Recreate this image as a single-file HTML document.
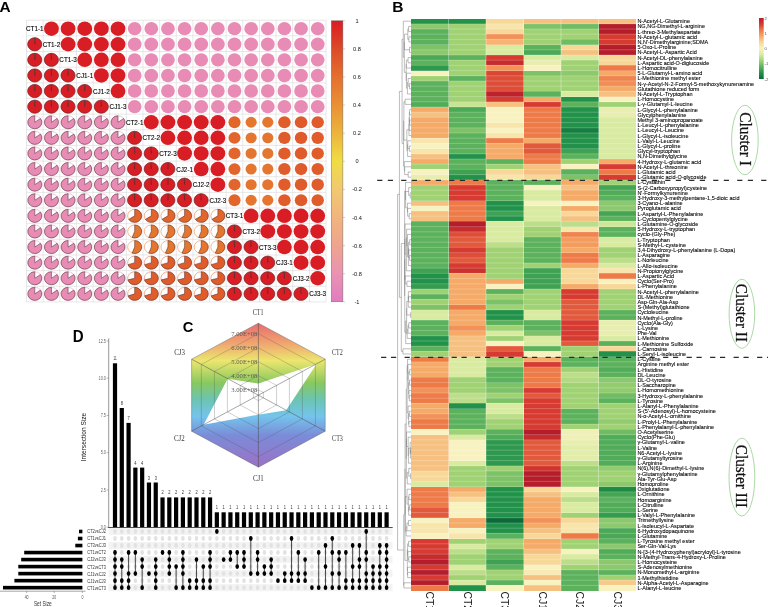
<!DOCTYPE html>
<html><head><meta charset="utf-8"><style>html,body{margin:0;padding:0;background:#fff;width:768px;height:607px;overflow:hidden;position:relative}</style></head>
<body>
<svg width="768" height="607" viewBox="0 0 768 607" style="position:absolute;left:0;top:0;will-change:transform">
<defs>
<linearGradient id="cbA" x1="0" y1="0" x2="0" y2="1"><stop offset="0" stop-color="#d91c24"/><stop offset="0.1" stop-color="#dc4a28"/><stop offset="0.2" stop-color="#e4702e"/><stop offset="0.3" stop-color="#e99034"/><stop offset="0.4" stop-color="#ecb43c"/><stop offset="0.5" stop-color="#efdd44"/><stop offset="0.6" stop-color="#f1c870"/><stop offset="0.7" stop-color="#f1b47e"/><stop offset="0.8" stop-color="#eea48e"/><stop offset="0.9" stop-color="#ea92b2"/><stop offset="1" stop-color="#e07cc0"/></linearGradient>
<linearGradient id="cbB" x1="0" y1="1" x2="0" y2="0"><stop offset="0" stop-color="#0a6a38"/><stop offset="0.1" stop-color="#22924a"/><stop offset="0.2" stop-color="#5cb25c"/><stop offset="0.3" stop-color="#a0d274"/><stop offset="0.4" stop-color="#d8eba0"/><stop offset="0.5" stop-color="#f8f2c0"/><stop offset="0.6" stop-color="#f8d898"/><stop offset="0.7" stop-color="#f5aa68"/><stop offset="0.8" stop-color="#ee7a48"/><stop offset="0.9" stop-color="#d63a30"/><stop offset="1" stop-color="#b51d2b"/></linearGradient>
<linearGradient id="hexg" x1="0" y1="0" x2="0" y2="1"><stop offset="0" stop-color="#e86c6e"/><stop offset="0.13" stop-color="#f0a070"/><stop offset="0.26" stop-color="#ece66e"/><stop offset="0.415" stop-color="#88c860"/><stop offset="0.526" stop-color="#6cc4b0"/><stop offset="0.647" stop-color="#74c4ec"/><stop offset="0.78" stop-color="#7a8cd8"/><stop offset="1" stop-color="#9c70c6"/></linearGradient>
</defs>
<rect x="0" y="0" width="768" height="607" fill="#fff"/>
<g font-family='"Liberation Sans", sans-serif' font-weight="bold" font-size="12" fill="#000">
<text transform="translate(-0.40 11.70) scale(1.100 1)" x="0" y="0" font-size="14.00">A</text>
<text transform="translate(392.30 11.70) scale(1.110 1)" x="0" y="0" font-size="14.00">B</text>
<text transform="translate(182.85 331.80) scale(0.960 1)" x="0" y="0" font-size="15.30">C</text>
<text transform="translate(72.70 341.60) scale(0.955 1)" x="0" y="0" font-size="15.80">D</text>
</g>
<g stroke="#d6d6d6" stroke-width="0.6">
<line x1="26.50" y1="20.20" x2="26.50" y2="301.90"/>
<line x1="26.50" y1="20.20" x2="326.02" y2="20.20"/>
<line x1="43.14" y1="20.20" x2="43.14" y2="301.90"/>
<line x1="26.50" y1="35.85" x2="326.02" y2="35.85"/>
<line x1="59.78" y1="20.20" x2="59.78" y2="301.90"/>
<line x1="26.50" y1="51.50" x2="326.02" y2="51.50"/>
<line x1="76.42" y1="20.20" x2="76.42" y2="301.90"/>
<line x1="26.50" y1="67.15" x2="326.02" y2="67.15"/>
<line x1="93.06" y1="20.20" x2="93.06" y2="301.90"/>
<line x1="26.50" y1="82.80" x2="326.02" y2="82.80"/>
<line x1="109.70" y1="20.20" x2="109.70" y2="301.90"/>
<line x1="26.50" y1="98.45" x2="326.02" y2="98.45"/>
<line x1="126.34" y1="20.20" x2="126.34" y2="301.90"/>
<line x1="26.50" y1="114.10" x2="326.02" y2="114.10"/>
<line x1="142.98" y1="20.20" x2="142.98" y2="301.90"/>
<line x1="26.50" y1="129.75" x2="326.02" y2="129.75"/>
<line x1="159.62" y1="20.20" x2="159.62" y2="301.90"/>
<line x1="26.50" y1="145.40" x2="326.02" y2="145.40"/>
<line x1="176.26" y1="20.20" x2="176.26" y2="301.90"/>
<line x1="26.50" y1="161.05" x2="326.02" y2="161.05"/>
<line x1="192.90" y1="20.20" x2="192.90" y2="301.90"/>
<line x1="26.50" y1="176.70" x2="326.02" y2="176.70"/>
<line x1="209.54" y1="20.20" x2="209.54" y2="301.90"/>
<line x1="26.50" y1="192.35" x2="326.02" y2="192.35"/>
<line x1="226.18" y1="20.20" x2="226.18" y2="301.90"/>
<line x1="26.50" y1="208.00" x2="326.02" y2="208.00"/>
<line x1="242.82" y1="20.20" x2="242.82" y2="301.90"/>
<line x1="26.50" y1="223.65" x2="326.02" y2="223.65"/>
<line x1="259.46" y1="20.20" x2="259.46" y2="301.90"/>
<line x1="26.50" y1="239.30" x2="326.02" y2="239.30"/>
<line x1="276.10" y1="20.20" x2="276.10" y2="301.90"/>
<line x1="26.50" y1="254.95" x2="326.02" y2="254.95"/>
<line x1="292.74" y1="20.20" x2="292.74" y2="301.90"/>
<line x1="26.50" y1="270.60" x2="326.02" y2="270.60"/>
<line x1="309.38" y1="20.20" x2="309.38" y2="301.90"/>
<line x1="26.50" y1="286.25" x2="326.02" y2="286.25"/>
<line x1="326.02" y1="20.20" x2="326.02" y2="301.90"/>
<line x1="26.50" y1="301.90" x2="326.02" y2="301.90"/>
</g>
<ellipse cx="51.46" cy="28.65" rx="7.43" ry="7.23" fill="#d91d24"/>
<ellipse cx="68.10" cy="28.65" rx="7.43" ry="7.23" fill="#d91d24"/>
<ellipse cx="84.74" cy="28.65" rx="7.43" ry="7.23" fill="#d91d24"/>
<ellipse cx="101.38" cy="28.65" rx="7.43" ry="7.23" fill="#d91d24"/>
<ellipse cx="118.02" cy="28.65" rx="7.43" ry="7.23" fill="#d91d24"/>
<ellipse cx="134.66" cy="28.65" rx="6.87" ry="6.68" fill="#e88cb6"/>
<ellipse cx="151.30" cy="28.65" rx="6.87" ry="6.68" fill="#e88cb6"/>
<ellipse cx="167.94" cy="28.65" rx="6.87" ry="6.68" fill="#e88cb6"/>
<ellipse cx="184.58" cy="28.65" rx="6.87" ry="6.68" fill="#e88cb6"/>
<ellipse cx="201.22" cy="28.65" rx="6.87" ry="6.68" fill="#e88cb6"/>
<ellipse cx="217.86" cy="28.65" rx="6.87" ry="6.68" fill="#e88cb6"/>
<ellipse cx="234.50" cy="28.65" rx="6.87" ry="6.68" fill="#e88cb6"/>
<ellipse cx="251.14" cy="28.65" rx="6.87" ry="6.68" fill="#e88cb6"/>
<ellipse cx="267.78" cy="28.65" rx="6.87" ry="6.68" fill="#e88cb6"/>
<ellipse cx="284.42" cy="28.65" rx="6.87" ry="6.68" fill="#e88cb6"/>
<ellipse cx="301.06" cy="28.65" rx="6.87" ry="6.68" fill="#e88cb6"/>
<ellipse cx="317.70" cy="28.65" rx="6.87" ry="6.68" fill="#e88cb6"/>
<ellipse cx="34.82" cy="44.25" rx="7.00" ry="6.50" fill="none" stroke="#d91d24" stroke-width="0.5"/>
<path d="M34.82 44.25 L34.82 37.75 A7.00 6.50 0 1 1 34.60 37.75 Z" fill="#d91d24" stroke="#4a2a2a" stroke-opacity="0.85" stroke-width="0.6"/>
<ellipse cx="68.10" cy="44.25" rx="7.43" ry="7.23" fill="#d91d24"/>
<ellipse cx="84.74" cy="44.25" rx="7.43" ry="7.23" fill="#d91d24"/>
<ellipse cx="101.38" cy="44.25" rx="7.43" ry="7.23" fill="#d91d24"/>
<ellipse cx="118.02" cy="44.25" rx="7.43" ry="7.23" fill="#d91d24"/>
<ellipse cx="134.66" cy="44.25" rx="6.87" ry="6.68" fill="#e88cb6"/>
<ellipse cx="151.30" cy="44.25" rx="6.87" ry="6.68" fill="#e88cb6"/>
<ellipse cx="167.94" cy="44.25" rx="6.87" ry="6.68" fill="#e88cb6"/>
<ellipse cx="184.58" cy="44.25" rx="6.87" ry="6.68" fill="#e88cb6"/>
<ellipse cx="201.22" cy="44.25" rx="6.87" ry="6.68" fill="#e88cb6"/>
<ellipse cx="217.86" cy="44.25" rx="6.87" ry="6.68" fill="#e88cb6"/>
<ellipse cx="234.50" cy="44.25" rx="6.87" ry="6.68" fill="#e88cb6"/>
<ellipse cx="251.14" cy="44.25" rx="6.87" ry="6.68" fill="#e88cb6"/>
<ellipse cx="267.78" cy="44.25" rx="6.87" ry="6.68" fill="#e88cb6"/>
<ellipse cx="284.42" cy="44.25" rx="6.87" ry="6.68" fill="#e88cb6"/>
<ellipse cx="301.06" cy="44.25" rx="6.87" ry="6.68" fill="#e88cb6"/>
<ellipse cx="317.70" cy="44.25" rx="6.87" ry="6.68" fill="#e88cb6"/>
<ellipse cx="34.82" cy="59.85" rx="7.00" ry="6.50" fill="none" stroke="#d91d24" stroke-width="0.5"/>
<path d="M34.82 59.85 L34.82 53.35 A7.00 6.50 0 1 1 34.60 53.35 Z" fill="#d91d24" stroke="#4a2a2a" stroke-opacity="0.85" stroke-width="0.6"/>
<ellipse cx="51.46" cy="59.85" rx="7.00" ry="6.50" fill="none" stroke="#d91d24" stroke-width="0.5"/>
<path d="M51.46 59.85 L51.46 53.35 A7.00 6.50 0 1 1 51.24 53.35 Z" fill="#d91d24" stroke="#4a2a2a" stroke-opacity="0.85" stroke-width="0.6"/>
<ellipse cx="84.74" cy="59.85" rx="7.43" ry="7.23" fill="#d91d24"/>
<ellipse cx="101.38" cy="59.85" rx="7.43" ry="7.23" fill="#d91d24"/>
<ellipse cx="118.02" cy="59.85" rx="7.43" ry="7.23" fill="#d91d24"/>
<ellipse cx="134.66" cy="59.85" rx="6.87" ry="6.68" fill="#e88cb6"/>
<ellipse cx="151.30" cy="59.85" rx="6.87" ry="6.68" fill="#e88cb6"/>
<ellipse cx="167.94" cy="59.85" rx="6.87" ry="6.68" fill="#e88cb6"/>
<ellipse cx="184.58" cy="59.85" rx="6.87" ry="6.68" fill="#e88cb6"/>
<ellipse cx="201.22" cy="59.85" rx="6.87" ry="6.68" fill="#e88cb6"/>
<ellipse cx="217.86" cy="59.85" rx="6.87" ry="6.68" fill="#e88cb6"/>
<ellipse cx="234.50" cy="59.85" rx="6.87" ry="6.68" fill="#e88cb6"/>
<ellipse cx="251.14" cy="59.85" rx="6.87" ry="6.68" fill="#e88cb6"/>
<ellipse cx="267.78" cy="59.85" rx="6.87" ry="6.68" fill="#e88cb6"/>
<ellipse cx="284.42" cy="59.85" rx="6.87" ry="6.68" fill="#e88cb6"/>
<ellipse cx="301.06" cy="59.85" rx="6.87" ry="6.68" fill="#e88cb6"/>
<ellipse cx="317.70" cy="59.85" rx="6.87" ry="6.68" fill="#e88cb6"/>
<ellipse cx="34.82" cy="75.45" rx="7.00" ry="6.50" fill="none" stroke="#d91d24" stroke-width="0.5"/>
<path d="M34.82 75.45 L34.82 68.95 A7.00 6.50 0 1 1 34.60 68.95 Z" fill="#d91d24" stroke="#4a2a2a" stroke-opacity="0.85" stroke-width="0.6"/>
<ellipse cx="51.46" cy="75.45" rx="7.00" ry="6.50" fill="none" stroke="#d91d24" stroke-width="0.5"/>
<path d="M51.46 75.45 L51.46 68.95 A7.00 6.50 0 1 1 51.24 68.95 Z" fill="#d91d24" stroke="#4a2a2a" stroke-opacity="0.85" stroke-width="0.6"/>
<ellipse cx="68.10" cy="75.45" rx="7.00" ry="6.50" fill="none" stroke="#d91d24" stroke-width="0.5"/>
<path d="M68.10 75.45 L68.10 68.95 A7.00 6.50 0 1 1 67.88 68.95 Z" fill="#d91d24" stroke="#4a2a2a" stroke-opacity="0.85" stroke-width="0.6"/>
<ellipse cx="101.38" cy="75.45" rx="7.43" ry="7.23" fill="#d91d24"/>
<ellipse cx="118.02" cy="75.45" rx="7.43" ry="7.23" fill="#d91d24"/>
<ellipse cx="134.66" cy="75.45" rx="6.87" ry="6.68" fill="#e88cb6"/>
<ellipse cx="151.30" cy="75.45" rx="6.87" ry="6.68" fill="#e88cb6"/>
<ellipse cx="167.94" cy="75.45" rx="6.87" ry="6.68" fill="#e88cb6"/>
<ellipse cx="184.58" cy="75.45" rx="6.87" ry="6.68" fill="#e88cb6"/>
<ellipse cx="201.22" cy="75.45" rx="6.87" ry="6.68" fill="#e88cb6"/>
<ellipse cx="217.86" cy="75.45" rx="6.87" ry="6.68" fill="#e88cb6"/>
<ellipse cx="234.50" cy="75.45" rx="6.87" ry="6.68" fill="#e88cb6"/>
<ellipse cx="251.14" cy="75.45" rx="6.87" ry="6.68" fill="#e88cb6"/>
<ellipse cx="267.78" cy="75.45" rx="6.87" ry="6.68" fill="#e88cb6"/>
<ellipse cx="284.42" cy="75.45" rx="6.87" ry="6.68" fill="#e88cb6"/>
<ellipse cx="301.06" cy="75.45" rx="6.87" ry="6.68" fill="#e88cb6"/>
<ellipse cx="317.70" cy="75.45" rx="6.87" ry="6.68" fill="#e88cb6"/>
<ellipse cx="34.82" cy="91.05" rx="7.00" ry="6.50" fill="none" stroke="#d91d24" stroke-width="0.5"/>
<path d="M34.82 91.05 L34.82 84.55 A7.00 6.50 0 1 1 34.60 84.55 Z" fill="#d91d24" stroke="#4a2a2a" stroke-opacity="0.85" stroke-width="0.6"/>
<ellipse cx="51.46" cy="91.05" rx="7.00" ry="6.50" fill="none" stroke="#d91d24" stroke-width="0.5"/>
<path d="M51.46 91.05 L51.46 84.55 A7.00 6.50 0 1 1 51.24 84.55 Z" fill="#d91d24" stroke="#4a2a2a" stroke-opacity="0.85" stroke-width="0.6"/>
<ellipse cx="68.10" cy="91.05" rx="7.00" ry="6.50" fill="none" stroke="#d91d24" stroke-width="0.5"/>
<path d="M68.10 91.05 L68.10 84.55 A7.00 6.50 0 1 1 67.88 84.55 Z" fill="#d91d24" stroke="#4a2a2a" stroke-opacity="0.85" stroke-width="0.6"/>
<ellipse cx="84.74" cy="91.05" rx="7.00" ry="6.50" fill="none" stroke="#d91d24" stroke-width="0.5"/>
<path d="M84.74 91.05 L84.74 84.55 A7.00 6.50 0 1 1 84.52 84.55 Z" fill="#d91d24" stroke="#4a2a2a" stroke-opacity="0.85" stroke-width="0.6"/>
<ellipse cx="118.02" cy="91.05" rx="7.43" ry="7.23" fill="#d91d24"/>
<ellipse cx="134.66" cy="91.05" rx="6.87" ry="6.68" fill="#e88cb6"/>
<ellipse cx="151.30" cy="91.05" rx="6.87" ry="6.68" fill="#e88cb6"/>
<ellipse cx="167.94" cy="91.05" rx="6.87" ry="6.68" fill="#e88cb6"/>
<ellipse cx="184.58" cy="91.05" rx="6.87" ry="6.68" fill="#e88cb6"/>
<ellipse cx="201.22" cy="91.05" rx="6.87" ry="6.68" fill="#e88cb6"/>
<ellipse cx="217.86" cy="91.05" rx="6.87" ry="6.68" fill="#e88cb6"/>
<ellipse cx="234.50" cy="91.05" rx="6.87" ry="6.68" fill="#e88cb6"/>
<ellipse cx="251.14" cy="91.05" rx="6.87" ry="6.68" fill="#e88cb6"/>
<ellipse cx="267.78" cy="91.05" rx="6.87" ry="6.68" fill="#e88cb6"/>
<ellipse cx="284.42" cy="91.05" rx="6.87" ry="6.68" fill="#e88cb6"/>
<ellipse cx="301.06" cy="91.05" rx="6.87" ry="6.68" fill="#e88cb6"/>
<ellipse cx="317.70" cy="91.05" rx="6.87" ry="6.68" fill="#e88cb6"/>
<ellipse cx="34.82" cy="106.65" rx="7.00" ry="6.50" fill="none" stroke="#d91d24" stroke-width="0.5"/>
<path d="M34.82 106.65 L34.82 100.15 A7.00 6.50 0 1 1 34.60 100.15 Z" fill="#d91d24" stroke="#4a2a2a" stroke-opacity="0.85" stroke-width="0.6"/>
<ellipse cx="51.46" cy="106.65" rx="7.00" ry="6.50" fill="none" stroke="#d91d24" stroke-width="0.5"/>
<path d="M51.46 106.65 L51.46 100.15 A7.00 6.50 0 1 1 51.24 100.15 Z" fill="#d91d24" stroke="#4a2a2a" stroke-opacity="0.85" stroke-width="0.6"/>
<ellipse cx="68.10" cy="106.65" rx="7.00" ry="6.50" fill="none" stroke="#d91d24" stroke-width="0.5"/>
<path d="M68.10 106.65 L68.10 100.15 A7.00 6.50 0 1 1 67.88 100.15 Z" fill="#d91d24" stroke="#4a2a2a" stroke-opacity="0.85" stroke-width="0.6"/>
<ellipse cx="84.74" cy="106.65" rx="7.00" ry="6.50" fill="none" stroke="#d91d24" stroke-width="0.5"/>
<path d="M84.74 106.65 L84.74 100.15 A7.00 6.50 0 1 1 84.52 100.15 Z" fill="#d91d24" stroke="#4a2a2a" stroke-opacity="0.85" stroke-width="0.6"/>
<ellipse cx="101.38" cy="106.65" rx="7.00" ry="6.50" fill="none" stroke="#d91d24" stroke-width="0.5"/>
<path d="M101.38 106.65 L101.38 100.15 A7.00 6.50 0 1 1 101.16 100.15 Z" fill="#d91d24" stroke="#4a2a2a" stroke-opacity="0.85" stroke-width="0.6"/>
<ellipse cx="134.66" cy="106.65" rx="6.87" ry="6.68" fill="#e88cb6"/>
<ellipse cx="151.30" cy="106.65" rx="6.87" ry="6.68" fill="#e88cb6"/>
<ellipse cx="167.94" cy="106.65" rx="6.87" ry="6.68" fill="#e88cb6"/>
<ellipse cx="184.58" cy="106.65" rx="6.87" ry="6.68" fill="#e88cb6"/>
<ellipse cx="201.22" cy="106.65" rx="6.87" ry="6.68" fill="#e88cb6"/>
<ellipse cx="217.86" cy="106.65" rx="6.87" ry="6.68" fill="#e88cb6"/>
<ellipse cx="234.50" cy="106.65" rx="6.87" ry="6.68" fill="#e88cb6"/>
<ellipse cx="251.14" cy="106.65" rx="6.87" ry="6.68" fill="#e88cb6"/>
<ellipse cx="267.78" cy="106.65" rx="6.87" ry="6.68" fill="#e88cb6"/>
<ellipse cx="284.42" cy="106.65" rx="6.87" ry="6.68" fill="#e88cb6"/>
<ellipse cx="301.06" cy="106.65" rx="6.87" ry="6.68" fill="#e88cb6"/>
<ellipse cx="317.70" cy="106.65" rx="6.87" ry="6.68" fill="#e88cb6"/>
<ellipse cx="34.82" cy="122.25" rx="7.00" ry="6.50" fill="none" stroke="#e88cb6" stroke-width="0.5"/>
<path d="M34.82 122.25 L34.82 115.75 A7.00 6.50 0 1 0 40.48 118.43 Z" fill="#e88cb6" stroke="#4a2a2a" stroke-opacity="0.85" stroke-width="0.6"/>
<ellipse cx="51.46" cy="122.25" rx="7.00" ry="6.50" fill="none" stroke="#e88cb6" stroke-width="0.5"/>
<path d="M51.46 122.25 L51.46 115.75 A7.00 6.50 0 1 0 57.12 118.43 Z" fill="#e88cb6" stroke="#4a2a2a" stroke-opacity="0.85" stroke-width="0.6"/>
<ellipse cx="68.10" cy="122.25" rx="7.00" ry="6.50" fill="none" stroke="#e88cb6" stroke-width="0.5"/>
<path d="M68.10 122.25 L68.10 115.75 A7.00 6.50 0 1 0 73.76 118.43 Z" fill="#e88cb6" stroke="#4a2a2a" stroke-opacity="0.85" stroke-width="0.6"/>
<ellipse cx="84.74" cy="122.25" rx="7.00" ry="6.50" fill="none" stroke="#e88cb6" stroke-width="0.5"/>
<path d="M84.74 122.25 L84.74 115.75 A7.00 6.50 0 1 0 90.40 118.43 Z" fill="#e88cb6" stroke="#4a2a2a" stroke-opacity="0.85" stroke-width="0.6"/>
<ellipse cx="101.38" cy="122.25" rx="7.00" ry="6.50" fill="none" stroke="#e88cb6" stroke-width="0.5"/>
<path d="M101.38 122.25 L101.38 115.75 A7.00 6.50 0 1 0 107.04 118.43 Z" fill="#e88cb6" stroke="#4a2a2a" stroke-opacity="0.85" stroke-width="0.6"/>
<ellipse cx="118.02" cy="122.25" rx="7.00" ry="6.50" fill="none" stroke="#e88cb6" stroke-width="0.5"/>
<path d="M118.02 122.25 L118.02 115.75 A7.00 6.50 0 1 0 123.68 118.43 Z" fill="#e88cb6" stroke="#4a2a2a" stroke-opacity="0.85" stroke-width="0.6"/>
<ellipse cx="151.30" cy="122.25" rx="7.43" ry="7.23" fill="#d91d24"/>
<ellipse cx="167.94" cy="122.25" rx="7.43" ry="7.23" fill="#d91d24"/>
<ellipse cx="184.58" cy="122.25" rx="7.43" ry="7.23" fill="#d91d24"/>
<ellipse cx="201.22" cy="122.25" rx="7.43" ry="7.23" fill="#d91d24"/>
<ellipse cx="217.86" cy="122.25" rx="7.43" ry="7.23" fill="#d91d24"/>
<ellipse cx="234.50" cy="122.25" rx="6.05" ry="5.89" fill="#e2652c"/>
<ellipse cx="251.14" cy="122.25" rx="5.58" ry="5.43" fill="#e5762f"/>
<ellipse cx="267.78" cy="122.25" rx="5.58" ry="5.43" fill="#e5762f"/>
<ellipse cx="284.42" cy="122.25" rx="6.23" ry="6.07" fill="#e05d2b"/>
<ellipse cx="301.06" cy="122.25" rx="6.28" ry="6.11" fill="#e05b2b"/>
<ellipse cx="317.70" cy="122.25" rx="6.23" ry="6.07" fill="#e05d2b"/>
<ellipse cx="34.82" cy="137.85" rx="7.00" ry="6.50" fill="none" stroke="#e88cb6" stroke-width="0.5"/>
<path d="M34.82 137.85 L34.82 131.35 A7.00 6.50 0 1 0 40.48 134.03 Z" fill="#e88cb6" stroke="#4a2a2a" stroke-opacity="0.85" stroke-width="0.6"/>
<ellipse cx="51.46" cy="137.85" rx="7.00" ry="6.50" fill="none" stroke="#e88cb6" stroke-width="0.5"/>
<path d="M51.46 137.85 L51.46 131.35 A7.00 6.50 0 1 0 57.12 134.03 Z" fill="#e88cb6" stroke="#4a2a2a" stroke-opacity="0.85" stroke-width="0.6"/>
<ellipse cx="68.10" cy="137.85" rx="7.00" ry="6.50" fill="none" stroke="#e88cb6" stroke-width="0.5"/>
<path d="M68.10 137.85 L68.10 131.35 A7.00 6.50 0 1 0 73.76 134.03 Z" fill="#e88cb6" stroke="#4a2a2a" stroke-opacity="0.85" stroke-width="0.6"/>
<ellipse cx="84.74" cy="137.85" rx="7.00" ry="6.50" fill="none" stroke="#e88cb6" stroke-width="0.5"/>
<path d="M84.74 137.85 L84.74 131.35 A7.00 6.50 0 1 0 90.40 134.03 Z" fill="#e88cb6" stroke="#4a2a2a" stroke-opacity="0.85" stroke-width="0.6"/>
<ellipse cx="101.38" cy="137.85" rx="7.00" ry="6.50" fill="none" stroke="#e88cb6" stroke-width="0.5"/>
<path d="M101.38 137.85 L101.38 131.35 A7.00 6.50 0 1 0 107.04 134.03 Z" fill="#e88cb6" stroke="#4a2a2a" stroke-opacity="0.85" stroke-width="0.6"/>
<ellipse cx="118.02" cy="137.85" rx="7.00" ry="6.50" fill="none" stroke="#e88cb6" stroke-width="0.5"/>
<path d="M118.02 137.85 L118.02 131.35 A7.00 6.50 0 1 0 123.68 134.03 Z" fill="#e88cb6" stroke="#4a2a2a" stroke-opacity="0.85" stroke-width="0.6"/>
<ellipse cx="134.66" cy="137.85" rx="7.00" ry="6.50" fill="none" stroke="#d91d24" stroke-width="0.5"/>
<path d="M134.66 137.85 L134.66 131.35 A7.00 6.50 0 1 1 134.44 131.35 Z" fill="#d91d24" stroke="#4a2a2a" stroke-opacity="0.85" stroke-width="0.6"/>
<ellipse cx="167.94" cy="137.85" rx="7.43" ry="7.23" fill="#d91d24"/>
<ellipse cx="184.58" cy="137.85" rx="7.43" ry="7.23" fill="#d91d24"/>
<ellipse cx="201.22" cy="137.85" rx="7.43" ry="7.23" fill="#d91d24"/>
<ellipse cx="217.86" cy="137.85" rx="7.43" ry="7.23" fill="#d91d24"/>
<ellipse cx="234.50" cy="137.85" rx="6.05" ry="5.89" fill="#e2652c"/>
<ellipse cx="251.14" cy="137.85" rx="5.58" ry="5.43" fill="#e5762f"/>
<ellipse cx="267.78" cy="137.85" rx="5.58" ry="5.43" fill="#e5762f"/>
<ellipse cx="284.42" cy="137.85" rx="6.23" ry="6.07" fill="#e05d2b"/>
<ellipse cx="301.06" cy="137.85" rx="6.28" ry="6.11" fill="#e05b2b"/>
<ellipse cx="317.70" cy="137.85" rx="6.23" ry="6.07" fill="#e05d2b"/>
<ellipse cx="34.82" cy="153.45" rx="7.00" ry="6.50" fill="none" stroke="#e88cb6" stroke-width="0.5"/>
<path d="M34.82 153.45 L34.82 146.95 A7.00 6.50 0 1 0 40.48 149.63 Z" fill="#e88cb6" stroke="#4a2a2a" stroke-opacity="0.85" stroke-width="0.6"/>
<ellipse cx="51.46" cy="153.45" rx="7.00" ry="6.50" fill="none" stroke="#e88cb6" stroke-width="0.5"/>
<path d="M51.46 153.45 L51.46 146.95 A7.00 6.50 0 1 0 57.12 149.63 Z" fill="#e88cb6" stroke="#4a2a2a" stroke-opacity="0.85" stroke-width="0.6"/>
<ellipse cx="68.10" cy="153.45" rx="7.00" ry="6.50" fill="none" stroke="#e88cb6" stroke-width="0.5"/>
<path d="M68.10 153.45 L68.10 146.95 A7.00 6.50 0 1 0 73.76 149.63 Z" fill="#e88cb6" stroke="#4a2a2a" stroke-opacity="0.85" stroke-width="0.6"/>
<ellipse cx="84.74" cy="153.45" rx="7.00" ry="6.50" fill="none" stroke="#e88cb6" stroke-width="0.5"/>
<path d="M84.74 153.45 L84.74 146.95 A7.00 6.50 0 1 0 90.40 149.63 Z" fill="#e88cb6" stroke="#4a2a2a" stroke-opacity="0.85" stroke-width="0.6"/>
<ellipse cx="101.38" cy="153.45" rx="7.00" ry="6.50" fill="none" stroke="#e88cb6" stroke-width="0.5"/>
<path d="M101.38 153.45 L101.38 146.95 A7.00 6.50 0 1 0 107.04 149.63 Z" fill="#e88cb6" stroke="#4a2a2a" stroke-opacity="0.85" stroke-width="0.6"/>
<ellipse cx="118.02" cy="153.45" rx="7.00" ry="6.50" fill="none" stroke="#e88cb6" stroke-width="0.5"/>
<path d="M118.02 153.45 L118.02 146.95 A7.00 6.50 0 1 0 123.68 149.63 Z" fill="#e88cb6" stroke="#4a2a2a" stroke-opacity="0.85" stroke-width="0.6"/>
<ellipse cx="134.66" cy="153.45" rx="7.00" ry="6.50" fill="none" stroke="#d91d24" stroke-width="0.5"/>
<path d="M134.66 153.45 L134.66 146.95 A7.00 6.50 0 1 1 134.44 146.95 Z" fill="#d91d24" stroke="#4a2a2a" stroke-opacity="0.85" stroke-width="0.6"/>
<ellipse cx="151.30" cy="153.45" rx="7.00" ry="6.50" fill="none" stroke="#d91d24" stroke-width="0.5"/>
<path d="M151.30 153.45 L151.30 146.95 A7.00 6.50 0 1 1 151.08 146.95 Z" fill="#d91d24" stroke="#4a2a2a" stroke-opacity="0.85" stroke-width="0.6"/>
<ellipse cx="184.58" cy="153.45" rx="7.43" ry="7.23" fill="#d91d24"/>
<ellipse cx="201.22" cy="153.45" rx="7.43" ry="7.23" fill="#d91d24"/>
<ellipse cx="217.86" cy="153.45" rx="7.43" ry="7.23" fill="#d91d24"/>
<ellipse cx="234.50" cy="153.45" rx="6.05" ry="5.89" fill="#e2652c"/>
<ellipse cx="251.14" cy="153.45" rx="5.58" ry="5.43" fill="#e5762f"/>
<ellipse cx="267.78" cy="153.45" rx="5.58" ry="5.43" fill="#e5762f"/>
<ellipse cx="284.42" cy="153.45" rx="6.23" ry="6.07" fill="#e05d2b"/>
<ellipse cx="301.06" cy="153.45" rx="6.28" ry="6.11" fill="#e05b2b"/>
<ellipse cx="317.70" cy="153.45" rx="6.23" ry="6.07" fill="#e05d2b"/>
<ellipse cx="34.82" cy="169.05" rx="7.00" ry="6.50" fill="none" stroke="#e88cb6" stroke-width="0.5"/>
<path d="M34.82 169.05 L34.82 162.55 A7.00 6.50 0 1 0 40.48 165.23 Z" fill="#e88cb6" stroke="#4a2a2a" stroke-opacity="0.85" stroke-width="0.6"/>
<ellipse cx="51.46" cy="169.05" rx="7.00" ry="6.50" fill="none" stroke="#e88cb6" stroke-width="0.5"/>
<path d="M51.46 169.05 L51.46 162.55 A7.00 6.50 0 1 0 57.12 165.23 Z" fill="#e88cb6" stroke="#4a2a2a" stroke-opacity="0.85" stroke-width="0.6"/>
<ellipse cx="68.10" cy="169.05" rx="7.00" ry="6.50" fill="none" stroke="#e88cb6" stroke-width="0.5"/>
<path d="M68.10 169.05 L68.10 162.55 A7.00 6.50 0 1 0 73.76 165.23 Z" fill="#e88cb6" stroke="#4a2a2a" stroke-opacity="0.85" stroke-width="0.6"/>
<ellipse cx="84.74" cy="169.05" rx="7.00" ry="6.50" fill="none" stroke="#e88cb6" stroke-width="0.5"/>
<path d="M84.74 169.05 L84.74 162.55 A7.00 6.50 0 1 0 90.40 165.23 Z" fill="#e88cb6" stroke="#4a2a2a" stroke-opacity="0.85" stroke-width="0.6"/>
<ellipse cx="101.38" cy="169.05" rx="7.00" ry="6.50" fill="none" stroke="#e88cb6" stroke-width="0.5"/>
<path d="M101.38 169.05 L101.38 162.55 A7.00 6.50 0 1 0 107.04 165.23 Z" fill="#e88cb6" stroke="#4a2a2a" stroke-opacity="0.85" stroke-width="0.6"/>
<ellipse cx="118.02" cy="169.05" rx="7.00" ry="6.50" fill="none" stroke="#e88cb6" stroke-width="0.5"/>
<path d="M118.02 169.05 L118.02 162.55 A7.00 6.50 0 1 0 123.68 165.23 Z" fill="#e88cb6" stroke="#4a2a2a" stroke-opacity="0.85" stroke-width="0.6"/>
<ellipse cx="134.66" cy="169.05" rx="7.00" ry="6.50" fill="none" stroke="#d91d24" stroke-width="0.5"/>
<path d="M134.66 169.05 L134.66 162.55 A7.00 6.50 0 1 1 134.44 162.55 Z" fill="#d91d24" stroke="#4a2a2a" stroke-opacity="0.85" stroke-width="0.6"/>
<ellipse cx="151.30" cy="169.05" rx="7.00" ry="6.50" fill="none" stroke="#d91d24" stroke-width="0.5"/>
<path d="M151.30 169.05 L151.30 162.55 A7.00 6.50 0 1 1 151.08 162.55 Z" fill="#d91d24" stroke="#4a2a2a" stroke-opacity="0.85" stroke-width="0.6"/>
<ellipse cx="167.94" cy="169.05" rx="7.00" ry="6.50" fill="none" stroke="#d91d24" stroke-width="0.5"/>
<path d="M167.94 169.05 L167.94 162.55 A7.00 6.50 0 1 1 167.72 162.55 Z" fill="#d91d24" stroke="#4a2a2a" stroke-opacity="0.85" stroke-width="0.6"/>
<ellipse cx="201.22" cy="169.05" rx="7.43" ry="7.23" fill="#d91d24"/>
<ellipse cx="217.86" cy="169.05" rx="7.43" ry="7.23" fill="#d91d24"/>
<ellipse cx="234.50" cy="169.05" rx="6.05" ry="5.89" fill="#e2652c"/>
<ellipse cx="251.14" cy="169.05" rx="5.58" ry="5.43" fill="#e5762f"/>
<ellipse cx="267.78" cy="169.05" rx="5.58" ry="5.43" fill="#e5762f"/>
<ellipse cx="284.42" cy="169.05" rx="6.23" ry="6.07" fill="#e05d2b"/>
<ellipse cx="301.06" cy="169.05" rx="6.28" ry="6.11" fill="#e05b2b"/>
<ellipse cx="317.70" cy="169.05" rx="6.23" ry="6.07" fill="#e05d2b"/>
<ellipse cx="34.82" cy="184.65" rx="7.00" ry="6.50" fill="none" stroke="#e88cb6" stroke-width="0.5"/>
<path d="M34.82 184.65 L34.82 178.15 A7.00 6.50 0 1 0 40.48 180.83 Z" fill="#e88cb6" stroke="#4a2a2a" stroke-opacity="0.85" stroke-width="0.6"/>
<ellipse cx="51.46" cy="184.65" rx="7.00" ry="6.50" fill="none" stroke="#e88cb6" stroke-width="0.5"/>
<path d="M51.46 184.65 L51.46 178.15 A7.00 6.50 0 1 0 57.12 180.83 Z" fill="#e88cb6" stroke="#4a2a2a" stroke-opacity="0.85" stroke-width="0.6"/>
<ellipse cx="68.10" cy="184.65" rx="7.00" ry="6.50" fill="none" stroke="#e88cb6" stroke-width="0.5"/>
<path d="M68.10 184.65 L68.10 178.15 A7.00 6.50 0 1 0 73.76 180.83 Z" fill="#e88cb6" stroke="#4a2a2a" stroke-opacity="0.85" stroke-width="0.6"/>
<ellipse cx="84.74" cy="184.65" rx="7.00" ry="6.50" fill="none" stroke="#e88cb6" stroke-width="0.5"/>
<path d="M84.74 184.65 L84.74 178.15 A7.00 6.50 0 1 0 90.40 180.83 Z" fill="#e88cb6" stroke="#4a2a2a" stroke-opacity="0.85" stroke-width="0.6"/>
<ellipse cx="101.38" cy="184.65" rx="7.00" ry="6.50" fill="none" stroke="#e88cb6" stroke-width="0.5"/>
<path d="M101.38 184.65 L101.38 178.15 A7.00 6.50 0 1 0 107.04 180.83 Z" fill="#e88cb6" stroke="#4a2a2a" stroke-opacity="0.85" stroke-width="0.6"/>
<ellipse cx="118.02" cy="184.65" rx="7.00" ry="6.50" fill="none" stroke="#e88cb6" stroke-width="0.5"/>
<path d="M118.02 184.65 L118.02 178.15 A7.00 6.50 0 1 0 123.68 180.83 Z" fill="#e88cb6" stroke="#4a2a2a" stroke-opacity="0.85" stroke-width="0.6"/>
<ellipse cx="134.66" cy="184.65" rx="7.00" ry="6.50" fill="none" stroke="#d91d24" stroke-width="0.5"/>
<path d="M134.66 184.65 L134.66 178.15 A7.00 6.50 0 1 1 134.44 178.15 Z" fill="#d91d24" stroke="#4a2a2a" stroke-opacity="0.85" stroke-width="0.6"/>
<ellipse cx="151.30" cy="184.65" rx="7.00" ry="6.50" fill="none" stroke="#d91d24" stroke-width="0.5"/>
<path d="M151.30 184.65 L151.30 178.15 A7.00 6.50 0 1 1 151.08 178.15 Z" fill="#d91d24" stroke="#4a2a2a" stroke-opacity="0.85" stroke-width="0.6"/>
<ellipse cx="167.94" cy="184.65" rx="7.00" ry="6.50" fill="none" stroke="#d91d24" stroke-width="0.5"/>
<path d="M167.94 184.65 L167.94 178.15 A7.00 6.50 0 1 1 167.72 178.15 Z" fill="#d91d24" stroke="#4a2a2a" stroke-opacity="0.85" stroke-width="0.6"/>
<ellipse cx="184.58" cy="184.65" rx="7.00" ry="6.50" fill="none" stroke="#d91d24" stroke-width="0.5"/>
<path d="M184.58 184.65 L184.58 178.15 A7.00 6.50 0 1 1 184.36 178.15 Z" fill="#d91d24" stroke="#4a2a2a" stroke-opacity="0.85" stroke-width="0.6"/>
<ellipse cx="217.86" cy="184.65" rx="7.43" ry="7.23" fill="#d91d24"/>
<ellipse cx="234.50" cy="184.65" rx="6.05" ry="5.89" fill="#e2652c"/>
<ellipse cx="251.14" cy="184.65" rx="5.58" ry="5.43" fill="#e5762f"/>
<ellipse cx="267.78" cy="184.65" rx="5.58" ry="5.43" fill="#e5762f"/>
<ellipse cx="284.42" cy="184.65" rx="6.23" ry="6.07" fill="#e05d2b"/>
<ellipse cx="301.06" cy="184.65" rx="6.28" ry="6.11" fill="#e05b2b"/>
<ellipse cx="317.70" cy="184.65" rx="6.23" ry="6.07" fill="#e05d2b"/>
<ellipse cx="34.82" cy="200.25" rx="7.00" ry="6.50" fill="none" stroke="#e88cb6" stroke-width="0.5"/>
<path d="M34.82 200.25 L34.82 193.75 A7.00 6.50 0 1 0 40.48 196.43 Z" fill="#e88cb6" stroke="#4a2a2a" stroke-opacity="0.85" stroke-width="0.6"/>
<ellipse cx="51.46" cy="200.25" rx="7.00" ry="6.50" fill="none" stroke="#e88cb6" stroke-width="0.5"/>
<path d="M51.46 200.25 L51.46 193.75 A7.00 6.50 0 1 0 57.12 196.43 Z" fill="#e88cb6" stroke="#4a2a2a" stroke-opacity="0.85" stroke-width="0.6"/>
<ellipse cx="68.10" cy="200.25" rx="7.00" ry="6.50" fill="none" stroke="#e88cb6" stroke-width="0.5"/>
<path d="M68.10 200.25 L68.10 193.75 A7.00 6.50 0 1 0 73.76 196.43 Z" fill="#e88cb6" stroke="#4a2a2a" stroke-opacity="0.85" stroke-width="0.6"/>
<ellipse cx="84.74" cy="200.25" rx="7.00" ry="6.50" fill="none" stroke="#e88cb6" stroke-width="0.5"/>
<path d="M84.74 200.25 L84.74 193.75 A7.00 6.50 0 1 0 90.40 196.43 Z" fill="#e88cb6" stroke="#4a2a2a" stroke-opacity="0.85" stroke-width="0.6"/>
<ellipse cx="101.38" cy="200.25" rx="7.00" ry="6.50" fill="none" stroke="#e88cb6" stroke-width="0.5"/>
<path d="M101.38 200.25 L101.38 193.75 A7.00 6.50 0 1 0 107.04 196.43 Z" fill="#e88cb6" stroke="#4a2a2a" stroke-opacity="0.85" stroke-width="0.6"/>
<ellipse cx="118.02" cy="200.25" rx="7.00" ry="6.50" fill="none" stroke="#e88cb6" stroke-width="0.5"/>
<path d="M118.02 200.25 L118.02 193.75 A7.00 6.50 0 1 0 123.68 196.43 Z" fill="#e88cb6" stroke="#4a2a2a" stroke-opacity="0.85" stroke-width="0.6"/>
<ellipse cx="134.66" cy="200.25" rx="7.00" ry="6.50" fill="none" stroke="#d91d24" stroke-width="0.5"/>
<path d="M134.66 200.25 L134.66 193.75 A7.00 6.50 0 1 1 134.44 193.75 Z" fill="#d91d24" stroke="#4a2a2a" stroke-opacity="0.85" stroke-width="0.6"/>
<ellipse cx="151.30" cy="200.25" rx="7.00" ry="6.50" fill="none" stroke="#d91d24" stroke-width="0.5"/>
<path d="M151.30 200.25 L151.30 193.75 A7.00 6.50 0 1 1 151.08 193.75 Z" fill="#d91d24" stroke="#4a2a2a" stroke-opacity="0.85" stroke-width="0.6"/>
<ellipse cx="167.94" cy="200.25" rx="7.00" ry="6.50" fill="none" stroke="#d91d24" stroke-width="0.5"/>
<path d="M167.94 200.25 L167.94 193.75 A7.00 6.50 0 1 1 167.72 193.75 Z" fill="#d91d24" stroke="#4a2a2a" stroke-opacity="0.85" stroke-width="0.6"/>
<ellipse cx="184.58" cy="200.25" rx="7.00" ry="6.50" fill="none" stroke="#d91d24" stroke-width="0.5"/>
<path d="M184.58 200.25 L184.58 193.75 A7.00 6.50 0 1 1 184.36 193.75 Z" fill="#d91d24" stroke="#4a2a2a" stroke-opacity="0.85" stroke-width="0.6"/>
<ellipse cx="201.22" cy="200.25" rx="7.00" ry="6.50" fill="none" stroke="#d91d24" stroke-width="0.5"/>
<path d="M201.22 200.25 L201.22 193.75 A7.00 6.50 0 1 1 201.00 193.75 Z" fill="#d91d24" stroke="#4a2a2a" stroke-opacity="0.85" stroke-width="0.6"/>
<ellipse cx="234.50" cy="200.25" rx="6.05" ry="5.89" fill="#e2652c"/>
<ellipse cx="251.14" cy="200.25" rx="5.58" ry="5.43" fill="#e5762f"/>
<ellipse cx="267.78" cy="200.25" rx="5.58" ry="5.43" fill="#e5762f"/>
<ellipse cx="284.42" cy="200.25" rx="6.23" ry="6.07" fill="#e05d2b"/>
<ellipse cx="301.06" cy="200.25" rx="6.28" ry="6.11" fill="#e05b2b"/>
<ellipse cx="317.70" cy="200.25" rx="6.23" ry="6.07" fill="#e05d2b"/>
<ellipse cx="34.82" cy="215.85" rx="7.00" ry="6.50" fill="none" stroke="#e88cb6" stroke-width="0.5"/>
<path d="M34.82 215.85 L34.82 209.35 A7.00 6.50 0 1 0 40.48 212.03 Z" fill="#e88cb6" stroke="#4a2a2a" stroke-opacity="0.85" stroke-width="0.6"/>
<ellipse cx="51.46" cy="215.85" rx="7.00" ry="6.50" fill="none" stroke="#e88cb6" stroke-width="0.5"/>
<path d="M51.46 215.85 L51.46 209.35 A7.00 6.50 0 1 0 57.12 212.03 Z" fill="#e88cb6" stroke="#4a2a2a" stroke-opacity="0.85" stroke-width="0.6"/>
<ellipse cx="68.10" cy="215.85" rx="7.00" ry="6.50" fill="none" stroke="#e88cb6" stroke-width="0.5"/>
<path d="M68.10 215.85 L68.10 209.35 A7.00 6.50 0 1 0 73.76 212.03 Z" fill="#e88cb6" stroke="#4a2a2a" stroke-opacity="0.85" stroke-width="0.6"/>
<ellipse cx="84.74" cy="215.85" rx="7.00" ry="6.50" fill="none" stroke="#e88cb6" stroke-width="0.5"/>
<path d="M84.74 215.85 L84.74 209.35 A7.00 6.50 0 1 0 90.40 212.03 Z" fill="#e88cb6" stroke="#4a2a2a" stroke-opacity="0.85" stroke-width="0.6"/>
<ellipse cx="101.38" cy="215.85" rx="7.00" ry="6.50" fill="none" stroke="#e88cb6" stroke-width="0.5"/>
<path d="M101.38 215.85 L101.38 209.35 A7.00 6.50 0 1 0 107.04 212.03 Z" fill="#e88cb6" stroke="#4a2a2a" stroke-opacity="0.85" stroke-width="0.6"/>
<ellipse cx="118.02" cy="215.85" rx="7.00" ry="6.50" fill="none" stroke="#e88cb6" stroke-width="0.5"/>
<path d="M118.02 215.85 L118.02 209.35 A7.00 6.50 0 1 0 123.68 212.03 Z" fill="#e88cb6" stroke="#4a2a2a" stroke-opacity="0.85" stroke-width="0.6"/>
<ellipse cx="134.66" cy="215.85" rx="7.00" ry="6.50" fill="none" stroke="#e2652c" stroke-width="0.5"/>
<path d="M134.66 215.85 L134.66 209.35 A7.00 6.50 0 1 1 128.75 219.33 Z" fill="#e2652c" stroke="#4a2a2a" stroke-opacity="0.85" stroke-width="0.6"/>
<ellipse cx="151.30" cy="215.85" rx="7.00" ry="6.50" fill="none" stroke="#e2652c" stroke-width="0.5"/>
<path d="M151.30 215.85 L151.30 209.35 A7.00 6.50 0 1 1 145.39 219.33 Z" fill="#e2652c" stroke="#4a2a2a" stroke-opacity="0.85" stroke-width="0.6"/>
<ellipse cx="167.94" cy="215.85" rx="7.00" ry="6.50" fill="none" stroke="#e2652c" stroke-width="0.5"/>
<path d="M167.94 215.85 L167.94 209.35 A7.00 6.50 0 1 1 162.03 219.33 Z" fill="#e2652c" stroke="#4a2a2a" stroke-opacity="0.85" stroke-width="0.6"/>
<ellipse cx="184.58" cy="215.85" rx="7.00" ry="6.50" fill="none" stroke="#e2652c" stroke-width="0.5"/>
<path d="M184.58 215.85 L184.58 209.35 A7.00 6.50 0 1 1 178.67 219.33 Z" fill="#e2652c" stroke="#4a2a2a" stroke-opacity="0.85" stroke-width="0.6"/>
<ellipse cx="201.22" cy="215.85" rx="7.00" ry="6.50" fill="none" stroke="#e2652c" stroke-width="0.5"/>
<path d="M201.22 215.85 L201.22 209.35 A7.00 6.50 0 1 1 195.31 219.33 Z" fill="#e2652c" stroke="#4a2a2a" stroke-opacity="0.85" stroke-width="0.6"/>
<ellipse cx="217.86" cy="215.85" rx="7.00" ry="6.50" fill="none" stroke="#e2652c" stroke-width="0.5"/>
<path d="M217.86 215.85 L217.86 209.35 A7.00 6.50 0 1 1 211.95 219.33 Z" fill="#e2652c" stroke="#4a2a2a" stroke-opacity="0.85" stroke-width="0.6"/>
<ellipse cx="251.14" cy="215.85" rx="7.43" ry="7.23" fill="#d91d24"/>
<ellipse cx="267.78" cy="215.85" rx="7.43" ry="7.23" fill="#d91d24"/>
<ellipse cx="284.42" cy="215.85" rx="7.43" ry="7.23" fill="#d91d24"/>
<ellipse cx="301.06" cy="215.85" rx="7.43" ry="7.23" fill="#d91d24"/>
<ellipse cx="317.70" cy="215.85" rx="7.43" ry="7.23" fill="#d91d24"/>
<ellipse cx="34.82" cy="231.45" rx="7.00" ry="6.50" fill="none" stroke="#e88cb6" stroke-width="0.5"/>
<path d="M34.82 231.45 L34.82 224.95 A7.00 6.50 0 1 0 40.48 227.63 Z" fill="#e88cb6" stroke="#4a2a2a" stroke-opacity="0.85" stroke-width="0.6"/>
<ellipse cx="51.46" cy="231.45" rx="7.00" ry="6.50" fill="none" stroke="#e88cb6" stroke-width="0.5"/>
<path d="M51.46 231.45 L51.46 224.95 A7.00 6.50 0 1 0 57.12 227.63 Z" fill="#e88cb6" stroke="#4a2a2a" stroke-opacity="0.85" stroke-width="0.6"/>
<ellipse cx="68.10" cy="231.45" rx="7.00" ry="6.50" fill="none" stroke="#e88cb6" stroke-width="0.5"/>
<path d="M68.10 231.45 L68.10 224.95 A7.00 6.50 0 1 0 73.76 227.63 Z" fill="#e88cb6" stroke="#4a2a2a" stroke-opacity="0.85" stroke-width="0.6"/>
<ellipse cx="84.74" cy="231.45" rx="7.00" ry="6.50" fill="none" stroke="#e88cb6" stroke-width="0.5"/>
<path d="M84.74 231.45 L84.74 224.95 A7.00 6.50 0 1 0 90.40 227.63 Z" fill="#e88cb6" stroke="#4a2a2a" stroke-opacity="0.85" stroke-width="0.6"/>
<ellipse cx="101.38" cy="231.45" rx="7.00" ry="6.50" fill="none" stroke="#e88cb6" stroke-width="0.5"/>
<path d="M101.38 231.45 L101.38 224.95 A7.00 6.50 0 1 0 107.04 227.63 Z" fill="#e88cb6" stroke="#4a2a2a" stroke-opacity="0.85" stroke-width="0.6"/>
<ellipse cx="118.02" cy="231.45" rx="7.00" ry="6.50" fill="none" stroke="#e88cb6" stroke-width="0.5"/>
<path d="M118.02 231.45 L118.02 224.95 A7.00 6.50 0 1 0 123.68 227.63 Z" fill="#e88cb6" stroke="#4a2a2a" stroke-opacity="0.85" stroke-width="0.6"/>
<ellipse cx="134.66" cy="231.45" rx="7.00" ry="6.50" fill="none" stroke="#e5762f" stroke-width="0.5"/>
<path d="M134.66 231.45 L134.66 224.95 A7.00 6.50 0 1 1 132.08 237.49 Z" fill="#e5762f" stroke="#4a2a2a" stroke-opacity="0.85" stroke-width="0.6"/>
<ellipse cx="151.30" cy="231.45" rx="7.00" ry="6.50" fill="none" stroke="#e5762f" stroke-width="0.5"/>
<path d="M151.30 231.45 L151.30 224.95 A7.00 6.50 0 1 1 148.72 237.49 Z" fill="#e5762f" stroke="#4a2a2a" stroke-opacity="0.85" stroke-width="0.6"/>
<ellipse cx="167.94" cy="231.45" rx="7.00" ry="6.50" fill="none" stroke="#e5762f" stroke-width="0.5"/>
<path d="M167.94 231.45 L167.94 224.95 A7.00 6.50 0 1 1 165.36 237.49 Z" fill="#e5762f" stroke="#4a2a2a" stroke-opacity="0.85" stroke-width="0.6"/>
<ellipse cx="184.58" cy="231.45" rx="7.00" ry="6.50" fill="none" stroke="#e5762f" stroke-width="0.5"/>
<path d="M184.58 231.45 L184.58 224.95 A7.00 6.50 0 1 1 182.00 237.49 Z" fill="#e5762f" stroke="#4a2a2a" stroke-opacity="0.85" stroke-width="0.6"/>
<ellipse cx="201.22" cy="231.45" rx="7.00" ry="6.50" fill="none" stroke="#e5762f" stroke-width="0.5"/>
<path d="M201.22 231.45 L201.22 224.95 A7.00 6.50 0 1 1 198.64 237.49 Z" fill="#e5762f" stroke="#4a2a2a" stroke-opacity="0.85" stroke-width="0.6"/>
<ellipse cx="217.86" cy="231.45" rx="7.00" ry="6.50" fill="none" stroke="#e5762f" stroke-width="0.5"/>
<path d="M217.86 231.45 L217.86 224.95 A7.00 6.50 0 1 1 215.28 237.49 Z" fill="#e5762f" stroke="#4a2a2a" stroke-opacity="0.85" stroke-width="0.6"/>
<ellipse cx="234.50" cy="231.45" rx="7.00" ry="6.50" fill="none" stroke="#d91d24" stroke-width="0.5"/>
<path d="M234.50 231.45 L234.50 224.95 A7.00 6.50 0 1 1 234.28 224.95 Z" fill="#d91d24" stroke="#4a2a2a" stroke-opacity="0.85" stroke-width="0.6"/>
<ellipse cx="267.78" cy="231.45" rx="7.43" ry="7.23" fill="#d91d24"/>
<ellipse cx="284.42" cy="231.45" rx="7.43" ry="7.23" fill="#d91d24"/>
<ellipse cx="301.06" cy="231.45" rx="7.43" ry="7.23" fill="#d91d24"/>
<ellipse cx="317.70" cy="231.45" rx="7.43" ry="7.23" fill="#d91d24"/>
<ellipse cx="34.82" cy="247.05" rx="7.00" ry="6.50" fill="none" stroke="#e88cb6" stroke-width="0.5"/>
<path d="M34.82 247.05 L34.82 240.55 A7.00 6.50 0 1 0 40.48 243.23 Z" fill="#e88cb6" stroke="#4a2a2a" stroke-opacity="0.85" stroke-width="0.6"/>
<ellipse cx="51.46" cy="247.05" rx="7.00" ry="6.50" fill="none" stroke="#e88cb6" stroke-width="0.5"/>
<path d="M51.46 247.05 L51.46 240.55 A7.00 6.50 0 1 0 57.12 243.23 Z" fill="#e88cb6" stroke="#4a2a2a" stroke-opacity="0.85" stroke-width="0.6"/>
<ellipse cx="68.10" cy="247.05" rx="7.00" ry="6.50" fill="none" stroke="#e88cb6" stroke-width="0.5"/>
<path d="M68.10 247.05 L68.10 240.55 A7.00 6.50 0 1 0 73.76 243.23 Z" fill="#e88cb6" stroke="#4a2a2a" stroke-opacity="0.85" stroke-width="0.6"/>
<ellipse cx="84.74" cy="247.05" rx="7.00" ry="6.50" fill="none" stroke="#e88cb6" stroke-width="0.5"/>
<path d="M84.74 247.05 L84.74 240.55 A7.00 6.50 0 1 0 90.40 243.23 Z" fill="#e88cb6" stroke="#4a2a2a" stroke-opacity="0.85" stroke-width="0.6"/>
<ellipse cx="101.38" cy="247.05" rx="7.00" ry="6.50" fill="none" stroke="#e88cb6" stroke-width="0.5"/>
<path d="M101.38 247.05 L101.38 240.55 A7.00 6.50 0 1 0 107.04 243.23 Z" fill="#e88cb6" stroke="#4a2a2a" stroke-opacity="0.85" stroke-width="0.6"/>
<ellipse cx="118.02" cy="247.05" rx="7.00" ry="6.50" fill="none" stroke="#e88cb6" stroke-width="0.5"/>
<path d="M118.02 247.05 L118.02 240.55 A7.00 6.50 0 1 0 123.68 243.23 Z" fill="#e88cb6" stroke="#4a2a2a" stroke-opacity="0.85" stroke-width="0.6"/>
<ellipse cx="134.66" cy="247.05" rx="7.00" ry="6.50" fill="none" stroke="#e5762f" stroke-width="0.5"/>
<path d="M134.66 247.05 L134.66 240.55 A7.00 6.50 0 1 1 132.08 253.09 Z" fill="#e5762f" stroke="#4a2a2a" stroke-opacity="0.85" stroke-width="0.6"/>
<ellipse cx="151.30" cy="247.05" rx="7.00" ry="6.50" fill="none" stroke="#e5762f" stroke-width="0.5"/>
<path d="M151.30 247.05 L151.30 240.55 A7.00 6.50 0 1 1 148.72 253.09 Z" fill="#e5762f" stroke="#4a2a2a" stroke-opacity="0.85" stroke-width="0.6"/>
<ellipse cx="167.94" cy="247.05" rx="7.00" ry="6.50" fill="none" stroke="#e5762f" stroke-width="0.5"/>
<path d="M167.94 247.05 L167.94 240.55 A7.00 6.50 0 1 1 165.36 253.09 Z" fill="#e5762f" stroke="#4a2a2a" stroke-opacity="0.85" stroke-width="0.6"/>
<ellipse cx="184.58" cy="247.05" rx="7.00" ry="6.50" fill="none" stroke="#e5762f" stroke-width="0.5"/>
<path d="M184.58 247.05 L184.58 240.55 A7.00 6.50 0 1 1 182.00 253.09 Z" fill="#e5762f" stroke="#4a2a2a" stroke-opacity="0.85" stroke-width="0.6"/>
<ellipse cx="201.22" cy="247.05" rx="7.00" ry="6.50" fill="none" stroke="#e5762f" stroke-width="0.5"/>
<path d="M201.22 247.05 L201.22 240.55 A7.00 6.50 0 1 1 198.64 253.09 Z" fill="#e5762f" stroke="#4a2a2a" stroke-opacity="0.85" stroke-width="0.6"/>
<ellipse cx="217.86" cy="247.05" rx="7.00" ry="6.50" fill="none" stroke="#e5762f" stroke-width="0.5"/>
<path d="M217.86 247.05 L217.86 240.55 A7.00 6.50 0 1 1 215.28 253.09 Z" fill="#e5762f" stroke="#4a2a2a" stroke-opacity="0.85" stroke-width="0.6"/>
<ellipse cx="234.50" cy="247.05" rx="7.00" ry="6.50" fill="none" stroke="#d91d24" stroke-width="0.5"/>
<path d="M234.50 247.05 L234.50 240.55 A7.00 6.50 0 1 1 234.28 240.55 Z" fill="#d91d24" stroke="#4a2a2a" stroke-opacity="0.85" stroke-width="0.6"/>
<ellipse cx="251.14" cy="247.05" rx="7.00" ry="6.50" fill="none" stroke="#d91d24" stroke-width="0.5"/>
<path d="M251.14 247.05 L251.14 240.55 A7.00 6.50 0 1 1 250.92 240.55 Z" fill="#d91d24" stroke="#4a2a2a" stroke-opacity="0.85" stroke-width="0.6"/>
<ellipse cx="284.42" cy="247.05" rx="7.43" ry="7.23" fill="#d91d24"/>
<ellipse cx="301.06" cy="247.05" rx="7.43" ry="7.23" fill="#d91d24"/>
<ellipse cx="317.70" cy="247.05" rx="7.43" ry="7.23" fill="#d91d24"/>
<ellipse cx="34.82" cy="262.65" rx="7.00" ry="6.50" fill="none" stroke="#e88cb6" stroke-width="0.5"/>
<path d="M34.82 262.65 L34.82 256.15 A7.00 6.50 0 1 0 40.48 258.83 Z" fill="#e88cb6" stroke="#4a2a2a" stroke-opacity="0.85" stroke-width="0.6"/>
<ellipse cx="51.46" cy="262.65" rx="7.00" ry="6.50" fill="none" stroke="#e88cb6" stroke-width="0.5"/>
<path d="M51.46 262.65 L51.46 256.15 A7.00 6.50 0 1 0 57.12 258.83 Z" fill="#e88cb6" stroke="#4a2a2a" stroke-opacity="0.85" stroke-width="0.6"/>
<ellipse cx="68.10" cy="262.65" rx="7.00" ry="6.50" fill="none" stroke="#e88cb6" stroke-width="0.5"/>
<path d="M68.10 262.65 L68.10 256.15 A7.00 6.50 0 1 0 73.76 258.83 Z" fill="#e88cb6" stroke="#4a2a2a" stroke-opacity="0.85" stroke-width="0.6"/>
<ellipse cx="84.74" cy="262.65" rx="7.00" ry="6.50" fill="none" stroke="#e88cb6" stroke-width="0.5"/>
<path d="M84.74 262.65 L84.74 256.15 A7.00 6.50 0 1 0 90.40 258.83 Z" fill="#e88cb6" stroke="#4a2a2a" stroke-opacity="0.85" stroke-width="0.6"/>
<ellipse cx="101.38" cy="262.65" rx="7.00" ry="6.50" fill="none" stroke="#e88cb6" stroke-width="0.5"/>
<path d="M101.38 262.65 L101.38 256.15 A7.00 6.50 0 1 0 107.04 258.83 Z" fill="#e88cb6" stroke="#4a2a2a" stroke-opacity="0.85" stroke-width="0.6"/>
<ellipse cx="118.02" cy="262.65" rx="7.00" ry="6.50" fill="none" stroke="#e88cb6" stroke-width="0.5"/>
<path d="M118.02 262.65 L118.02 256.15 A7.00 6.50 0 1 0 123.68 258.83 Z" fill="#e88cb6" stroke="#4a2a2a" stroke-opacity="0.85" stroke-width="0.6"/>
<ellipse cx="134.66" cy="262.65" rx="7.00" ry="6.50" fill="none" stroke="#e05d2b" stroke-width="0.5"/>
<path d="M134.66 262.65 L134.66 256.15 A7.00 6.50 0 1 1 128.00 264.66 Z" fill="#e05d2b" stroke="#4a2a2a" stroke-opacity="0.85" stroke-width="0.6"/>
<ellipse cx="151.30" cy="262.65" rx="7.00" ry="6.50" fill="none" stroke="#e05d2b" stroke-width="0.5"/>
<path d="M151.30 262.65 L151.30 256.15 A7.00 6.50 0 1 1 144.64 264.66 Z" fill="#e05d2b" stroke="#4a2a2a" stroke-opacity="0.85" stroke-width="0.6"/>
<ellipse cx="167.94" cy="262.65" rx="7.00" ry="6.50" fill="none" stroke="#e05d2b" stroke-width="0.5"/>
<path d="M167.94 262.65 L167.94 256.15 A7.00 6.50 0 1 1 161.28 264.66 Z" fill="#e05d2b" stroke="#4a2a2a" stroke-opacity="0.85" stroke-width="0.6"/>
<ellipse cx="184.58" cy="262.65" rx="7.00" ry="6.50" fill="none" stroke="#e05d2b" stroke-width="0.5"/>
<path d="M184.58 262.65 L184.58 256.15 A7.00 6.50 0 1 1 177.92 264.66 Z" fill="#e05d2b" stroke="#4a2a2a" stroke-opacity="0.85" stroke-width="0.6"/>
<ellipse cx="201.22" cy="262.65" rx="7.00" ry="6.50" fill="none" stroke="#e05d2b" stroke-width="0.5"/>
<path d="M201.22 262.65 L201.22 256.15 A7.00 6.50 0 1 1 194.56 264.66 Z" fill="#e05d2b" stroke="#4a2a2a" stroke-opacity="0.85" stroke-width="0.6"/>
<ellipse cx="217.86" cy="262.65" rx="7.00" ry="6.50" fill="none" stroke="#e05d2b" stroke-width="0.5"/>
<path d="M217.86 262.65 L217.86 256.15 A7.00 6.50 0 1 1 211.20 264.66 Z" fill="#e05d2b" stroke="#4a2a2a" stroke-opacity="0.85" stroke-width="0.6"/>
<ellipse cx="234.50" cy="262.65" rx="7.00" ry="6.50" fill="none" stroke="#d91d24" stroke-width="0.5"/>
<path d="M234.50 262.65 L234.50 256.15 A7.00 6.50 0 1 1 234.28 256.15 Z" fill="#d91d24" stroke="#4a2a2a" stroke-opacity="0.85" stroke-width="0.6"/>
<ellipse cx="251.14" cy="262.65" rx="7.00" ry="6.50" fill="none" stroke="#d91d24" stroke-width="0.5"/>
<path d="M251.14 262.65 L251.14 256.15 A7.00 6.50 0 1 1 250.92 256.15 Z" fill="#d91d24" stroke="#4a2a2a" stroke-opacity="0.85" stroke-width="0.6"/>
<ellipse cx="267.78" cy="262.65" rx="7.00" ry="6.50" fill="none" stroke="#d91d24" stroke-width="0.5"/>
<path d="M267.78 262.65 L267.78 256.15 A7.00 6.50 0 1 1 267.56 256.15 Z" fill="#d91d24" stroke="#4a2a2a" stroke-opacity="0.85" stroke-width="0.6"/>
<ellipse cx="301.06" cy="262.65" rx="7.43" ry="7.23" fill="#d91d24"/>
<ellipse cx="317.70" cy="262.65" rx="7.43" ry="7.23" fill="#d91d24"/>
<ellipse cx="34.82" cy="278.25" rx="7.00" ry="6.50" fill="none" stroke="#e88cb6" stroke-width="0.5"/>
<path d="M34.82 278.25 L34.82 271.75 A7.00 6.50 0 1 0 40.48 274.43 Z" fill="#e88cb6" stroke="#4a2a2a" stroke-opacity="0.85" stroke-width="0.6"/>
<ellipse cx="51.46" cy="278.25" rx="7.00" ry="6.50" fill="none" stroke="#e88cb6" stroke-width="0.5"/>
<path d="M51.46 278.25 L51.46 271.75 A7.00 6.50 0 1 0 57.12 274.43 Z" fill="#e88cb6" stroke="#4a2a2a" stroke-opacity="0.85" stroke-width="0.6"/>
<ellipse cx="68.10" cy="278.25" rx="7.00" ry="6.50" fill="none" stroke="#e88cb6" stroke-width="0.5"/>
<path d="M68.10 278.25 L68.10 271.75 A7.00 6.50 0 1 0 73.76 274.43 Z" fill="#e88cb6" stroke="#4a2a2a" stroke-opacity="0.85" stroke-width="0.6"/>
<ellipse cx="84.74" cy="278.25" rx="7.00" ry="6.50" fill="none" stroke="#e88cb6" stroke-width="0.5"/>
<path d="M84.74 278.25 L84.74 271.75 A7.00 6.50 0 1 0 90.40 274.43 Z" fill="#e88cb6" stroke="#4a2a2a" stroke-opacity="0.85" stroke-width="0.6"/>
<ellipse cx="101.38" cy="278.25" rx="7.00" ry="6.50" fill="none" stroke="#e88cb6" stroke-width="0.5"/>
<path d="M101.38 278.25 L101.38 271.75 A7.00 6.50 0 1 0 107.04 274.43 Z" fill="#e88cb6" stroke="#4a2a2a" stroke-opacity="0.85" stroke-width="0.6"/>
<ellipse cx="118.02" cy="278.25" rx="7.00" ry="6.50" fill="none" stroke="#e88cb6" stroke-width="0.5"/>
<path d="M118.02 278.25 L118.02 271.75 A7.00 6.50 0 1 0 123.68 274.43 Z" fill="#e88cb6" stroke="#4a2a2a" stroke-opacity="0.85" stroke-width="0.6"/>
<ellipse cx="134.66" cy="278.25" rx="7.00" ry="6.50" fill="none" stroke="#e05b2b" stroke-width="0.5"/>
<path d="M134.66 278.25 L134.66 271.75 A7.00 6.50 0 1 1 127.88 279.87 Z" fill="#e05b2b" stroke="#4a2a2a" stroke-opacity="0.85" stroke-width="0.6"/>
<ellipse cx="151.30" cy="278.25" rx="7.00" ry="6.50" fill="none" stroke="#e05b2b" stroke-width="0.5"/>
<path d="M151.30 278.25 L151.30 271.75 A7.00 6.50 0 1 1 144.52 279.87 Z" fill="#e05b2b" stroke="#4a2a2a" stroke-opacity="0.85" stroke-width="0.6"/>
<ellipse cx="167.94" cy="278.25" rx="7.00" ry="6.50" fill="none" stroke="#e05b2b" stroke-width="0.5"/>
<path d="M167.94 278.25 L167.94 271.75 A7.00 6.50 0 1 1 161.16 279.87 Z" fill="#e05b2b" stroke="#4a2a2a" stroke-opacity="0.85" stroke-width="0.6"/>
<ellipse cx="184.58" cy="278.25" rx="7.00" ry="6.50" fill="none" stroke="#e05b2b" stroke-width="0.5"/>
<path d="M184.58 278.25 L184.58 271.75 A7.00 6.50 0 1 1 177.80 279.87 Z" fill="#e05b2b" stroke="#4a2a2a" stroke-opacity="0.85" stroke-width="0.6"/>
<ellipse cx="201.22" cy="278.25" rx="7.00" ry="6.50" fill="none" stroke="#e05b2b" stroke-width="0.5"/>
<path d="M201.22 278.25 L201.22 271.75 A7.00 6.50 0 1 1 194.44 279.87 Z" fill="#e05b2b" stroke="#4a2a2a" stroke-opacity="0.85" stroke-width="0.6"/>
<ellipse cx="217.86" cy="278.25" rx="7.00" ry="6.50" fill="none" stroke="#e05b2b" stroke-width="0.5"/>
<path d="M217.86 278.25 L217.86 271.75 A7.00 6.50 0 1 1 211.08 279.87 Z" fill="#e05b2b" stroke="#4a2a2a" stroke-opacity="0.85" stroke-width="0.6"/>
<ellipse cx="234.50" cy="278.25" rx="7.00" ry="6.50" fill="none" stroke="#d91d24" stroke-width="0.5"/>
<path d="M234.50 278.25 L234.50 271.75 A7.00 6.50 0 1 1 234.28 271.75 Z" fill="#d91d24" stroke="#4a2a2a" stroke-opacity="0.85" stroke-width="0.6"/>
<ellipse cx="251.14" cy="278.25" rx="7.00" ry="6.50" fill="none" stroke="#d91d24" stroke-width="0.5"/>
<path d="M251.14 278.25 L251.14 271.75 A7.00 6.50 0 1 1 250.92 271.75 Z" fill="#d91d24" stroke="#4a2a2a" stroke-opacity="0.85" stroke-width="0.6"/>
<ellipse cx="267.78" cy="278.25" rx="7.00" ry="6.50" fill="none" stroke="#d91d24" stroke-width="0.5"/>
<path d="M267.78 278.25 L267.78 271.75 A7.00 6.50 0 1 1 267.56 271.75 Z" fill="#d91d24" stroke="#4a2a2a" stroke-opacity="0.85" stroke-width="0.6"/>
<ellipse cx="284.42" cy="278.25" rx="7.00" ry="6.50" fill="none" stroke="#d91d24" stroke-width="0.5"/>
<path d="M284.42 278.25 L284.42 271.75 A7.00 6.50 0 1 1 284.20 271.75 Z" fill="#d91d24" stroke="#4a2a2a" stroke-opacity="0.85" stroke-width="0.6"/>
<ellipse cx="317.70" cy="278.25" rx="7.43" ry="7.23" fill="#d91d24"/>
<ellipse cx="34.82" cy="293.85" rx="7.00" ry="6.50" fill="none" stroke="#e88cb6" stroke-width="0.5"/>
<path d="M34.82 293.85 L34.82 287.35 A7.00 6.50 0 1 0 40.48 290.03 Z" fill="#e88cb6" stroke="#4a2a2a" stroke-opacity="0.85" stroke-width="0.6"/>
<ellipse cx="51.46" cy="293.85" rx="7.00" ry="6.50" fill="none" stroke="#e88cb6" stroke-width="0.5"/>
<path d="M51.46 293.85 L51.46 287.35 A7.00 6.50 0 1 0 57.12 290.03 Z" fill="#e88cb6" stroke="#4a2a2a" stroke-opacity="0.85" stroke-width="0.6"/>
<ellipse cx="68.10" cy="293.85" rx="7.00" ry="6.50" fill="none" stroke="#e88cb6" stroke-width="0.5"/>
<path d="M68.10 293.85 L68.10 287.35 A7.00 6.50 0 1 0 73.76 290.03 Z" fill="#e88cb6" stroke="#4a2a2a" stroke-opacity="0.85" stroke-width="0.6"/>
<ellipse cx="84.74" cy="293.85" rx="7.00" ry="6.50" fill="none" stroke="#e88cb6" stroke-width="0.5"/>
<path d="M84.74 293.85 L84.74 287.35 A7.00 6.50 0 1 0 90.40 290.03 Z" fill="#e88cb6" stroke="#4a2a2a" stroke-opacity="0.85" stroke-width="0.6"/>
<ellipse cx="101.38" cy="293.85" rx="7.00" ry="6.50" fill="none" stroke="#e88cb6" stroke-width="0.5"/>
<path d="M101.38 293.85 L101.38 287.35 A7.00 6.50 0 1 0 107.04 290.03 Z" fill="#e88cb6" stroke="#4a2a2a" stroke-opacity="0.85" stroke-width="0.6"/>
<ellipse cx="118.02" cy="293.85" rx="7.00" ry="6.50" fill="none" stroke="#e88cb6" stroke-width="0.5"/>
<path d="M118.02 293.85 L118.02 287.35 A7.00 6.50 0 1 0 123.68 290.03 Z" fill="#e88cb6" stroke="#4a2a2a" stroke-opacity="0.85" stroke-width="0.6"/>
<ellipse cx="134.66" cy="293.85" rx="7.00" ry="6.50" fill="none" stroke="#e05d2b" stroke-width="0.5"/>
<path d="M134.66 293.85 L134.66 287.35 A7.00 6.50 0 1 1 128.00 295.86 Z" fill="#e05d2b" stroke="#4a2a2a" stroke-opacity="0.85" stroke-width="0.6"/>
<ellipse cx="151.30" cy="293.85" rx="7.00" ry="6.50" fill="none" stroke="#e05d2b" stroke-width="0.5"/>
<path d="M151.30 293.85 L151.30 287.35 A7.00 6.50 0 1 1 144.64 295.86 Z" fill="#e05d2b" stroke="#4a2a2a" stroke-opacity="0.85" stroke-width="0.6"/>
<ellipse cx="167.94" cy="293.85" rx="7.00" ry="6.50" fill="none" stroke="#e05d2b" stroke-width="0.5"/>
<path d="M167.94 293.85 L167.94 287.35 A7.00 6.50 0 1 1 161.28 295.86 Z" fill="#e05d2b" stroke="#4a2a2a" stroke-opacity="0.85" stroke-width="0.6"/>
<ellipse cx="184.58" cy="293.85" rx="7.00" ry="6.50" fill="none" stroke="#e05d2b" stroke-width="0.5"/>
<path d="M184.58 293.85 L184.58 287.35 A7.00 6.50 0 1 1 177.92 295.86 Z" fill="#e05d2b" stroke="#4a2a2a" stroke-opacity="0.85" stroke-width="0.6"/>
<ellipse cx="201.22" cy="293.85" rx="7.00" ry="6.50" fill="none" stroke="#e05d2b" stroke-width="0.5"/>
<path d="M201.22 293.85 L201.22 287.35 A7.00 6.50 0 1 1 194.56 295.86 Z" fill="#e05d2b" stroke="#4a2a2a" stroke-opacity="0.85" stroke-width="0.6"/>
<ellipse cx="217.86" cy="293.85" rx="7.00" ry="6.50" fill="none" stroke="#e05d2b" stroke-width="0.5"/>
<path d="M217.86 293.85 L217.86 287.35 A7.00 6.50 0 1 1 211.20 295.86 Z" fill="#e05d2b" stroke="#4a2a2a" stroke-opacity="0.85" stroke-width="0.6"/>
<ellipse cx="234.50" cy="293.85" rx="7.00" ry="6.50" fill="none" stroke="#d91d24" stroke-width="0.5"/>
<path d="M234.50 293.85 L234.50 287.35 A7.00 6.50 0 1 1 234.28 287.35 Z" fill="#d91d24" stroke="#4a2a2a" stroke-opacity="0.85" stroke-width="0.6"/>
<ellipse cx="251.14" cy="293.85" rx="7.00" ry="6.50" fill="none" stroke="#d91d24" stroke-width="0.5"/>
<path d="M251.14 293.85 L251.14 287.35 A7.00 6.50 0 1 1 250.92 287.35 Z" fill="#d91d24" stroke="#4a2a2a" stroke-opacity="0.85" stroke-width="0.6"/>
<ellipse cx="267.78" cy="293.85" rx="7.00" ry="6.50" fill="none" stroke="#d91d24" stroke-width="0.5"/>
<path d="M267.78 293.85 L267.78 287.35 A7.00 6.50 0 1 1 267.56 287.35 Z" fill="#d91d24" stroke="#4a2a2a" stroke-opacity="0.85" stroke-width="0.6"/>
<ellipse cx="284.42" cy="293.85" rx="7.00" ry="6.50" fill="none" stroke="#d91d24" stroke-width="0.5"/>
<path d="M284.42 293.85 L284.42 287.35 A7.00 6.50 0 1 1 284.20 287.35 Z" fill="#d91d24" stroke="#4a2a2a" stroke-opacity="0.85" stroke-width="0.6"/>
<ellipse cx="301.06" cy="293.85" rx="7.00" ry="6.50" fill="none" stroke="#d91d24" stroke-width="0.5"/>
<path d="M301.06 293.85 L301.06 287.35 A7.00 6.50 0 1 1 300.84 287.35 Z" fill="#d91d24" stroke="#4a2a2a" stroke-opacity="0.85" stroke-width="0.6"/>
<g font-family='"Liberation Sans", sans-serif' font-size="6.8" fill="#000" stroke="#000" stroke-width="0.12" text-anchor="middle">
<text x="0" y="31.25" transform="translate(34.82 0) scale(0.93 1)">CT1-1</text>
<text x="0" y="46.85" transform="translate(51.46 0) scale(0.93 1)">CT1-2</text>
<text x="0" y="62.45" transform="translate(68.10 0) scale(0.93 1)">CT1-3</text>
<text x="0" y="78.05" transform="translate(84.74 0) scale(0.93 1)">CJ1-1</text>
<text x="0" y="93.65" transform="translate(101.38 0) scale(0.93 1)">CJ1-2</text>
<text x="0" y="109.25" transform="translate(118.02 0) scale(0.93 1)">CJ1-3</text>
<text x="0" y="124.85" transform="translate(134.66 0) scale(0.93 1)">CT2-1</text>
<text x="0" y="140.45" transform="translate(151.30 0) scale(0.93 1)">CT2-2</text>
<text x="0" y="156.05" transform="translate(167.94 0) scale(0.93 1)">CT2-3</text>
<text x="0" y="171.65" transform="translate(184.58 0) scale(0.93 1)">CJ2-1</text>
<text x="0" y="187.25" transform="translate(201.22 0) scale(0.93 1)">CJ2-2</text>
<text x="0" y="202.85" transform="translate(217.86 0) scale(0.93 1)">CJ2-3</text>
<text x="0" y="218.45" transform="translate(234.50 0) scale(0.93 1)">CT3-1</text>
<text x="0" y="234.05" transform="translate(251.14 0) scale(0.93 1)">CT3-2</text>
<text x="0" y="249.65" transform="translate(267.78 0) scale(0.93 1)">CT3-3</text>
<text x="0" y="265.25" transform="translate(284.42 0) scale(0.93 1)">CJ3-1</text>
<text x="0" y="280.85" transform="translate(301.06 0) scale(0.93 1)">CJ3-2</text>
<text x="0" y="296.45" transform="translate(317.70 0) scale(0.93 1)">CJ3-3</text>
</g>
<rect x="331.3" y="20.8" width="11.6" height="281" fill="url(#cbA)" stroke="#666" stroke-width="0.45"/>
<g font-family='"Liberation Sans", sans-serif' font-size="5.6" fill="#111" text-anchor="middle">
<line x1="343" y1="20.80" x2="345" y2="20.80" stroke="#888" stroke-width="0.4"/>
<text x="357" y="22.80">1</text>
<line x1="343" y1="48.90" x2="345" y2="48.90" stroke="#888" stroke-width="0.4"/>
<text x="357" y="50.90">0.8</text>
<line x1="343" y1="77.00" x2="345" y2="77.00" stroke="#888" stroke-width="0.4"/>
<text x="357" y="79.00">0.6</text>
<line x1="343" y1="105.10" x2="345" y2="105.10" stroke="#888" stroke-width="0.4"/>
<text x="357" y="107.10">0.4</text>
<line x1="343" y1="133.20" x2="345" y2="133.20" stroke="#888" stroke-width="0.4"/>
<text x="357" y="135.20">0.2</text>
<line x1="343" y1="161.30" x2="345" y2="161.30" stroke="#888" stroke-width="0.4"/>
<text x="357" y="163.30">0</text>
<line x1="343" y1="189.40" x2="345" y2="189.40" stroke="#888" stroke-width="0.4"/>
<text x="357" y="191.40">-0.2</text>
<line x1="343" y1="217.50" x2="345" y2="217.50" stroke="#888" stroke-width="0.4"/>
<text x="357" y="219.50">-0.4</text>
<line x1="343" y1="245.60" x2="345" y2="245.60" stroke="#888" stroke-width="0.4"/>
<text x="357" y="247.60">-0.6</text>
<line x1="343" y1="273.70" x2="345" y2="273.70" stroke="#888" stroke-width="0.4"/>
<text x="357" y="275.70">-0.8</text>
<line x1="343" y1="301.80" x2="345" y2="301.80" stroke="#888" stroke-width="0.4"/>
<text x="357" y="303.80">-1</text>
</g>
<g shape-rendering="crispEdges">
<rect x="411.00" y="18.60" width="37.55" height="5.25" fill="#22924a"/>
<rect x="448.50" y="18.60" width="37.55" height="5.25" fill="#22924a"/>
<rect x="486.00" y="18.60" width="37.55" height="5.25" fill="#f8d898"/>
<rect x="523.50" y="18.60" width="37.55" height="5.25" fill="#f6c180"/>
<rect x="561.00" y="18.60" width="37.55" height="5.25" fill="#f6c180"/>
<rect x="598.50" y="18.60" width="37.55" height="5.25" fill="#f6c180"/>
<rect x="411.00" y="23.80" width="37.55" height="5.25" fill="#8cc86d"/>
<rect x="448.50" y="23.80" width="37.55" height="5.25" fill="#a0d274"/>
<rect x="486.00" y="23.80" width="37.55" height="5.25" fill="#f8e5ac"/>
<rect x="523.50" y="23.80" width="37.55" height="5.25" fill="#7ec268"/>
<rect x="561.00" y="23.80" width="37.55" height="5.25" fill="#70bc63"/>
<rect x="598.50" y="23.80" width="37.55" height="5.25" fill="#b51d2b"/>
<rect x="411.00" y="29.00" width="37.55" height="5.25" fill="#5cb25c"/>
<rect x="448.50" y="29.00" width="37.55" height="5.25" fill="#a0d274"/>
<rect x="486.00" y="29.00" width="37.55" height="5.25" fill="#f8d898"/>
<rect x="523.50" y="29.00" width="37.55" height="5.25" fill="#a0d274"/>
<rect x="561.00" y="29.00" width="37.55" height="5.25" fill="#a0d274"/>
<rect x="598.50" y="29.00" width="37.55" height="5.25" fill="#b51d2b"/>
<rect x="411.00" y="34.20" width="37.55" height="5.25" fill="#5cb25c"/>
<rect x="448.50" y="34.20" width="37.55" height="5.25" fill="#a0d274"/>
<rect x="486.00" y="34.20" width="37.55" height="5.25" fill="#f29258"/>
<rect x="523.50" y="34.20" width="37.55" height="5.25" fill="#a0d274"/>
<rect x="561.00" y="34.20" width="37.55" height="5.25" fill="#a0d274"/>
<rect x="598.50" y="34.20" width="37.55" height="5.25" fill="#d63a30"/>
<rect x="411.00" y="39.40" width="37.55" height="5.25" fill="#5cb25c"/>
<rect x="448.50" y="39.40" width="37.55" height="5.25" fill="#a0d274"/>
<rect x="486.00" y="39.40" width="37.55" height="5.25" fill="#f6b372"/>
<rect x="523.50" y="39.40" width="37.55" height="5.25" fill="#a0d274"/>
<rect x="561.00" y="39.40" width="37.55" height="5.25" fill="#70bc63"/>
<rect x="598.50" y="39.40" width="37.55" height="5.25" fill="#d63a30"/>
<rect x="411.00" y="44.60" width="37.55" height="5.25" fill="#7ec268"/>
<rect x="448.50" y="44.60" width="37.55" height="5.25" fill="#a0d274"/>
<rect x="486.00" y="44.60" width="37.55" height="5.25" fill="#d8eba0"/>
<rect x="523.50" y="44.60" width="37.55" height="5.25" fill="#5cb25c"/>
<rect x="561.00" y="44.60" width="37.55" height="5.25" fill="#f8d898"/>
<rect x="598.50" y="44.60" width="37.55" height="5.25" fill="#b51d2b"/>
<rect x="411.00" y="49.80" width="37.55" height="5.25" fill="#8cc86d"/>
<rect x="448.50" y="49.80" width="37.55" height="5.25" fill="#a0d274"/>
<rect x="486.00" y="49.80" width="37.55" height="5.25" fill="#d8eba0"/>
<rect x="523.50" y="49.80" width="37.55" height="5.25" fill="#4ba857"/>
<rect x="561.00" y="49.80" width="37.55" height="5.25" fill="#f6c180"/>
<rect x="598.50" y="49.80" width="37.55" height="5.25" fill="#b51d2b"/>
<rect x="411.00" y="55.00" width="37.55" height="5.25" fill="#4ba857"/>
<rect x="448.50" y="55.00" width="37.55" height="5.25" fill="#5cb25c"/>
<rect x="486.00" y="55.00" width="37.55" height="5.25" fill="#d63a30"/>
<rect x="523.50" y="55.00" width="37.55" height="5.25" fill="#d8eba0"/>
<rect x="561.00" y="55.00" width="37.55" height="5.25" fill="#d8eba0"/>
<rect x="598.50" y="55.00" width="37.55" height="5.25" fill="#f8d898"/>
<rect x="411.00" y="60.20" width="37.55" height="5.25" fill="#5cb25c"/>
<rect x="448.50" y="60.20" width="37.55" height="5.25" fill="#a0d274"/>
<rect x="486.00" y="60.20" width="37.55" height="5.25" fill="#c62c2e"/>
<rect x="523.50" y="60.20" width="37.55" height="5.25" fill="#e8eeb0"/>
<rect x="561.00" y="60.20" width="37.55" height="5.25" fill="#a0d274"/>
<rect x="598.50" y="60.20" width="37.55" height="5.25" fill="#f8d898"/>
<rect x="411.00" y="65.40" width="37.55" height="5.25" fill="#2e984e"/>
<rect x="448.50" y="65.40" width="37.55" height="5.25" fill="#a0d274"/>
<rect x="486.00" y="65.40" width="37.55" height="5.25" fill="#f29258"/>
<rect x="523.50" y="65.40" width="37.55" height="5.25" fill="#f8f2c0"/>
<rect x="561.00" y="65.40" width="37.55" height="5.25" fill="#a0d274"/>
<rect x="598.50" y="65.40" width="37.55" height="5.25" fill="#ee7a48"/>
<rect x="411.00" y="70.60" width="37.55" height="5.25" fill="#f8f2c0"/>
<rect x="448.50" y="70.60" width="37.55" height="5.25" fill="#a0d274"/>
<rect x="486.00" y="70.60" width="37.55" height="5.25" fill="#db4735"/>
<rect x="523.50" y="70.60" width="37.55" height="5.25" fill="#7ec268"/>
<rect x="561.00" y="70.60" width="37.55" height="5.25" fill="#8cc86d"/>
<rect x="598.50" y="70.60" width="37.55" height="5.25" fill="#f5aa68"/>
<rect x="411.00" y="75.80" width="37.55" height="5.25" fill="#a0d274"/>
<rect x="448.50" y="75.80" width="37.55" height="5.25" fill="#5cb25c"/>
<rect x="486.00" y="75.80" width="37.55" height="5.25" fill="#dd4d37"/>
<rect x="523.50" y="75.80" width="37.55" height="5.25" fill="#a0d274"/>
<rect x="561.00" y="75.80" width="37.55" height="5.25" fill="#a0d274"/>
<rect x="598.50" y="75.80" width="37.55" height="5.25" fill="#ef844e"/>
<rect x="411.00" y="81.00" width="37.55" height="5.25" fill="#5cb25c"/>
<rect x="448.50" y="81.00" width="37.55" height="5.25" fill="#a0d274"/>
<rect x="486.00" y="81.00" width="37.55" height="5.25" fill="#dd4d37"/>
<rect x="523.50" y="81.00" width="37.55" height="5.25" fill="#a0d274"/>
<rect x="561.00" y="81.00" width="37.55" height="5.25" fill="#a0d274"/>
<rect x="598.50" y="81.00" width="37.55" height="5.25" fill="#f18d55"/>
<rect x="411.00" y="86.20" width="37.55" height="5.25" fill="#5cb25c"/>
<rect x="448.50" y="86.20" width="37.55" height="5.25" fill="#a0d274"/>
<rect x="486.00" y="86.20" width="37.55" height="5.25" fill="#dd4d37"/>
<rect x="523.50" y="86.20" width="37.55" height="5.25" fill="#a0d274"/>
<rect x="561.00" y="86.20" width="37.55" height="5.25" fill="#a0d274"/>
<rect x="598.50" y="86.20" width="37.55" height="5.25" fill="#f5aa68"/>
<rect x="411.00" y="91.40" width="37.55" height="5.25" fill="#5cb25c"/>
<rect x="448.50" y="91.40" width="37.55" height="5.25" fill="#a0d274"/>
<rect x="486.00" y="91.40" width="37.55" height="5.25" fill="#bc232c"/>
<rect x="523.50" y="91.40" width="37.55" height="5.25" fill="#5cb25c"/>
<rect x="561.00" y="91.40" width="37.55" height="5.25" fill="#d8eba0"/>
<rect x="598.50" y="91.40" width="37.55" height="5.25" fill="#f6c180"/>
<rect x="411.00" y="96.60" width="37.55" height="5.25" fill="#5cb25c"/>
<rect x="448.50" y="96.60" width="37.55" height="5.25" fill="#a0d274"/>
<rect x="486.00" y="96.60" width="37.55" height="5.25" fill="#d63a30"/>
<rect x="523.50" y="96.60" width="37.55" height="5.25" fill="#f5aa68"/>
<rect x="561.00" y="96.60" width="37.55" height="5.25" fill="#22924a"/>
<rect x="598.50" y="96.60" width="37.55" height="5.25" fill="#f8f2c0"/>
<rect x="411.00" y="101.80" width="37.55" height="5.25" fill="#50ac58"/>
<rect x="448.50" y="101.80" width="37.55" height="5.25" fill="#c7e493"/>
<rect x="486.00" y="101.80" width="37.55" height="5.25" fill="#f6c180"/>
<rect x="523.50" y="101.80" width="37.55" height="5.25" fill="#d63a30"/>
<rect x="561.00" y="101.80" width="37.55" height="5.25" fill="#5cb25c"/>
<rect x="598.50" y="101.80" width="37.55" height="5.25" fill="#a0d274"/>
<rect x="411.00" y="107.00" width="37.55" height="5.25" fill="#f5aa68"/>
<rect x="448.50" y="107.00" width="37.55" height="5.25" fill="#4ba857"/>
<rect x="486.00" y="107.00" width="37.55" height="5.25" fill="#f8f2c0"/>
<rect x="523.50" y="107.00" width="37.55" height="5.25" fill="#ee7a48"/>
<rect x="561.00" y="107.00" width="37.55" height="5.25" fill="#22924a"/>
<rect x="598.50" y="107.00" width="37.55" height="5.25" fill="#e8eeb0"/>
<rect x="411.00" y="112.20" width="37.55" height="5.25" fill="#f6c180"/>
<rect x="448.50" y="112.20" width="37.55" height="5.25" fill="#5cb25c"/>
<rect x="486.00" y="112.20" width="37.55" height="5.25" fill="#f8f2c0"/>
<rect x="523.50" y="112.20" width="37.55" height="5.25" fill="#ee7a48"/>
<rect x="561.00" y="112.20" width="37.55" height="5.25" fill="#22924a"/>
<rect x="598.50" y="112.20" width="37.55" height="5.25" fill="#e8eeb0"/>
<rect x="411.00" y="117.40" width="37.55" height="5.25" fill="#f5aa68"/>
<rect x="448.50" y="117.40" width="37.55" height="5.25" fill="#5cb25c"/>
<rect x="486.00" y="117.40" width="37.55" height="5.25" fill="#f8f2c0"/>
<rect x="523.50" y="117.40" width="37.55" height="5.25" fill="#ee7a48"/>
<rect x="561.00" y="117.40" width="37.55" height="5.25" fill="#22924a"/>
<rect x="598.50" y="117.40" width="37.55" height="5.25" fill="#d8eba0"/>
<rect x="411.00" y="122.60" width="37.55" height="5.25" fill="#f5aa68"/>
<rect x="448.50" y="122.60" width="37.55" height="5.25" fill="#5cb25c"/>
<rect x="486.00" y="122.60" width="37.55" height="5.25" fill="#f8e5ac"/>
<rect x="523.50" y="122.60" width="37.55" height="5.25" fill="#ee7a48"/>
<rect x="561.00" y="122.60" width="37.55" height="5.25" fill="#22924a"/>
<rect x="598.50" y="122.60" width="37.55" height="5.25" fill="#d8eba0"/>
<rect x="411.00" y="127.80" width="37.55" height="5.25" fill="#f5aa68"/>
<rect x="448.50" y="127.80" width="37.55" height="5.25" fill="#7ec268"/>
<rect x="486.00" y="127.80" width="37.55" height="5.25" fill="#f8f2c0"/>
<rect x="523.50" y="127.80" width="37.55" height="5.25" fill="#ee7a48"/>
<rect x="561.00" y="127.80" width="37.55" height="5.25" fill="#167e41"/>
<rect x="598.50" y="127.80" width="37.55" height="5.25" fill="#d8eba0"/>
<rect x="411.00" y="133.00" width="37.55" height="5.25" fill="#f5aa68"/>
<rect x="448.50" y="133.00" width="37.55" height="5.25" fill="#5cb25c"/>
<rect x="486.00" y="133.00" width="37.55" height="5.25" fill="#f8e5ac"/>
<rect x="523.50" y="133.00" width="37.55" height="5.25" fill="#ee7a48"/>
<rect x="561.00" y="133.00" width="37.55" height="5.25" fill="#22924a"/>
<rect x="598.50" y="133.00" width="37.55" height="5.25" fill="#d8eba0"/>
<rect x="411.00" y="138.20" width="37.55" height="5.25" fill="#f8e5ac"/>
<rect x="448.50" y="138.20" width="37.55" height="5.25" fill="#5cb25c"/>
<rect x="486.00" y="138.20" width="37.55" height="5.25" fill="#ee7a48"/>
<rect x="523.50" y="138.20" width="37.55" height="5.25" fill="#f5aa68"/>
<rect x="561.00" y="138.20" width="37.55" height="5.25" fill="#22924a"/>
<rect x="598.50" y="138.20" width="37.55" height="5.25" fill="#d8eba0"/>
<rect x="411.00" y="143.40" width="37.55" height="5.25" fill="#f8f2c0"/>
<rect x="448.50" y="143.40" width="37.55" height="5.25" fill="#5cb25c"/>
<rect x="486.00" y="143.40" width="37.55" height="5.25" fill="#f5aa68"/>
<rect x="523.50" y="143.40" width="37.55" height="5.25" fill="#e25a3c"/>
<rect x="561.00" y="143.40" width="37.55" height="5.25" fill="#22924a"/>
<rect x="598.50" y="143.40" width="37.55" height="5.25" fill="#d8eba0"/>
<rect x="411.00" y="148.60" width="37.55" height="5.25" fill="#f8e5ac"/>
<rect x="448.50" y="148.60" width="37.55" height="5.25" fill="#5cb25c"/>
<rect x="486.00" y="148.60" width="37.55" height="5.25" fill="#f5aa68"/>
<rect x="523.50" y="148.60" width="37.55" height="5.25" fill="#e25a3c"/>
<rect x="561.00" y="148.60" width="37.55" height="5.25" fill="#3fa253"/>
<rect x="598.50" y="148.60" width="37.55" height="5.25" fill="#d8eba0"/>
<rect x="411.00" y="153.80" width="37.55" height="5.25" fill="#f6c180"/>
<rect x="448.50" y="153.80" width="37.55" height="5.25" fill="#22924a"/>
<rect x="486.00" y="153.80" width="37.55" height="5.25" fill="#f5aa68"/>
<rect x="523.50" y="153.80" width="37.55" height="5.25" fill="#ee7a48"/>
<rect x="561.00" y="153.80" width="37.55" height="5.25" fill="#5cb25c"/>
<rect x="598.50" y="153.80" width="37.55" height="5.25" fill="#d8eba0"/>
<rect x="411.00" y="159.00" width="37.55" height="5.25" fill="#f5aa68"/>
<rect x="448.50" y="159.00" width="37.55" height="5.25" fill="#5cb25c"/>
<rect x="486.00" y="159.00" width="37.55" height="5.25" fill="#5cb25c"/>
<rect x="523.50" y="159.00" width="37.55" height="5.25" fill="#ee7a48"/>
<rect x="561.00" y="159.00" width="37.55" height="5.25" fill="#a0d274"/>
<rect x="598.50" y="159.00" width="37.55" height="5.25" fill="#f5aa68"/>
<rect x="411.00" y="164.20" width="37.55" height="5.25" fill="#a0d274"/>
<rect x="448.50" y="164.20" width="37.55" height="5.25" fill="#5cb25c"/>
<rect x="486.00" y="164.20" width="37.55" height="5.25" fill="#a0d274"/>
<rect x="523.50" y="164.20" width="37.55" height="5.25" fill="#f6c180"/>
<rect x="561.00" y="164.20" width="37.55" height="5.25" fill="#f8f2c0"/>
<rect x="598.50" y="164.20" width="37.55" height="5.25" fill="#d63a30"/>
<rect x="411.00" y="169.40" width="37.55" height="5.25" fill="#f8f2c0"/>
<rect x="448.50" y="169.40" width="37.55" height="5.25" fill="#3fa253"/>
<rect x="486.00" y="169.40" width="37.55" height="5.25" fill="#f8d898"/>
<rect x="523.50" y="169.40" width="37.55" height="5.25" fill="#f6c180"/>
<rect x="561.00" y="169.40" width="37.55" height="5.25" fill="#5cb25c"/>
<rect x="598.50" y="169.40" width="37.55" height="5.25" fill="#ee7a48"/>
<rect x="411.00" y="174.60" width="37.55" height="5.25" fill="#e8eeb0"/>
<rect x="448.50" y="174.60" width="37.55" height="5.25" fill="#22924a"/>
<rect x="486.00" y="174.60" width="37.55" height="5.25" fill="#f8e5ac"/>
<rect x="523.50" y="174.60" width="37.55" height="5.25" fill="#f8d898"/>
<rect x="561.00" y="174.60" width="37.55" height="5.25" fill="#7ec268"/>
<rect x="598.50" y="174.60" width="37.55" height="5.25" fill="#d63a30"/>
<rect x="411.00" y="179.80" width="37.55" height="5.25" fill="#f5aa68"/>
<rect x="448.50" y="179.80" width="37.55" height="5.25" fill="#ee7a48"/>
<rect x="486.00" y="179.80" width="37.55" height="5.25" fill="#5cb25c"/>
<rect x="523.50" y="179.80" width="37.55" height="5.25" fill="#5cb25c"/>
<rect x="561.00" y="179.80" width="37.55" height="5.25" fill="#f5aa68"/>
<rect x="598.50" y="179.80" width="37.55" height="5.25" fill="#a0d274"/>
<rect x="411.00" y="185.00" width="37.55" height="5.25" fill="#a0d274"/>
<rect x="448.50" y="185.00" width="37.55" height="5.25" fill="#d63a30"/>
<rect x="486.00" y="185.00" width="37.55" height="5.25" fill="#5cb25c"/>
<rect x="523.50" y="185.00" width="37.55" height="5.25" fill="#f8f2c0"/>
<rect x="561.00" y="185.00" width="37.55" height="5.25" fill="#f6c180"/>
<rect x="598.50" y="185.00" width="37.55" height="5.25" fill="#45a555"/>
<rect x="411.00" y="190.20" width="37.55" height="5.25" fill="#a0d274"/>
<rect x="448.50" y="190.20" width="37.55" height="5.25" fill="#d63a30"/>
<rect x="486.00" y="190.20" width="37.55" height="5.25" fill="#5cb25c"/>
<rect x="523.50" y="190.20" width="37.55" height="5.25" fill="#d8eba0"/>
<rect x="561.00" y="190.20" width="37.55" height="5.25" fill="#f5aa68"/>
<rect x="598.50" y="190.20" width="37.55" height="5.25" fill="#50ac58"/>
<rect x="411.00" y="195.40" width="37.55" height="5.25" fill="#a0d274"/>
<rect x="448.50" y="195.40" width="37.55" height="5.25" fill="#d63a30"/>
<rect x="486.00" y="195.40" width="37.55" height="5.25" fill="#5cb25c"/>
<rect x="523.50" y="195.40" width="37.55" height="5.25" fill="#d8eba0"/>
<rect x="561.00" y="195.40" width="37.55" height="5.25" fill="#f5aa68"/>
<rect x="598.50" y="195.40" width="37.55" height="5.25" fill="#5cb25c"/>
<rect x="411.00" y="200.60" width="37.55" height="5.25" fill="#f6c180"/>
<rect x="448.50" y="200.60" width="37.55" height="5.25" fill="#ee7a48"/>
<rect x="486.00" y="200.60" width="37.55" height="5.25" fill="#22924a"/>
<rect x="523.50" y="200.60" width="37.55" height="5.25" fill="#f8f2c0"/>
<rect x="561.00" y="200.60" width="37.55" height="5.25" fill="#f8f2c0"/>
<rect x="598.50" y="200.60" width="37.55" height="5.25" fill="#8cc86d"/>
<rect x="411.00" y="205.80" width="37.55" height="5.25" fill="#f8f2c0"/>
<rect x="448.50" y="205.80" width="37.55" height="5.25" fill="#ee7a48"/>
<rect x="486.00" y="205.80" width="37.55" height="5.25" fill="#22924a"/>
<rect x="523.50" y="205.80" width="37.55" height="5.25" fill="#d8eba0"/>
<rect x="561.00" y="205.80" width="37.55" height="5.25" fill="#f5aa68"/>
<rect x="598.50" y="205.80" width="37.55" height="5.25" fill="#8cc86d"/>
<rect x="411.00" y="211.00" width="37.55" height="5.25" fill="#f6c180"/>
<rect x="448.50" y="211.00" width="37.55" height="5.25" fill="#ee7a48"/>
<rect x="486.00" y="211.00" width="37.55" height="5.25" fill="#3fa253"/>
<rect x="523.50" y="211.00" width="37.55" height="5.25" fill="#d8eba0"/>
<rect x="561.00" y="211.00" width="37.55" height="5.25" fill="#f8d898"/>
<rect x="598.50" y="211.00" width="37.55" height="5.25" fill="#45a555"/>
<rect x="411.00" y="216.20" width="37.55" height="5.25" fill="#f6c180"/>
<rect x="448.50" y="216.20" width="37.55" height="5.25" fill="#ee7a48"/>
<rect x="486.00" y="216.20" width="37.55" height="5.25" fill="#22924a"/>
<rect x="523.50" y="216.20" width="37.55" height="5.25" fill="#d8eba0"/>
<rect x="561.00" y="216.20" width="37.55" height="5.25" fill="#f6c180"/>
<rect x="598.50" y="216.20" width="37.55" height="5.25" fill="#5cb25c"/>
<rect x="411.00" y="221.40" width="37.55" height="5.25" fill="#5cb25c"/>
<rect x="448.50" y="221.40" width="37.55" height="5.25" fill="#b51d2b"/>
<rect x="486.00" y="221.40" width="37.55" height="5.25" fill="#d8eba0"/>
<rect x="523.50" y="221.40" width="37.55" height="5.25" fill="#bcde8a"/>
<rect x="561.00" y="221.40" width="37.55" height="5.25" fill="#bcde8a"/>
<rect x="598.50" y="221.40" width="37.55" height="5.25" fill="#cde697"/>
<rect x="411.00" y="226.60" width="37.55" height="5.25" fill="#5cb25c"/>
<rect x="448.50" y="226.60" width="37.55" height="5.25" fill="#c62c2e"/>
<rect x="486.00" y="226.60" width="37.55" height="5.25" fill="#d8eba0"/>
<rect x="523.50" y="226.60" width="37.55" height="5.25" fill="#a0d274"/>
<rect x="561.00" y="226.60" width="37.55" height="5.25" fill="#f8e5ac"/>
<rect x="598.50" y="226.60" width="37.55" height="5.25" fill="#5cb25c"/>
<rect x="411.00" y="231.80" width="37.55" height="5.25" fill="#5cb25c"/>
<rect x="448.50" y="231.80" width="37.55" height="5.25" fill="#dd4d37"/>
<rect x="486.00" y="231.80" width="37.55" height="5.25" fill="#d8eba0"/>
<rect x="523.50" y="231.80" width="37.55" height="5.25" fill="#a0d274"/>
<rect x="561.00" y="231.80" width="37.55" height="5.25" fill="#ef844e"/>
<rect x="598.50" y="231.80" width="37.55" height="5.25" fill="#5cb25c"/>
<rect x="411.00" y="237.00" width="37.55" height="5.25" fill="#5cb25c"/>
<rect x="448.50" y="237.00" width="37.55" height="5.25" fill="#e25a3c"/>
<rect x="486.00" y="237.00" width="37.55" height="5.25" fill="#d8eba0"/>
<rect x="523.50" y="237.00" width="37.55" height="5.25" fill="#5cb25c"/>
<rect x="561.00" y="237.00" width="37.55" height="5.25" fill="#f39c5e"/>
<rect x="598.50" y="237.00" width="37.55" height="5.25" fill="#d8eba0"/>
<rect x="411.00" y="242.20" width="37.55" height="5.25" fill="#5cb25c"/>
<rect x="448.50" y="242.20" width="37.55" height="5.25" fill="#e25a3c"/>
<rect x="486.00" y="242.20" width="37.55" height="5.25" fill="#bcde8a"/>
<rect x="523.50" y="242.20" width="37.55" height="5.25" fill="#5cb25c"/>
<rect x="561.00" y="242.20" width="37.55" height="5.25" fill="#f39c5e"/>
<rect x="598.50" y="242.20" width="37.55" height="5.25" fill="#d8eba0"/>
<rect x="411.00" y="247.40" width="37.55" height="5.25" fill="#5cb25c"/>
<rect x="448.50" y="247.40" width="37.55" height="5.25" fill="#d63a30"/>
<rect x="486.00" y="247.40" width="37.55" height="5.25" fill="#a0d274"/>
<rect x="523.50" y="247.40" width="37.55" height="5.25" fill="#5cb25c"/>
<rect x="561.00" y="247.40" width="37.55" height="5.25" fill="#f5aa68"/>
<rect x="598.50" y="247.40" width="37.55" height="5.25" fill="#a0d274"/>
<rect x="411.00" y="252.60" width="37.55" height="5.25" fill="#5cb25c"/>
<rect x="448.50" y="252.60" width="37.55" height="5.25" fill="#dd4d37"/>
<rect x="486.00" y="252.60" width="37.55" height="5.25" fill="#a0d274"/>
<rect x="523.50" y="252.60" width="37.55" height="5.25" fill="#5cb25c"/>
<rect x="561.00" y="252.60" width="37.55" height="5.25" fill="#ee7a48"/>
<rect x="598.50" y="252.60" width="37.55" height="5.25" fill="#a0d274"/>
<rect x="411.00" y="257.80" width="37.55" height="5.25" fill="#5cb25c"/>
<rect x="448.50" y="257.80" width="37.55" height="5.25" fill="#e25a3c"/>
<rect x="486.00" y="257.80" width="37.55" height="5.25" fill="#a0d274"/>
<rect x="523.50" y="257.80" width="37.55" height="5.25" fill="#5cb25c"/>
<rect x="561.00" y="257.80" width="37.55" height="5.25" fill="#ee7a48"/>
<rect x="598.50" y="257.80" width="37.55" height="5.25" fill="#bcde8a"/>
<rect x="411.00" y="263.00" width="37.55" height="5.25" fill="#5cb25c"/>
<rect x="448.50" y="263.00" width="37.55" height="5.25" fill="#d63a30"/>
<rect x="486.00" y="263.00" width="37.55" height="5.25" fill="#a0d274"/>
<rect x="523.50" y="263.00" width="37.55" height="5.25" fill="#a0d274"/>
<rect x="561.00" y="263.00" width="37.55" height="5.25" fill="#f5aa68"/>
<rect x="598.50" y="263.00" width="37.55" height="5.25" fill="#d8eba0"/>
<rect x="411.00" y="268.20" width="37.55" height="5.25" fill="#3fa253"/>
<rect x="448.50" y="268.20" width="37.55" height="5.25" fill="#cc312e"/>
<rect x="486.00" y="268.20" width="37.55" height="5.25" fill="#a0d274"/>
<rect x="523.50" y="268.20" width="37.55" height="5.25" fill="#3fa253"/>
<rect x="561.00" y="268.20" width="37.55" height="5.25" fill="#f8d898"/>
<rect x="598.50" y="268.20" width="37.55" height="5.25" fill="#f8e5ac"/>
<rect x="411.00" y="273.40" width="37.55" height="5.25" fill="#22924a"/>
<rect x="448.50" y="273.40" width="37.55" height="5.25" fill="#f5aa68"/>
<rect x="486.00" y="273.40" width="37.55" height="5.25" fill="#a0d274"/>
<rect x="523.50" y="273.40" width="37.55" height="5.25" fill="#3fa253"/>
<rect x="561.00" y="273.40" width="37.55" height="5.25" fill="#f8d898"/>
<rect x="598.50" y="273.40" width="37.55" height="5.25" fill="#ee7a48"/>
<rect x="411.00" y="278.60" width="37.55" height="5.25" fill="#22924a"/>
<rect x="448.50" y="278.60" width="37.55" height="5.25" fill="#f5aa68"/>
<rect x="486.00" y="278.60" width="37.55" height="5.25" fill="#f5aa68"/>
<rect x="523.50" y="278.60" width="37.55" height="5.25" fill="#3fa253"/>
<rect x="561.00" y="278.60" width="37.55" height="5.25" fill="#f8d898"/>
<rect x="598.50" y="278.60" width="37.55" height="5.25" fill="#f8f2c0"/>
<rect x="411.00" y="283.80" width="37.55" height="5.25" fill="#339c4f"/>
<rect x="448.50" y="283.80" width="37.55" height="5.25" fill="#f5aa68"/>
<rect x="486.00" y="283.80" width="37.55" height="5.25" fill="#f8f2c0"/>
<rect x="523.50" y="283.80" width="37.55" height="5.25" fill="#3fa253"/>
<rect x="561.00" y="283.80" width="37.55" height="5.25" fill="#f5aa68"/>
<rect x="598.50" y="283.80" width="37.55" height="5.25" fill="#f8d898"/>
<rect x="411.00" y="289.00" width="37.55" height="5.25" fill="#a0d274"/>
<rect x="448.50" y="289.00" width="37.55" height="5.25" fill="#f5aa68"/>
<rect x="486.00" y="289.00" width="37.55" height="5.25" fill="#5cb25c"/>
<rect x="523.50" y="289.00" width="37.55" height="5.25" fill="#a0d274"/>
<rect x="561.00" y="289.00" width="37.55" height="5.25" fill="#d63a30"/>
<rect x="598.50" y="289.00" width="37.55" height="5.25" fill="#a0d274"/>
<rect x="411.00" y="294.20" width="37.55" height="5.25" fill="#5cb25c"/>
<rect x="448.50" y="294.20" width="37.55" height="5.25" fill="#f5aa68"/>
<rect x="486.00" y="294.20" width="37.55" height="5.25" fill="#a0d274"/>
<rect x="523.50" y="294.20" width="37.55" height="5.25" fill="#a0d274"/>
<rect x="561.00" y="294.20" width="37.55" height="5.25" fill="#d63a30"/>
<rect x="598.50" y="294.20" width="37.55" height="5.25" fill="#a0d274"/>
<rect x="411.00" y="299.40" width="37.55" height="5.25" fill="#a0d274"/>
<rect x="448.50" y="299.40" width="37.55" height="5.25" fill="#f5aa68"/>
<rect x="486.00" y="299.40" width="37.55" height="5.25" fill="#7ec268"/>
<rect x="523.50" y="299.40" width="37.55" height="5.25" fill="#a0d274"/>
<rect x="561.00" y="299.40" width="37.55" height="5.25" fill="#e25a3c"/>
<rect x="598.50" y="299.40" width="37.55" height="5.25" fill="#a0d274"/>
<rect x="411.00" y="304.60" width="37.55" height="5.25" fill="#7ec268"/>
<rect x="448.50" y="304.60" width="37.55" height="5.25" fill="#ee7a48"/>
<rect x="486.00" y="304.60" width="37.55" height="5.25" fill="#a0d274"/>
<rect x="523.50" y="304.60" width="37.55" height="5.25" fill="#a0d274"/>
<rect x="561.00" y="304.60" width="37.55" height="5.25" fill="#e25a3c"/>
<rect x="598.50" y="304.60" width="37.55" height="5.25" fill="#a0d274"/>
<rect x="411.00" y="309.80" width="37.55" height="5.25" fill="#d8eba0"/>
<rect x="448.50" y="309.80" width="37.55" height="5.25" fill="#f5aa68"/>
<rect x="486.00" y="309.80" width="37.55" height="5.25" fill="#22924a"/>
<rect x="523.50" y="309.80" width="37.55" height="5.25" fill="#d8eba0"/>
<rect x="561.00" y="309.80" width="37.55" height="5.25" fill="#e25a3c"/>
<rect x="598.50" y="309.80" width="37.55" height="5.25" fill="#5cb25c"/>
<rect x="411.00" y="315.00" width="37.55" height="5.25" fill="#d8eba0"/>
<rect x="448.50" y="315.00" width="37.55" height="5.25" fill="#f5aa68"/>
<rect x="486.00" y="315.00" width="37.55" height="5.25" fill="#22924a"/>
<rect x="523.50" y="315.00" width="37.55" height="5.25" fill="#d8eba0"/>
<rect x="561.00" y="315.00" width="37.55" height="5.25" fill="#e25a3c"/>
<rect x="598.50" y="315.00" width="37.55" height="5.25" fill="#5cb25c"/>
<rect x="411.00" y="320.20" width="37.55" height="5.25" fill="#5cb25c"/>
<rect x="448.50" y="320.20" width="37.55" height="5.25" fill="#f5aa68"/>
<rect x="486.00" y="320.20" width="37.55" height="5.25" fill="#5cb25c"/>
<rect x="523.50" y="320.20" width="37.55" height="5.25" fill="#5cb25c"/>
<rect x="561.00" y="320.20" width="37.55" height="5.25" fill="#d63a30"/>
<rect x="598.50" y="320.20" width="37.55" height="5.25" fill="#e8eeb0"/>
<rect x="411.00" y="325.40" width="37.55" height="5.25" fill="#5cb25c"/>
<rect x="448.50" y="325.40" width="37.55" height="5.25" fill="#f29258"/>
<rect x="486.00" y="325.40" width="37.55" height="5.25" fill="#a0d274"/>
<rect x="523.50" y="325.40" width="37.55" height="5.25" fill="#5cb25c"/>
<rect x="561.00" y="325.40" width="37.55" height="5.25" fill="#d63a30"/>
<rect x="598.50" y="325.40" width="37.55" height="5.25" fill="#e8eeb0"/>
<rect x="411.00" y="330.60" width="37.55" height="5.25" fill="#5cb25c"/>
<rect x="448.50" y="330.60" width="37.55" height="5.25" fill="#f5aa68"/>
<rect x="486.00" y="330.60" width="37.55" height="5.25" fill="#d8eba0"/>
<rect x="523.50" y="330.60" width="37.55" height="5.25" fill="#7ec268"/>
<rect x="561.00" y="330.60" width="37.55" height="5.25" fill="#d63a30"/>
<rect x="598.50" y="330.60" width="37.55" height="5.25" fill="#e8eeb0"/>
<rect x="411.00" y="335.80" width="37.55" height="5.25" fill="#22924a"/>
<rect x="448.50" y="335.80" width="37.55" height="5.25" fill="#f6c180"/>
<rect x="486.00" y="335.80" width="37.55" height="5.25" fill="#a0d274"/>
<rect x="523.50" y="335.80" width="37.55" height="5.25" fill="#d8eba0"/>
<rect x="561.00" y="335.80" width="37.55" height="5.25" fill="#d63a30"/>
<rect x="598.50" y="335.80" width="37.55" height="5.25" fill="#d8eba0"/>
<rect x="411.00" y="341.00" width="37.55" height="5.25" fill="#22924a"/>
<rect x="448.50" y="341.00" width="37.55" height="5.25" fill="#f6c180"/>
<rect x="486.00" y="341.00" width="37.55" height="5.25" fill="#f8f2c0"/>
<rect x="523.50" y="341.00" width="37.55" height="5.25" fill="#d8eba0"/>
<rect x="561.00" y="341.00" width="37.55" height="5.25" fill="#e25a3c"/>
<rect x="598.50" y="341.00" width="37.55" height="5.25" fill="#5cb25c"/>
<rect x="411.00" y="346.20" width="37.55" height="5.25" fill="#5cb25c"/>
<rect x="448.50" y="346.20" width="37.55" height="5.25" fill="#f6c180"/>
<rect x="486.00" y="346.20" width="37.55" height="5.25" fill="#e25a3c"/>
<rect x="523.50" y="346.20" width="37.55" height="5.25" fill="#5cb25c"/>
<rect x="561.00" y="346.20" width="37.55" height="5.25" fill="#a0d274"/>
<rect x="598.50" y="346.20" width="37.55" height="5.25" fill="#f8d898"/>
<rect x="411.00" y="351.40" width="37.55" height="5.25" fill="#a0d274"/>
<rect x="448.50" y="351.40" width="37.55" height="5.25" fill="#f6c180"/>
<rect x="486.00" y="351.40" width="37.55" height="5.25" fill="#d63a30"/>
<rect x="523.50" y="351.40" width="37.55" height="5.25" fill="#f8f2c0"/>
<rect x="561.00" y="351.40" width="37.55" height="5.25" fill="#a0d274"/>
<rect x="598.50" y="351.40" width="37.55" height="5.25" fill="#22924a"/>
<rect x="411.00" y="356.60" width="37.55" height="5.25" fill="#ee7a48"/>
<rect x="448.50" y="356.60" width="37.55" height="5.25" fill="#d8eba0"/>
<rect x="486.00" y="356.60" width="37.55" height="5.25" fill="#a0d274"/>
<rect x="523.50" y="356.60" width="37.55" height="5.25" fill="#f5aa68"/>
<rect x="561.00" y="356.60" width="37.55" height="5.25" fill="#5cb25c"/>
<rect x="598.50" y="356.60" width="37.55" height="5.25" fill="#5cb25c"/>
<rect x="411.00" y="361.80" width="37.55" height="5.25" fill="#f5aa68"/>
<rect x="448.50" y="361.80" width="37.55" height="5.25" fill="#d8eba0"/>
<rect x="486.00" y="361.80" width="37.55" height="5.25" fill="#a0d274"/>
<rect x="523.50" y="361.80" width="37.55" height="5.25" fill="#d63a30"/>
<rect x="561.00" y="361.80" width="37.55" height="5.25" fill="#5cb25c"/>
<rect x="598.50" y="361.80" width="37.55" height="5.25" fill="#5cb25c"/>
<rect x="411.00" y="367.00" width="37.55" height="5.25" fill="#f5aa68"/>
<rect x="448.50" y="367.00" width="37.55" height="5.25" fill="#d8eba0"/>
<rect x="486.00" y="367.00" width="37.55" height="5.25" fill="#5cb25c"/>
<rect x="523.50" y="367.00" width="37.55" height="5.25" fill="#ee7a48"/>
<rect x="561.00" y="367.00" width="37.55" height="5.25" fill="#a0d274"/>
<rect x="598.50" y="367.00" width="37.55" height="5.25" fill="#50ac58"/>
<rect x="411.00" y="372.20" width="37.55" height="5.25" fill="#f5aa68"/>
<rect x="448.50" y="372.20" width="37.55" height="5.25" fill="#d8eba0"/>
<rect x="486.00" y="372.20" width="37.55" height="5.25" fill="#5cb25c"/>
<rect x="523.50" y="372.20" width="37.55" height="5.25" fill="#ee7a48"/>
<rect x="561.00" y="372.20" width="37.55" height="5.25" fill="#bcde8a"/>
<rect x="598.50" y="372.20" width="37.55" height="5.25" fill="#5cb25c"/>
<rect x="411.00" y="377.40" width="37.55" height="5.25" fill="#ee7a48"/>
<rect x="448.50" y="377.40" width="37.55" height="5.25" fill="#a0d274"/>
<rect x="486.00" y="377.40" width="37.55" height="5.25" fill="#5cb25c"/>
<rect x="523.50" y="377.40" width="37.55" height="5.25" fill="#ee7a48"/>
<rect x="561.00" y="377.40" width="37.55" height="5.25" fill="#b1da81"/>
<rect x="598.50" y="377.40" width="37.55" height="5.25" fill="#8cc86d"/>
<rect x="411.00" y="382.60" width="37.55" height="5.25" fill="#ee7a48"/>
<rect x="448.50" y="382.60" width="37.55" height="5.25" fill="#a0d274"/>
<rect x="486.00" y="382.60" width="37.55" height="5.25" fill="#7ec268"/>
<rect x="523.50" y="382.60" width="37.55" height="5.25" fill="#ee7a48"/>
<rect x="561.00" y="382.60" width="37.55" height="5.25" fill="#a0d274"/>
<rect x="598.50" y="382.60" width="37.55" height="5.25" fill="#92cc6f"/>
<rect x="411.00" y="387.80" width="37.55" height="5.25" fill="#f29258"/>
<rect x="448.50" y="387.80" width="37.55" height="5.25" fill="#a0d274"/>
<rect x="486.00" y="387.80" width="37.55" height="5.25" fill="#7ec268"/>
<rect x="523.50" y="387.80" width="37.55" height="5.25" fill="#d63a30"/>
<rect x="561.00" y="387.80" width="37.55" height="5.25" fill="#a0d274"/>
<rect x="598.50" y="387.80" width="37.55" height="5.25" fill="#92cc6f"/>
<rect x="411.00" y="393.00" width="37.55" height="5.25" fill="#ee7a48"/>
<rect x="448.50" y="393.00" width="37.55" height="5.25" fill="#bcde8a"/>
<rect x="486.00" y="393.00" width="37.55" height="5.25" fill="#a0d274"/>
<rect x="523.50" y="393.00" width="37.55" height="5.25" fill="#e25a3c"/>
<rect x="561.00" y="393.00" width="37.55" height="5.25" fill="#a0d274"/>
<rect x="598.50" y="393.00" width="37.55" height="5.25" fill="#70bc63"/>
<rect x="411.00" y="398.20" width="37.55" height="5.25" fill="#ee7a48"/>
<rect x="448.50" y="398.20" width="37.55" height="5.25" fill="#bcde8a"/>
<rect x="486.00" y="398.20" width="37.55" height="5.25" fill="#7ec268"/>
<rect x="523.50" y="398.20" width="37.55" height="5.25" fill="#d63a30"/>
<rect x="561.00" y="398.20" width="37.55" height="5.25" fill="#a0d274"/>
<rect x="598.50" y="398.20" width="37.55" height="5.25" fill="#5cb25c"/>
<rect x="411.00" y="403.40" width="37.55" height="5.25" fill="#f5aa68"/>
<rect x="448.50" y="403.40" width="37.55" height="5.25" fill="#22924a"/>
<rect x="486.00" y="403.40" width="37.55" height="5.25" fill="#d8eba0"/>
<rect x="523.50" y="403.40" width="37.55" height="5.25" fill="#d63a30"/>
<rect x="561.00" y="403.40" width="37.55" height="5.25" fill="#a0d274"/>
<rect x="598.50" y="403.40" width="37.55" height="5.25" fill="#a0d274"/>
<rect x="411.00" y="408.60" width="37.55" height="5.25" fill="#f5aa68"/>
<rect x="448.50" y="408.60" width="37.55" height="5.25" fill="#5cb25c"/>
<rect x="486.00" y="408.60" width="37.55" height="5.25" fill="#d8eba0"/>
<rect x="523.50" y="408.60" width="37.55" height="5.25" fill="#d63a30"/>
<rect x="561.00" y="408.60" width="37.55" height="5.25" fill="#5cb25c"/>
<rect x="598.50" y="408.60" width="37.55" height="5.25" fill="#a0d274"/>
<rect x="411.00" y="413.80" width="37.55" height="5.25" fill="#f29258"/>
<rect x="448.50" y="413.80" width="37.55" height="5.25" fill="#5cb25c"/>
<rect x="486.00" y="413.80" width="37.55" height="5.25" fill="#bcde8a"/>
<rect x="523.50" y="413.80" width="37.55" height="5.25" fill="#d63a30"/>
<rect x="561.00" y="413.80" width="37.55" height="5.25" fill="#5cb25c"/>
<rect x="598.50" y="413.80" width="37.55" height="5.25" fill="#a0d274"/>
<rect x="411.00" y="419.00" width="37.55" height="5.25" fill="#ee7a48"/>
<rect x="448.50" y="419.00" width="37.55" height="5.25" fill="#5cb25c"/>
<rect x="486.00" y="419.00" width="37.55" height="5.25" fill="#a0d274"/>
<rect x="523.50" y="419.00" width="37.55" height="5.25" fill="#d63a30"/>
<rect x="561.00" y="419.00" width="37.55" height="5.25" fill="#5cb25c"/>
<rect x="598.50" y="419.00" width="37.55" height="5.25" fill="#92cc6f"/>
<rect x="411.00" y="424.20" width="37.55" height="5.25" fill="#ee7a48"/>
<rect x="448.50" y="424.20" width="37.55" height="5.25" fill="#5cb25c"/>
<rect x="486.00" y="424.20" width="37.55" height="5.25" fill="#a0d274"/>
<rect x="523.50" y="424.20" width="37.55" height="5.25" fill="#d63a30"/>
<rect x="561.00" y="424.20" width="37.55" height="5.25" fill="#a0d274"/>
<rect x="598.50" y="424.20" width="37.55" height="5.25" fill="#a0d274"/>
<rect x="411.00" y="429.40" width="37.55" height="5.25" fill="#f8f2c0"/>
<rect x="448.50" y="429.40" width="37.55" height="5.25" fill="#a0d274"/>
<rect x="486.00" y="429.40" width="37.55" height="5.25" fill="#5cb25c"/>
<rect x="523.50" y="429.40" width="37.55" height="5.25" fill="#b51d2b"/>
<rect x="561.00" y="429.40" width="37.55" height="5.25" fill="#eef0b6"/>
<rect x="598.50" y="429.40" width="37.55" height="5.25" fill="#70bc63"/>
<rect x="411.00" y="434.60" width="37.55" height="5.25" fill="#f6c180"/>
<rect x="448.50" y="434.60" width="37.55" height="5.25" fill="#d8eba0"/>
<rect x="486.00" y="434.60" width="37.55" height="5.25" fill="#50ac58"/>
<rect x="523.50" y="434.60" width="37.55" height="5.25" fill="#c62c2e"/>
<rect x="561.00" y="434.60" width="37.55" height="5.25" fill="#eef0b6"/>
<rect x="598.50" y="434.60" width="37.55" height="5.25" fill="#50ac58"/>
<rect x="411.00" y="439.80" width="37.55" height="5.25" fill="#f6c180"/>
<rect x="448.50" y="439.80" width="37.55" height="5.25" fill="#f8f2c0"/>
<rect x="486.00" y="439.80" width="37.55" height="5.25" fill="#2e984e"/>
<rect x="523.50" y="439.80" width="37.55" height="5.25" fill="#e25a3c"/>
<rect x="561.00" y="439.80" width="37.55" height="5.25" fill="#e8eeb0"/>
<rect x="598.50" y="439.80" width="37.55" height="5.25" fill="#50ac58"/>
<rect x="411.00" y="445.00" width="37.55" height="5.25" fill="#f6c180"/>
<rect x="448.50" y="445.00" width="37.55" height="5.25" fill="#f8f2c0"/>
<rect x="486.00" y="445.00" width="37.55" height="5.25" fill="#2e984e"/>
<rect x="523.50" y="445.00" width="37.55" height="5.25" fill="#e25a3c"/>
<rect x="561.00" y="445.00" width="37.55" height="5.25" fill="#e2edaa"/>
<rect x="598.50" y="445.00" width="37.55" height="5.25" fill="#50ac58"/>
<rect x="411.00" y="450.20" width="37.55" height="5.25" fill="#f6c180"/>
<rect x="448.50" y="450.20" width="37.55" height="5.25" fill="#f8f2c0"/>
<rect x="486.00" y="450.20" width="37.55" height="5.25" fill="#2e984e"/>
<rect x="523.50" y="450.20" width="37.55" height="5.25" fill="#e25a3c"/>
<rect x="561.00" y="450.20" width="37.55" height="5.25" fill="#e2edaa"/>
<rect x="598.50" y="450.20" width="37.55" height="5.25" fill="#50ac58"/>
<rect x="411.00" y="455.40" width="37.55" height="5.25" fill="#f6c180"/>
<rect x="448.50" y="455.40" width="37.55" height="5.25" fill="#f8f2c0"/>
<rect x="486.00" y="455.40" width="37.55" height="5.25" fill="#2e984e"/>
<rect x="523.50" y="455.40" width="37.55" height="5.25" fill="#e25a3c"/>
<rect x="561.00" y="455.40" width="37.55" height="5.25" fill="#e2edaa"/>
<rect x="598.50" y="455.40" width="37.55" height="5.25" fill="#50ac58"/>
<rect x="411.00" y="460.60" width="37.55" height="5.25" fill="#f6c180"/>
<rect x="448.50" y="460.60" width="37.55" height="5.25" fill="#d8eba0"/>
<rect x="486.00" y="460.60" width="37.55" height="5.25" fill="#2e984e"/>
<rect x="523.50" y="460.60" width="37.55" height="5.25" fill="#e25a3c"/>
<rect x="561.00" y="460.60" width="37.55" height="5.25" fill="#bcde8a"/>
<rect x="598.50" y="460.60" width="37.55" height="5.25" fill="#50ac58"/>
<rect x="411.00" y="465.80" width="37.55" height="5.25" fill="#f6c180"/>
<rect x="448.50" y="465.80" width="37.55" height="5.25" fill="#a0d274"/>
<rect x="486.00" y="465.80" width="37.55" height="5.25" fill="#a0d274"/>
<rect x="523.50" y="465.80" width="37.55" height="5.25" fill="#cf342f"/>
<rect x="561.00" y="465.80" width="37.55" height="5.25" fill="#a0d274"/>
<rect x="598.50" y="465.80" width="37.55" height="5.25" fill="#92cc6f"/>
<rect x="411.00" y="471.00" width="37.55" height="5.25" fill="#f8d898"/>
<rect x="448.50" y="471.00" width="37.55" height="5.25" fill="#a0d274"/>
<rect x="486.00" y="471.00" width="37.55" height="5.25" fill="#7ec268"/>
<rect x="523.50" y="471.00" width="37.55" height="5.25" fill="#b51d2b"/>
<rect x="561.00" y="471.00" width="37.55" height="5.25" fill="#a0d274"/>
<rect x="598.50" y="471.00" width="37.55" height="5.25" fill="#a0d274"/>
<rect x="411.00" y="476.20" width="37.55" height="5.25" fill="#f8d898"/>
<rect x="448.50" y="476.20" width="37.55" height="5.25" fill="#a0d274"/>
<rect x="486.00" y="476.20" width="37.55" height="5.25" fill="#7ec268"/>
<rect x="523.50" y="476.20" width="37.55" height="5.25" fill="#b51d2b"/>
<rect x="561.00" y="476.20" width="37.55" height="5.25" fill="#a0d274"/>
<rect x="598.50" y="476.20" width="37.55" height="5.25" fill="#a0d274"/>
<rect x="411.00" y="481.40" width="37.55" height="5.25" fill="#d8eba0"/>
<rect x="448.50" y="481.40" width="37.55" height="5.25" fill="#a0d274"/>
<rect x="486.00" y="481.40" width="37.55" height="5.25" fill="#7ec268"/>
<rect x="523.50" y="481.40" width="37.55" height="5.25" fill="#b51d2b"/>
<rect x="561.00" y="481.40" width="37.55" height="5.25" fill="#a0d274"/>
<rect x="598.50" y="481.40" width="37.55" height="5.25" fill="#8cc86d"/>
<rect x="411.00" y="486.60" width="37.55" height="5.25" fill="#ee7a48"/>
<rect x="448.50" y="486.60" width="37.55" height="5.25" fill="#f5aa68"/>
<rect x="486.00" y="486.60" width="37.55" height="5.25" fill="#22924a"/>
<rect x="523.50" y="486.60" width="37.55" height="5.25" fill="#f8d898"/>
<rect x="561.00" y="486.60" width="37.55" height="5.25" fill="#f8f2c0"/>
<rect x="598.50" y="486.60" width="37.55" height="5.25" fill="#1d8a46"/>
<rect x="411.00" y="491.80" width="37.55" height="5.25" fill="#ee7a48"/>
<rect x="448.50" y="491.80" width="37.55" height="5.25" fill="#f6c180"/>
<rect x="486.00" y="491.80" width="37.55" height="5.25" fill="#22924a"/>
<rect x="523.50" y="491.80" width="37.55" height="5.25" fill="#f6c180"/>
<rect x="561.00" y="491.80" width="37.55" height="5.25" fill="#d8eba0"/>
<rect x="598.50" y="491.80" width="37.55" height="5.25" fill="#45a555"/>
<rect x="411.00" y="497.00" width="37.55" height="5.25" fill="#ee7a48"/>
<rect x="448.50" y="497.00" width="37.55" height="5.25" fill="#f8d898"/>
<rect x="486.00" y="497.00" width="37.55" height="5.25" fill="#22924a"/>
<rect x="523.50" y="497.00" width="37.55" height="5.25" fill="#f5aa68"/>
<rect x="561.00" y="497.00" width="37.55" height="5.25" fill="#bcde8a"/>
<rect x="598.50" y="497.00" width="37.55" height="5.25" fill="#5cb25c"/>
<rect x="411.00" y="502.20" width="37.55" height="5.25" fill="#ee7a48"/>
<rect x="448.50" y="502.20" width="37.55" height="5.25" fill="#f8f2c0"/>
<rect x="486.00" y="502.20" width="37.55" height="5.25" fill="#22924a"/>
<rect x="523.50" y="502.20" width="37.55" height="5.25" fill="#f5aa68"/>
<rect x="561.00" y="502.20" width="37.55" height="5.25" fill="#d8eba0"/>
<rect x="598.50" y="502.20" width="37.55" height="5.25" fill="#50ac58"/>
<rect x="411.00" y="507.40" width="37.55" height="5.25" fill="#e25a3c"/>
<rect x="448.50" y="507.40" width="37.55" height="5.25" fill="#f8f2c0"/>
<rect x="486.00" y="507.40" width="37.55" height="5.25" fill="#22924a"/>
<rect x="523.50" y="507.40" width="37.55" height="5.25" fill="#f5aa68"/>
<rect x="561.00" y="507.40" width="37.55" height="5.25" fill="#d8eba0"/>
<rect x="598.50" y="507.40" width="37.55" height="5.25" fill="#50ac58"/>
<rect x="411.00" y="512.60" width="37.55" height="5.25" fill="#e25a3c"/>
<rect x="448.50" y="512.60" width="37.55" height="5.25" fill="#f8f2c0"/>
<rect x="486.00" y="512.60" width="37.55" height="5.25" fill="#22924a"/>
<rect x="523.50" y="512.60" width="37.55" height="5.25" fill="#f5aa68"/>
<rect x="561.00" y="512.60" width="37.55" height="5.25" fill="#a0d274"/>
<rect x="598.50" y="512.60" width="37.55" height="5.25" fill="#339c4f"/>
<rect x="411.00" y="517.80" width="37.55" height="5.25" fill="#f8f2c0"/>
<rect x="448.50" y="517.80" width="37.55" height="5.25" fill="#f5aa68"/>
<rect x="486.00" y="517.80" width="37.55" height="5.25" fill="#0a6a38"/>
<rect x="523.50" y="517.80" width="37.55" height="5.25" fill="#f29258"/>
<rect x="561.00" y="517.80" width="37.55" height="5.25" fill="#f8d898"/>
<rect x="598.50" y="517.80" width="37.55" height="5.25" fill="#8cc86d"/>
<rect x="411.00" y="523.00" width="37.55" height="5.25" fill="#f8e5ac"/>
<rect x="448.50" y="523.00" width="37.55" height="5.25" fill="#f5aa68"/>
<rect x="486.00" y="523.00" width="37.55" height="5.25" fill="#22924a"/>
<rect x="523.50" y="523.00" width="37.55" height="5.25" fill="#f5aa68"/>
<rect x="561.00" y="523.00" width="37.55" height="5.25" fill="#f8e5ac"/>
<rect x="598.50" y="523.00" width="37.55" height="5.25" fill="#8cc86d"/>
<rect x="411.00" y="528.20" width="37.55" height="5.25" fill="#f8e5ac"/>
<rect x="448.50" y="528.20" width="37.55" height="5.25" fill="#f8f2c0"/>
<rect x="486.00" y="528.20" width="37.55" height="5.25" fill="#22924a"/>
<rect x="523.50" y="528.20" width="37.55" height="5.25" fill="#f6c180"/>
<rect x="561.00" y="528.20" width="37.55" height="5.25" fill="#f8e5ac"/>
<rect x="598.50" y="528.20" width="37.55" height="5.25" fill="#4ba857"/>
<rect x="411.00" y="533.40" width="37.55" height="5.25" fill="#f8f2c0"/>
<rect x="448.50" y="533.40" width="37.55" height="5.25" fill="#f8e5ac"/>
<rect x="486.00" y="533.40" width="37.55" height="5.25" fill="#5cb25c"/>
<rect x="523.50" y="533.40" width="37.55" height="5.25" fill="#f8d898"/>
<rect x="561.00" y="533.40" width="37.55" height="5.25" fill="#ee7a48"/>
<rect x="598.50" y="533.40" width="37.55" height="5.25" fill="#4ba857"/>
<rect x="411.00" y="538.60" width="37.55" height="5.25" fill="#d63a30"/>
<rect x="448.50" y="538.60" width="37.55" height="5.25" fill="#a0d274"/>
<rect x="486.00" y="538.60" width="37.55" height="5.25" fill="#a0d274"/>
<rect x="523.50" y="538.60" width="37.55" height="5.25" fill="#f5aa68"/>
<rect x="561.00" y="538.60" width="37.55" height="5.25" fill="#a0d274"/>
<rect x="598.50" y="538.60" width="37.55" height="5.25" fill="#5cb25c"/>
<rect x="411.00" y="543.80" width="37.55" height="5.25" fill="#d63a30"/>
<rect x="448.50" y="543.80" width="37.55" height="5.25" fill="#d8eba0"/>
<rect x="486.00" y="543.80" width="37.55" height="5.25" fill="#a0d274"/>
<rect x="523.50" y="543.80" width="37.55" height="5.25" fill="#f5aa68"/>
<rect x="561.00" y="543.80" width="37.55" height="5.25" fill="#a0d274"/>
<rect x="598.50" y="543.80" width="37.55" height="5.25" fill="#8cc86d"/>
<rect x="411.00" y="549.00" width="37.55" height="5.25" fill="#d63a30"/>
<rect x="448.50" y="549.00" width="37.55" height="5.25" fill="#bcde8a"/>
<rect x="486.00" y="549.00" width="37.55" height="5.25" fill="#5cb25c"/>
<rect x="523.50" y="549.00" width="37.55" height="5.25" fill="#f6c180"/>
<rect x="561.00" y="549.00" width="37.55" height="5.25" fill="#f8f2c0"/>
<rect x="598.50" y="549.00" width="37.55" height="5.25" fill="#50ac58"/>
<rect x="411.00" y="554.20" width="37.55" height="5.25" fill="#c62c2e"/>
<rect x="448.50" y="554.20" width="37.55" height="5.25" fill="#a0d274"/>
<rect x="486.00" y="554.20" width="37.55" height="5.25" fill="#5cb25c"/>
<rect x="523.50" y="554.20" width="37.55" height="5.25" fill="#f8d898"/>
<rect x="561.00" y="554.20" width="37.55" height="5.25" fill="#d8eba0"/>
<rect x="598.50" y="554.20" width="37.55" height="5.25" fill="#5cb25c"/>
<rect x="411.00" y="559.40" width="37.55" height="5.25" fill="#b51d2b"/>
<rect x="448.50" y="559.40" width="37.55" height="5.25" fill="#a0d274"/>
<rect x="486.00" y="559.40" width="37.55" height="5.25" fill="#3fa253"/>
<rect x="523.50" y="559.40" width="37.55" height="5.25" fill="#f8d898"/>
<rect x="561.00" y="559.40" width="37.55" height="5.25" fill="#bcde8a"/>
<rect x="598.50" y="559.40" width="37.55" height="5.25" fill="#8cc86d"/>
<rect x="411.00" y="564.60" width="37.55" height="5.25" fill="#d63a30"/>
<rect x="448.50" y="564.60" width="37.55" height="5.25" fill="#d8eba0"/>
<rect x="486.00" y="564.60" width="37.55" height="5.25" fill="#5cb25c"/>
<rect x="523.50" y="564.60" width="37.55" height="5.25" fill="#f8f2c0"/>
<rect x="561.00" y="564.60" width="37.55" height="5.25" fill="#a0d274"/>
<rect x="598.50" y="564.60" width="37.55" height="5.25" fill="#8cc86d"/>
<rect x="411.00" y="569.80" width="37.55" height="5.25" fill="#b51d2b"/>
<rect x="448.50" y="569.80" width="37.55" height="5.25" fill="#bcde8a"/>
<rect x="486.00" y="569.80" width="37.55" height="5.25" fill="#a0d274"/>
<rect x="523.50" y="569.80" width="37.55" height="5.25" fill="#f8eab4"/>
<rect x="561.00" y="569.80" width="37.55" height="5.25" fill="#5cb25c"/>
<rect x="598.50" y="569.80" width="37.55" height="5.25" fill="#5cb25c"/>
<rect x="411.00" y="575.00" width="37.55" height="5.25" fill="#d63a30"/>
<rect x="448.50" y="575.00" width="37.55" height="5.25" fill="#a0d274"/>
<rect x="486.00" y="575.00" width="37.55" height="5.25" fill="#a0d274"/>
<rect x="523.50" y="575.00" width="37.55" height="5.25" fill="#f6c180"/>
<rect x="561.00" y="575.00" width="37.55" height="5.25" fill="#5cb25c"/>
<rect x="598.50" y="575.00" width="37.55" height="5.25" fill="#a0d274"/>
<rect x="411.00" y="580.20" width="37.55" height="5.25" fill="#b51d2b"/>
<rect x="448.50" y="580.20" width="37.55" height="5.25" fill="#d8eba0"/>
<rect x="486.00" y="580.20" width="37.55" height="5.25" fill="#5cb25c"/>
<rect x="523.50" y="580.20" width="37.55" height="5.25" fill="#f8f2c0"/>
<rect x="561.00" y="580.20" width="37.55" height="5.25" fill="#5cb25c"/>
<rect x="598.50" y="580.20" width="37.55" height="5.25" fill="#f7ca8a"/>
<rect x="411.00" y="585.40" width="37.55" height="5.25" fill="#ee7a48"/>
<rect x="448.50" y="585.40" width="37.55" height="5.25" fill="#22924a"/>
<rect x="486.00" y="585.40" width="37.55" height="5.25" fill="#f8f2c0"/>
<rect x="523.50" y="585.40" width="37.55" height="5.25" fill="#f6c180"/>
<rect x="561.00" y="585.40" width="37.55" height="5.25" fill="#5cb25c"/>
<rect x="598.50" y="585.40" width="37.55" height="5.25" fill="#f8f2c0"/>
</g>
<g stroke="#ffffff" stroke-opacity="0.45" stroke-width="0.5">
<line x1="411.00" y1="23.80" x2="636.00" y2="23.80"/>
<line x1="411.00" y1="29.00" x2="636.00" y2="29.00"/>
<line x1="411.00" y1="34.20" x2="636.00" y2="34.20"/>
<line x1="411.00" y1="39.40" x2="636.00" y2="39.40"/>
<line x1="411.00" y1="44.60" x2="636.00" y2="44.60"/>
<line x1="411.00" y1="49.80" x2="636.00" y2="49.80"/>
<line x1="411.00" y1="55.00" x2="636.00" y2="55.00"/>
<line x1="411.00" y1="60.20" x2="636.00" y2="60.20"/>
<line x1="411.00" y1="65.40" x2="636.00" y2="65.40"/>
<line x1="411.00" y1="70.60" x2="636.00" y2="70.60"/>
<line x1="411.00" y1="75.80" x2="636.00" y2="75.80"/>
<line x1="411.00" y1="81.00" x2="636.00" y2="81.00"/>
<line x1="411.00" y1="86.20" x2="636.00" y2="86.20"/>
<line x1="411.00" y1="91.40" x2="636.00" y2="91.40"/>
<line x1="411.00" y1="96.60" x2="636.00" y2="96.60"/>
<line x1="411.00" y1="101.80" x2="636.00" y2="101.80"/>
<line x1="411.00" y1="107.00" x2="636.00" y2="107.00"/>
<line x1="411.00" y1="112.20" x2="636.00" y2="112.20"/>
<line x1="411.00" y1="117.40" x2="636.00" y2="117.40"/>
<line x1="411.00" y1="122.60" x2="636.00" y2="122.60"/>
<line x1="411.00" y1="127.80" x2="636.00" y2="127.80"/>
<line x1="411.00" y1="133.00" x2="636.00" y2="133.00"/>
<line x1="411.00" y1="138.20" x2="636.00" y2="138.20"/>
<line x1="411.00" y1="143.40" x2="636.00" y2="143.40"/>
<line x1="411.00" y1="148.60" x2="636.00" y2="148.60"/>
<line x1="411.00" y1="153.80" x2="636.00" y2="153.80"/>
<line x1="411.00" y1="159.00" x2="636.00" y2="159.00"/>
<line x1="411.00" y1="164.20" x2="636.00" y2="164.20"/>
<line x1="411.00" y1="169.40" x2="636.00" y2="169.40"/>
<line x1="411.00" y1="174.60" x2="636.00" y2="174.60"/>
<line x1="411.00" y1="179.80" x2="636.00" y2="179.80"/>
<line x1="411.00" y1="185.00" x2="636.00" y2="185.00"/>
<line x1="411.00" y1="190.20" x2="636.00" y2="190.20"/>
<line x1="411.00" y1="195.40" x2="636.00" y2="195.40"/>
<line x1="411.00" y1="200.60" x2="636.00" y2="200.60"/>
<line x1="411.00" y1="205.80" x2="636.00" y2="205.80"/>
<line x1="411.00" y1="211.00" x2="636.00" y2="211.00"/>
<line x1="411.00" y1="216.20" x2="636.00" y2="216.20"/>
<line x1="411.00" y1="221.40" x2="636.00" y2="221.40"/>
<line x1="411.00" y1="226.60" x2="636.00" y2="226.60"/>
<line x1="411.00" y1="231.80" x2="636.00" y2="231.80"/>
<line x1="411.00" y1="237.00" x2="636.00" y2="237.00"/>
<line x1="411.00" y1="242.20" x2="636.00" y2="242.20"/>
<line x1="411.00" y1="247.40" x2="636.00" y2="247.40"/>
<line x1="411.00" y1="252.60" x2="636.00" y2="252.60"/>
<line x1="411.00" y1="257.80" x2="636.00" y2="257.80"/>
<line x1="411.00" y1="263.00" x2="636.00" y2="263.00"/>
<line x1="411.00" y1="268.20" x2="636.00" y2="268.20"/>
<line x1="411.00" y1="273.40" x2="636.00" y2="273.40"/>
<line x1="411.00" y1="278.60" x2="636.00" y2="278.60"/>
<line x1="411.00" y1="283.80" x2="636.00" y2="283.80"/>
<line x1="411.00" y1="289.00" x2="636.00" y2="289.00"/>
<line x1="411.00" y1="294.20" x2="636.00" y2="294.20"/>
<line x1="411.00" y1="299.40" x2="636.00" y2="299.40"/>
<line x1="411.00" y1="304.60" x2="636.00" y2="304.60"/>
<line x1="411.00" y1="309.80" x2="636.00" y2="309.80"/>
<line x1="411.00" y1="315.00" x2="636.00" y2="315.00"/>
<line x1="411.00" y1="320.20" x2="636.00" y2="320.20"/>
<line x1="411.00" y1="325.40" x2="636.00" y2="325.40"/>
<line x1="411.00" y1="330.60" x2="636.00" y2="330.60"/>
<line x1="411.00" y1="335.80" x2="636.00" y2="335.80"/>
<line x1="411.00" y1="341.00" x2="636.00" y2="341.00"/>
<line x1="411.00" y1="346.20" x2="636.00" y2="346.20"/>
<line x1="411.00" y1="351.40" x2="636.00" y2="351.40"/>
<line x1="411.00" y1="356.60" x2="636.00" y2="356.60"/>
<line x1="411.00" y1="361.80" x2="636.00" y2="361.80"/>
<line x1="411.00" y1="367.00" x2="636.00" y2="367.00"/>
<line x1="411.00" y1="372.20" x2="636.00" y2="372.20"/>
<line x1="411.00" y1="377.40" x2="636.00" y2="377.40"/>
<line x1="411.00" y1="382.60" x2="636.00" y2="382.60"/>
<line x1="411.00" y1="387.80" x2="636.00" y2="387.80"/>
<line x1="411.00" y1="393.00" x2="636.00" y2="393.00"/>
<line x1="411.00" y1="398.20" x2="636.00" y2="398.20"/>
<line x1="411.00" y1="403.40" x2="636.00" y2="403.40"/>
<line x1="411.00" y1="408.60" x2="636.00" y2="408.60"/>
<line x1="411.00" y1="413.80" x2="636.00" y2="413.80"/>
<line x1="411.00" y1="419.00" x2="636.00" y2="419.00"/>
<line x1="411.00" y1="424.20" x2="636.00" y2="424.20"/>
<line x1="411.00" y1="429.40" x2="636.00" y2="429.40"/>
<line x1="411.00" y1="434.60" x2="636.00" y2="434.60"/>
<line x1="411.00" y1="439.80" x2="636.00" y2="439.80"/>
<line x1="411.00" y1="445.00" x2="636.00" y2="445.00"/>
<line x1="411.00" y1="450.20" x2="636.00" y2="450.20"/>
<line x1="411.00" y1="455.40" x2="636.00" y2="455.40"/>
<line x1="411.00" y1="460.60" x2="636.00" y2="460.60"/>
<line x1="411.00" y1="465.80" x2="636.00" y2="465.80"/>
<line x1="411.00" y1="471.00" x2="636.00" y2="471.00"/>
<line x1="411.00" y1="476.20" x2="636.00" y2="476.20"/>
<line x1="411.00" y1="481.40" x2="636.00" y2="481.40"/>
<line x1="411.00" y1="486.60" x2="636.00" y2="486.60"/>
<line x1="411.00" y1="491.80" x2="636.00" y2="491.80"/>
<line x1="411.00" y1="497.00" x2="636.00" y2="497.00"/>
<line x1="411.00" y1="502.20" x2="636.00" y2="502.20"/>
<line x1="411.00" y1="507.40" x2="636.00" y2="507.40"/>
<line x1="411.00" y1="512.60" x2="636.00" y2="512.60"/>
<line x1="411.00" y1="517.80" x2="636.00" y2="517.80"/>
<line x1="411.00" y1="523.00" x2="636.00" y2="523.00"/>
<line x1="411.00" y1="528.20" x2="636.00" y2="528.20"/>
<line x1="411.00" y1="533.40" x2="636.00" y2="533.40"/>
<line x1="411.00" y1="538.60" x2="636.00" y2="538.60"/>
<line x1="411.00" y1="543.80" x2="636.00" y2="543.80"/>
<line x1="411.00" y1="549.00" x2="636.00" y2="549.00"/>
<line x1="411.00" y1="554.20" x2="636.00" y2="554.20"/>
<line x1="411.00" y1="559.40" x2="636.00" y2="559.40"/>
<line x1="411.00" y1="564.60" x2="636.00" y2="564.60"/>
<line x1="411.00" y1="569.80" x2="636.00" y2="569.80"/>
<line x1="411.00" y1="575.00" x2="636.00" y2="575.00"/>
<line x1="411.00" y1="580.20" x2="636.00" y2="580.20"/>
<line x1="411.00" y1="585.40" x2="636.00" y2="585.40"/>
<line x1="448.50" y1="18.60" x2="448.50" y2="590.60" stroke-opacity="0.7"/>
<line x1="486.00" y1="18.60" x2="486.00" y2="590.60" stroke-opacity="0.7"/>
<line x1="523.50" y1="18.60" x2="523.50" y2="590.60" stroke-opacity="0.7"/>
<line x1="561.00" y1="18.60" x2="561.00" y2="590.60" stroke-opacity="0.7"/>
<line x1="598.50" y1="18.60" x2="598.50" y2="590.60" stroke-opacity="0.7"/>
</g>
<g font-family='"Liberation Sans", sans-serif' font-size="5.5" fill="#000" stroke="#000" stroke-width="0.08">
<text x="637.4" y="23.15">N-Acetyl-L-Glutamine</text>
<text x="637.4" y="28.35">NG,NG-Dimethyl-L-arginine</text>
<text x="637.4" y="33.55">L-threo-3-Methylaspartate</text>
<text x="637.4" y="38.75">N-Acetyl-L-glutamic acid</text>
<text x="637.4" y="43.95">N,N'-Dimethylarginine;SDMA</text>
<text x="637.4" y="49.15">5-Oxo-L-Proline</text>
<text x="637.4" y="54.35">N-Acetyl-L-Aspartic Acid</text>
<text x="637.4" y="59.55">N-Acetyl-DL-phenylalanine</text>
<text x="637.4" y="64.75">L-Aspartic acid-O-diglucoside</text>
<text x="637.4" y="69.95">L-Homocitrulline</text>
<text x="637.4" y="75.15">5-L-Glutamyl-L-amino acid</text>
<text x="637.4" y="80.35">L-Methionine methyl ester</text>
<text x="637.4" y="85.55">N-γ-Acetyl-N-2-Formyl-5-methoxykynurenamine</text>
<text x="637.4" y="90.75">Glutathione reduced form</text>
<text x="637.4" y="95.95">N-Acetyl-L-Tryptophan</text>
<text x="637.4" y="101.15">L-Homocystine</text>
<text x="637.4" y="106.35">L-γ-Glutamyl-L-leucine</text>
<text x="637.4" y="111.55">L-Glycyl-L-phenylalanine</text>
<text x="637.4" y="116.75">Glycylphenylalanine</text>
<text x="637.4" y="121.95">Methyl 3-aminopropanoate</text>
<text x="637.4" y="127.15">L-Leucyl-L-phenylalanine</text>
<text x="637.4" y="132.35">L-Leucyl-L-Leucine</text>
<text x="637.4" y="137.55">L-Glycyl-L-isoleucine</text>
<text x="637.4" y="142.75">L-Valyl-L-Leucine</text>
<text x="637.4" y="147.95">L-Glycyl-L-proline</text>
<text x="637.4" y="153.15">Glycyl-tryptophan</text>
<text x="637.4" y="158.35">N,N-Dimethylglycine</text>
<text x="637.4" y="163.55">4-Hydroxy-L-glutamic acid</text>
<text x="637.4" y="168.75">N-Acetyl-L-threonine</text>
<text x="637.4" y="173.95">L-Glutamic acid</text>
<text x="637.4" y="179.15">L-Glutamic acid-O-glycoside</text>
<text x="637.4" y="184.35">L-Cystathin</text>
<text x="637.4" y="189.55">S-(2-Carboxypropyl)cysteine</text>
<text x="637.4" y="194.75">N'-Formylkynurenine</text>
<text x="637.4" y="199.95">3-Hydroxy-3-methylpentane-1,5-dioic acid</text>
<text x="637.4" y="205.15">3-Cyano-L-alanine</text>
<text x="637.4" y="210.35">Pyroglutamic acid</text>
<text x="637.4" y="215.55">L-Aspartyl-L-Phenylalanine</text>
<text x="637.4" y="220.75">L-Cyclopentylglycine</text>
<text x="637.4" y="225.95">L-Glutamine-O-glycoside</text>
<text x="637.4" y="231.15">5-Hydroxy-L-tryptophan</text>
<text x="637.4" y="236.35">cyclo-(Gly-Phe)</text>
<text x="637.4" y="241.55">L-Tryptophan</text>
<text x="637.4" y="246.75">S-Methyl-L-cysteine</text>
<text x="637.4" y="251.95">3,4-Dihydroxy-L-phenylalanine (L-Dopa)</text>
<text x="637.4" y="257.15">L-Asparagine</text>
<text x="637.4" y="262.35">L-Norleucine</text>
<text x="637.4" y="267.55">L-Allo-isoleucine</text>
<text x="637.4" y="272.75">N-Propionylglycine</text>
<text x="637.4" y="277.95">L-Aspartic Acid</text>
<text x="637.4" y="283.15">Cyclo(Ser-Pro)</text>
<text x="637.4" y="288.35">L-Phenylalanine</text>
<text x="637.4" y="293.55">N-Acetyl-L-phenylalanine</text>
<text x="637.4" y="298.75">DL-Methionine</text>
<text x="637.4" y="303.95">Asp-Gln-Ala-Asp</text>
<text x="637.4" y="309.15">S-(Methyl)glutathione</text>
<text x="637.4" y="314.35">Cycloleucine</text>
<text x="637.4" y="319.55">N-Methyl-L-proline</text>
<text x="637.4" y="324.75">Cyclo(Ala-Gly)</text>
<text x="637.4" y="329.95">L-Lysine</text>
<text x="637.4" y="335.15">Phe-Val</text>
<text x="637.4" y="340.35">L-Methionine</text>
<text x="637.4" y="345.55">L-Methionine Sulfoxide</text>
<text x="637.4" y="350.75">L-Carnosine</text>
<text x="637.4" y="355.95">L-Seryl-L-isoleucine</text>
<text x="637.4" y="361.15">L-Cystine</text>
<text x="637.4" y="366.35">Arginine methyl ester</text>
<text x="637.4" y="371.55">L-Histidine</text>
<text x="637.4" y="376.75">DL-Leucine</text>
<text x="637.4" y="381.95">DL-O-tyrosine</text>
<text x="637.4" y="387.15">L-Saccharopine</text>
<text x="637.4" y="392.35">L-Homomethionine</text>
<text x="637.4" y="397.55">3-Hydroxy-L-phenylalanine</text>
<text x="637.4" y="402.75">L-Tyrosine</text>
<text x="637.4" y="407.95">L-Alanyl-L-Phenylalanine</text>
<text x="637.4" y="413.15">S-(5'-Adenosyl)-L-homocysteine</text>
<text x="637.4" y="418.35">N-α-Acetyl-L-ornithine</text>
<text x="637.4" y="423.55">L-Prolyl-L-Phenylalanine</text>
<text x="637.4" y="428.75">L-Phenylalanyl-L-phenylalanine</text>
<text x="637.4" y="433.95">O-Acetylserine</text>
<text x="637.4" y="439.15">Cyclo(Phe-Glu)</text>
<text x="637.4" y="444.35">γ-Glutamyl-L-valine</text>
<text x="637.4" y="449.55">L-Valine</text>
<text x="637.4" y="454.75">N6-Acetyl-L-lysine</text>
<text x="637.4" y="459.95">γ-Glutamyltyrosine</text>
<text x="637.4" y="465.15">L-Arginine</text>
<text x="637.4" y="470.35">N(6),N(6)-Dimethyl-L-lysine</text>
<text x="637.4" y="475.55">γ-Glutamylphenylalanine</text>
<text x="637.4" y="480.75">Ala-Tyr-Glu-Asp</text>
<text x="637.4" y="485.95">Homoproline</text>
<text x="637.4" y="491.15">Oxiglutatione</text>
<text x="637.4" y="496.35">L-Ornithine</text>
<text x="637.4" y="501.55">Homoarginine</text>
<text x="637.4" y="506.75">L-Citrulline</text>
<text x="637.4" y="511.95">L-Serine</text>
<text x="637.4" y="517.15">L-Valyl-L-Phenylalanine</text>
<text x="637.4" y="522.35">Trimethyllysine</text>
<text x="637.4" y="527.55">L-Isoleucyl-L-Aspartate</text>
<text x="637.4" y="532.75">6-Hydroxydopaquinone</text>
<text x="637.4" y="537.95">L-Glutamine</text>
<text x="637.4" y="543.15">L-Tyrosine methyl ester</text>
<text x="637.4" y="548.35">Ser-Gln-Val-Lys</text>
<text x="637.4" y="553.55">N-[3-(4-Hydroxyphenyl)acryloyl]-L-tyrosine</text>
<text x="637.4" y="558.75">N-Methyl-Trans-4-Hydroxy-L-Proline</text>
<text x="637.4" y="563.95">L-Homocysteine</text>
<text x="637.4" y="569.15">S-Adenosylmethionine</text>
<text x="637.4" y="574.35">N-Monomethyl-L-arginine</text>
<text x="637.4" y="579.55">1-Methylhistidine</text>
<text x="637.4" y="584.75">N-Alpha-Acetyl-L-Asparagine</text>
<text x="637.4" y="589.95">L-Alanyl-L-leucine</text>
</g>
<g font-family='"Liberation Sans", sans-serif' font-size="10.4" fill="#1a1a1a">
<text transform="translate(429.75 591.5) rotate(90)" x="0" y="3.7">CT1</text>
<text transform="translate(467.25 591.5) rotate(90)" x="0" y="3.7">CT2</text>
<text transform="translate(504.75 591.5) rotate(90)" x="0" y="3.7">CT3</text>
<text transform="translate(542.25 591.5) rotate(90)" x="0" y="3.7">CJ1</text>
<text transform="translate(579.75 591.5) rotate(90)" x="0" y="3.7">CJ2</text>
<text transform="translate(617.25 591.5) rotate(90)" x="0" y="3.7">CJ3</text>
</g>
<g stroke="#7a7a7a" stroke-width="0.5" fill="none">
<path d="M411.00 120.00 H409.69 V125.20 H411.00"/>
<path d="M411.00 109.60 H409.56 V114.80 H411.00"/>
<path d="M411.00 83.60 H409.53 V88.80 H411.00"/>
<path d="M411.00 47.20 H409.50 V52.40 H411.00"/>
<path d="M409.56 112.20 H409.36 V122.60 H409.69"/>
<path d="M411.00 146.00 H409.36 V151.20 H411.00"/>
<path d="M409.36 117.40 H409.17 V130.40 H411.00"/>
<path d="M409.17 123.90 H408.98 V135.60 H411.00"/>
<path d="M411.00 36.80 H408.92 V42.00 H411.00"/>
<path d="M411.00 26.40 H408.59 V31.60 H411.00"/>
<path d="M411.00 78.40 H408.19 V86.20 H409.53"/>
<path d="M411.00 172.00 H408.19 V177.20 H411.00"/>
<path d="M411.00 57.60 H408.04 V62.80 H411.00"/>
<path d="M408.59 29.00 H407.81 V39.40 H408.92"/>
<path d="M411.00 140.80 H407.73 V148.60 H409.36"/>
<path d="M407.73 144.70 H407.57 V156.40 H411.00"/>
<path d="M408.19 82.30 H407.40 V94.00 H411.00"/>
<path d="M408.98 129.75 H406.85 V150.55 H407.57"/>
<path d="M411.00 73.20 H406.45 V88.15 H407.40"/>
<path d="M408.04 60.20 H406.34 V68.00 H411.00"/>
<path d="M406.34 64.10 H406.20 V80.68 H406.45"/>
<path d="M411.00 99.20 H405.10 V104.40 H411.00"/>
<path d="M411.00 166.80 H404.65 V174.60 H408.19"/>
<path d="M407.81 34.20 H404.48 V49.80 H409.50"/>
<path d="M404.48 42.00 H404.34 V72.39 H406.20"/>
<path d="M411.00 161.60 H404.30 V170.70 H404.65"/>
<path d="M405.10 101.80 H403.89 V140.15 H406.85"/>
<path d="M403.89 120.98 H403.59 V166.15 H404.30"/>
<path d="M411.00 21.20 H403.30 V57.19 H404.34"/>
<path d="M403.30 39.20 H402.07 V143.56 H403.59"/>
<path d="M411.00 312.40 H410.64 V317.60 H411.00"/>
<path d="M411.00 192.80 H410.23 V198.00 H411.00"/>
<path d="M411.00 239.60 H409.69 V244.80 H411.00"/>
<path d="M411.00 255.20 H409.63 V260.40 H411.00"/>
<path d="M411.00 213.60 H409.19 V218.80 H411.00"/>
<path d="M411.00 250.00 H408.75 V257.80 H409.63"/>
<path d="M411.00 322.80 H408.73 V328.00 H411.00"/>
<path d="M411.00 187.60 H408.67 V195.40 H410.23"/>
<path d="M411.00 296.80 H408.58 V302.00 H411.00"/>
<path d="M409.69 242.20 H408.57 V253.90 H408.75"/>
<path d="M411.00 291.60 H408.40 V299.40 H408.58"/>
<path d="M408.57 248.05 H408.40 V265.60 H411.00"/>
<path d="M408.40 295.50 H408.23 V307.20 H411.00"/>
<path d="M408.73 325.40 H408.05 V333.20 H411.00"/>
<path d="M411.00 208.40 H407.62 V216.20 H409.19"/>
<path d="M411.00 234.40 H407.55 V256.83 H408.40"/>
<path d="M411.00 203.20 H407.46 V212.30 H407.62"/>
<path d="M408.05 329.30 H407.19 V338.40 H411.00"/>
<path d="M411.00 281.20 H406.91 V286.40 H411.00"/>
<path d="M408.23 301.35 H406.77 V315.00 H410.64"/>
<path d="M406.77 308.18 H406.62 V333.85 H407.19"/>
<path d="M411.00 229.20 H406.61 V245.61 H407.55"/>
<path d="M406.61 237.41 H406.39 V270.80 H411.00"/>
<path d="M406.62 321.01 H405.68 V343.60 H411.00"/>
<path d="M408.67 191.50 H405.65 V207.75 H407.46"/>
<path d="M411.00 182.40 H405.51 V199.62 H405.65"/>
<path d="M411.00 276.00 H405.14 V283.80 H406.91"/>
<path d="M411.00 224.00 H405.03 V254.10 H406.39"/>
<path d="M405.03 239.05 H404.89 V279.90 H405.14"/>
<path d="M404.89 259.48 H404.75 V332.31 H405.68"/>
<path d="M405.51 191.01 H404.61 V295.89 H404.75"/>
<path d="M411.00 348.80 H402.93 V354.00 H411.00"/>
<path d="M404.61 243.45 H401.31 V351.40 H402.93"/>
<path d="M411.00 447.60 H410.64 V452.80 H411.00"/>
<path d="M411.00 473.60 H410.64 V478.80 H411.00"/>
<path d="M410.64 450.20 H410.38 V458.00 H411.00"/>
<path d="M411.00 442.40 H410.14 V454.10 H410.38"/>
<path d="M411.00 504.80 H409.69 V510.00 H411.00"/>
<path d="M411.00 369.60 H409.63 V374.80 H411.00"/>
<path d="M411.00 380.00 H409.54 V385.20 H411.00"/>
<path d="M411.00 411.20 H409.36 V416.40 H411.00"/>
<path d="M411.00 395.60 H409.26 V400.80 H411.00"/>
<path d="M411.00 494.40 H408.97 V499.60 H411.00"/>
<path d="M411.00 421.60 H408.88 V426.80 H411.00"/>
<path d="M411.00 390.40 H408.87 V398.20 H409.26"/>
<path d="M411.00 468.40 H408.78 V476.20 H410.64"/>
<path d="M411.00 556.80 H408.74 V562.00 H411.00"/>
<path d="M409.69 507.40 H408.69 V515.20 H411.00"/>
<path d="M409.54 382.60 H408.69 V394.30 H408.87"/>
<path d="M409.36 413.80 H408.65 V424.20 H408.88"/>
<path d="M411.00 541.20 H408.58 V546.40 H411.00"/>
<path d="M410.14 448.25 H408.45 V463.20 H411.00"/>
<path d="M411.00 520.40 H408.44 V525.60 H411.00"/>
<path d="M408.97 497.00 H408.42 V511.30 H408.69"/>
<path d="M411.00 437.20 H408.18 V455.73 H408.45"/>
<path d="M411.00 406.00 H408.14 V419.00 H408.65"/>
<path d="M409.63 372.20 H408.13 V388.45 H408.69"/>
<path d="M411.00 364.40 H407.90 V380.33 H408.13"/>
<path d="M411.00 551.60 H407.87 V559.40 H408.74"/>
<path d="M411.00 572.40 H407.62 V577.60 H411.00"/>
<path d="M408.58 543.80 H407.58 V555.50 H407.87"/>
<path d="M411.00 359.20 H407.56 V372.36 H407.90"/>
<path d="M411.00 567.20 H407.46 V575.00 H407.62"/>
<path d="M407.58 549.65 H407.30 V571.10 H407.46"/>
<path d="M408.78 472.30 H407.25 V484.00 H411.00"/>
<path d="M407.56 365.78 H407.12 V412.50 H408.14"/>
<path d="M411.00 489.20 H407.04 V504.15 H408.42"/>
<path d="M408.44 523.00 H406.95 V530.80 H411.00"/>
<path d="M411.00 432.00 H406.52 V446.46 H408.18"/>
<path d="M406.52 439.23 H406.37 V478.15 H407.25"/>
<path d="M407.12 389.14 H406.22 V458.69 H406.37"/>
<path d="M406.95 526.90 H406.16 V536.00 H411.00"/>
<path d="M407.04 496.68 H405.29 V531.45 H406.16"/>
<path d="M406.22 423.92 H405.10 V514.06 H405.29"/>
<path d="M405.10 468.99 H404.95 V560.38 H407.30"/>
<path d="M411.00 582.80 H403.84 V588.00 H411.00"/>
<path d="M404.95 514.68 H403.71 V585.40 H403.84"/>
<path d="M402.07 91.38 H399.42 V297.43 H401.31"/>
<path d="M399.42 194.40 H397.60 V550.04 H403.71"/>
</g>
<line x1="377.20" y1="180.40" x2="768" y2="180.40" stroke="#2a2a2a" stroke-width="1.2" stroke-dasharray="5.2 5.4 5.2 8.2"/>
<line x1="381.10" y1="357.30" x2="768" y2="357.30" stroke="#2a2a2a" stroke-width="1.2" stroke-dasharray="5.2 4.7 5.2 8.4"/>
<ellipse cx="744.90" cy="140.00" rx="13.30" ry="34.70" fill="none" stroke="#86c97e" stroke-width="0.7"/>
<text transform="translate(745.50 139.00) rotate(90)" x="0" y="0" font-family='"Liberation Serif", serif' font-size="16.4" fill="#111" stroke="#111" stroke-width="0.25" text-anchor="middle" textLength="53.60" lengthAdjust="spacingAndGlyphs" dy="5.6">Cluster I</text>
<ellipse cx="741.90" cy="313.80" rx="12.80" ry="34.50" fill="none" stroke="#86c97e" stroke-width="0.7"/>
<text transform="translate(741.60 312.90) rotate(90)" x="0" y="0" font-family='"Liberation Serif", serif' font-size="16.4" fill="#111" stroke="#111" stroke-width="0.25" text-anchor="middle" textLength="58.20" lengthAdjust="spacingAndGlyphs" dy="5.6">Cluster II</text>
<ellipse cx="741.90" cy="477.10" rx="12.90" ry="38.90" fill="none" stroke="#86c97e" stroke-width="0.7"/>
<text transform="translate(741.90 476.35) rotate(90)" x="0" y="0" font-family='"Liberation Serif", serif' font-size="16.4" fill="#111" stroke="#111" stroke-width="0.25" text-anchor="middle" textLength="63.10" lengthAdjust="spacingAndGlyphs" dy="5.6">Cluster III</text>
<rect x="759" y="18" width="4.7" height="61" fill="url(#cbB)"/>
<g font-family='"Liberation Sans", sans-serif' font-size="4.2" fill="#555">
<text x="764.6" y="19.60">2</text>
<text x="764.6" y="34.85">1</text>
<text x="764.6" y="50.10">0</text>
<text x="764.6" y="65.35">-1</text>
<text x="764.6" y="80.60">-2</text>
</g>
<polygon points="258.40,323.20 325.20,359.20 325.20,431.20 258.40,467.20 191.60,431.20 191.60,359.20" fill="url(#hexg)"/>
<polygon points="258.40,383.61 316.52,363.88 286.12,410.14 258.40,414.64 203.62,424.72 227.67,378.64" fill="#fff"/>
<g fill="none" stroke="#505050" stroke-opacity="0.45" stroke-width="0.6">
<polygon points="258.40,333.71 315.45,364.46 315.45,425.94 258.40,456.69 201.35,425.94 201.35,364.46"/>
<polygon points="258.40,347.82 302.35,371.51 302.35,418.89 258.40,442.58 214.45,418.89 214.45,371.51"/>
<polygon points="258.40,361.79 289.40,378.50 289.40,411.90 258.40,428.61 227.40,411.90 227.40,378.50"/>
<polygon points="258.40,375.62 276.57,385.41 276.57,404.99 258.40,414.78 240.23,404.99 240.23,385.41"/>
<polygon points="258.40,389.80 263.41,392.50 263.41,397.90 258.40,400.60 253.39,397.90 253.39,392.50"/>
</g>
<polygon points="258.40,323.20 325.20,359.20 325.20,431.20 258.40,467.20 191.60,431.20 191.60,359.20" fill="none" stroke="#6a6a6a" stroke-opacity="0.8" stroke-width="0.6"/>
<g stroke="#444" stroke-opacity="0.85" stroke-width="0.55">
<line x1="258.40" y1="395.20" x2="258.40" y2="323.20"/>
<line x1="258.40" y1="395.20" x2="325.20" y2="359.20"/>
<line x1="258.40" y1="395.20" x2="325.20" y2="431.20"/>
<line x1="258.40" y1="395.20" x2="258.40" y2="467.20"/>
<line x1="258.40" y1="395.20" x2="191.60" y2="431.20"/>
<line x1="258.40" y1="395.20" x2="191.60" y2="359.20"/>
</g>
<g font-family='"Liberation Serif", serif' font-size="6.6" fill="#5a5a5a" text-anchor="end">
<text x="257.3" y="336.01" textLength="26" lengthAdjust="spacingAndGlyphs">7.00E+08</text>
<text x="257.3" y="350.12" textLength="26" lengthAdjust="spacingAndGlyphs">6.00E+08</text>
<text x="257.3" y="364.09" textLength="26" lengthAdjust="spacingAndGlyphs">5.00E+08</text>
<text x="257.3" y="377.92" textLength="26" lengthAdjust="spacingAndGlyphs">4.00E+08</text>
<text x="257.3" y="392.10" textLength="26" lengthAdjust="spacingAndGlyphs">3.00E+08</text>
</g>
<g font-family='"Liberation Serif", serif' font-size="7.6" fill="#3a3a3a" text-anchor="middle">
<text x="258.10" y="314.80" textLength="10.8" lengthAdjust="spacingAndGlyphs">CT1</text>
<text x="337.30" y="354.60" textLength="10.8" lengthAdjust="spacingAndGlyphs">CT2</text>
<text x="337.50" y="441.20" textLength="10.8" lengthAdjust="spacingAndGlyphs">CT3</text>
<text x="258.40" y="481.00" textLength="10.8" lengthAdjust="spacingAndGlyphs">CJ1</text>
<text x="179.40" y="441.20" textLength="10.8" lengthAdjust="spacingAndGlyphs">CJ2</text>
<text x="179.60" y="354.60" textLength="10.8" lengthAdjust="spacingAndGlyphs">CJ3</text>
</g>
<line x1="108.7" y1="338.4" x2="108.7" y2="527.20" stroke="#6a6a6a" stroke-width="0.7"/>
<g font-family='"Liberation Sans", sans-serif' font-size="4.8" fill="#666" text-anchor="end">
<line x1="106.6" y1="527.20" x2="108.7" y2="527.20" stroke="#6a6a6a" stroke-width="0.5"/>
<text transform="translate(106.0 528.90) scale(0.8 1)" x="0" y="0">0.0</text>
<line x1="106.6" y1="489.95" x2="108.7" y2="489.95" stroke="#6a6a6a" stroke-width="0.5"/>
<text transform="translate(106.0 491.65) scale(0.8 1)" x="0" y="0">2.5</text>
<line x1="106.6" y1="452.70" x2="108.7" y2="452.70" stroke="#6a6a6a" stroke-width="0.5"/>
<text transform="translate(106.0 454.40) scale(0.8 1)" x="0" y="0">5.0</text>
<line x1="106.6" y1="415.45" x2="108.7" y2="415.45" stroke="#6a6a6a" stroke-width="0.5"/>
<text transform="translate(106.0 417.15) scale(0.8 1)" x="0" y="0">7.5</text>
<line x1="106.6" y1="378.20" x2="108.7" y2="378.20" stroke="#6a6a6a" stroke-width="0.5"/>
<text transform="translate(106.0 379.90) scale(0.8 1)" x="0" y="0">10.0</text>
<line x1="106.6" y1="340.95" x2="108.7" y2="340.95" stroke="#6a6a6a" stroke-width="0.5"/>
<text transform="translate(106.0 342.65) scale(0.8 1)" x="0" y="0">12.5</text>
</g>
<g fill="#000">
<rect x="112.90" y="363.30" width="4.20" height="163.90"/>
<rect x="119.69" y="408.00" width="4.20" height="119.20"/>
<rect x="126.48" y="422.90" width="4.20" height="104.30"/>
<rect x="133.27" y="467.60" width="4.20" height="59.60"/>
<rect x="140.06" y="467.60" width="4.20" height="59.60"/>
<rect x="146.85" y="482.50" width="4.20" height="44.70"/>
<rect x="153.64" y="482.50" width="4.20" height="44.70"/>
<rect x="160.43" y="497.40" width="4.20" height="29.80"/>
<rect x="167.22" y="497.40" width="4.20" height="29.80"/>
<rect x="174.01" y="497.40" width="4.20" height="29.80"/>
<rect x="180.80" y="497.40" width="4.20" height="29.80"/>
<rect x="187.59" y="497.40" width="4.20" height="29.80"/>
<rect x="194.38" y="497.40" width="4.20" height="29.80"/>
<rect x="201.17" y="497.40" width="4.20" height="29.80"/>
<rect x="207.96" y="497.40" width="4.20" height="29.80"/>
<rect x="214.75" y="512.30" width="4.20" height="14.90"/>
<rect x="221.54" y="512.30" width="4.20" height="14.90"/>
<rect x="228.33" y="512.30" width="4.20" height="14.90"/>
<rect x="235.12" y="512.30" width="4.20" height="14.90"/>
<rect x="241.91" y="512.30" width="4.20" height="14.90"/>
<rect x="248.70" y="512.30" width="4.20" height="14.90"/>
<rect x="255.49" y="512.30" width="4.20" height="14.90"/>
<rect x="262.28" y="512.30" width="4.20" height="14.90"/>
<rect x="269.07" y="512.30" width="4.20" height="14.90"/>
<rect x="275.86" y="512.30" width="4.20" height="14.90"/>
<rect x="282.65" y="512.30" width="4.20" height="14.90"/>
<rect x="289.44" y="512.30" width="4.20" height="14.90"/>
<rect x="296.23" y="512.30" width="4.20" height="14.90"/>
<rect x="303.02" y="512.30" width="4.20" height="14.90"/>
<rect x="309.81" y="512.30" width="4.20" height="14.90"/>
<rect x="316.60" y="512.30" width="4.20" height="14.90"/>
<rect x="323.39" y="512.30" width="4.20" height="14.90"/>
<rect x="330.18" y="512.30" width="4.20" height="14.90"/>
<rect x="336.97" y="512.30" width="4.20" height="14.90"/>
<rect x="343.76" y="512.30" width="4.20" height="14.90"/>
<rect x="350.55" y="512.30" width="4.20" height="14.90"/>
<rect x="357.34" y="512.30" width="4.20" height="14.90"/>
<rect x="364.13" y="512.30" width="4.20" height="14.90"/>
<rect x="370.92" y="512.30" width="4.20" height="14.90"/>
<rect x="377.71" y="512.30" width="4.20" height="14.90"/>
<rect x="384.50" y="512.30" width="4.20" height="14.90"/>
</g>
<g font-family='"Liberation Sans", sans-serif' font-size="5.0" fill="#333" text-anchor="middle">
<text transform="translate(115.00 360.30) scale(0.62 1)" x="0" y="0">11</text>
<text transform="translate(121.79 405.00) scale(0.80 1)" x="0" y="0">8</text>
<text transform="translate(128.58 419.90) scale(0.80 1)" x="0" y="0">7</text>
<text transform="translate(135.37 464.60) scale(0.80 1)" x="0" y="0">4</text>
<text transform="translate(142.16 464.60) scale(0.80 1)" x="0" y="0">4</text>
<text transform="translate(148.95 479.50) scale(0.80 1)" x="0" y="0">3</text>
<text transform="translate(155.74 479.50) scale(0.80 1)" x="0" y="0">3</text>
<text transform="translate(162.53 494.40) scale(0.80 1)" x="0" y="0">2</text>
<text transform="translate(169.32 494.40) scale(0.80 1)" x="0" y="0">2</text>
<text transform="translate(176.11 494.40) scale(0.80 1)" x="0" y="0">2</text>
<text transform="translate(182.90 494.40) scale(0.80 1)" x="0" y="0">2</text>
<text transform="translate(189.69 494.40) scale(0.80 1)" x="0" y="0">2</text>
<text transform="translate(196.48 494.40) scale(0.80 1)" x="0" y="0">2</text>
<text transform="translate(203.27 494.40) scale(0.80 1)" x="0" y="0">2</text>
<text transform="translate(210.06 494.40) scale(0.80 1)" x="0" y="0">2</text>
<text transform="translate(216.85 509.30) scale(0.80 1)" x="0" y="0">1</text>
<text transform="translate(223.64 509.30) scale(0.80 1)" x="0" y="0">1</text>
<text transform="translate(230.43 509.30) scale(0.80 1)" x="0" y="0">1</text>
<text transform="translate(237.22 509.30) scale(0.80 1)" x="0" y="0">1</text>
<text transform="translate(244.01 509.30) scale(0.80 1)" x="0" y="0">1</text>
<text transform="translate(250.80 509.30) scale(0.80 1)" x="0" y="0">1</text>
<text transform="translate(257.59 509.30) scale(0.80 1)" x="0" y="0">1</text>
<text transform="translate(264.38 509.30) scale(0.80 1)" x="0" y="0">1</text>
<text transform="translate(271.17 509.30) scale(0.80 1)" x="0" y="0">1</text>
<text transform="translate(277.96 509.30) scale(0.80 1)" x="0" y="0">1</text>
<text transform="translate(284.75 509.30) scale(0.80 1)" x="0" y="0">1</text>
<text transform="translate(291.54 509.30) scale(0.80 1)" x="0" y="0">1</text>
<text transform="translate(298.33 509.30) scale(0.80 1)" x="0" y="0">1</text>
<text transform="translate(305.12 509.30) scale(0.80 1)" x="0" y="0">1</text>
<text transform="translate(311.91 509.30) scale(0.80 1)" x="0" y="0">1</text>
<text transform="translate(318.70 509.30) scale(0.80 1)" x="0" y="0">1</text>
<text transform="translate(325.49 509.30) scale(0.80 1)" x="0" y="0">1</text>
<text transform="translate(332.28 509.30) scale(0.80 1)" x="0" y="0">1</text>
<text transform="translate(339.07 509.30) scale(0.80 1)" x="0" y="0">1</text>
<text transform="translate(345.86 509.30) scale(0.80 1)" x="0" y="0">1</text>
<text transform="translate(352.65 509.30) scale(0.80 1)" x="0" y="0">1</text>
<text transform="translate(359.44 509.30) scale(0.80 1)" x="0" y="0">1</text>
<text transform="translate(366.23 509.30) scale(0.80 1)" x="0" y="0">1</text>
<text transform="translate(373.02 509.30) scale(0.80 1)" x="0" y="0">1</text>
<text transform="translate(379.81 509.30) scale(0.80 1)" x="0" y="0">1</text>
<text transform="translate(386.60 509.30) scale(0.80 1)" x="0" y="0">1</text>
</g>
<line x1="108.2" y1="527.50" x2="392.7" y2="527.50" stroke="#222" stroke-width="0.8"/>
<text transform="translate(86.3 437) rotate(-90)" x="0" y="0" font-family='"Liberation Sans", sans-serif' font-size="6.3" fill="#111" text-anchor="middle" textLength="48.5" lengthAdjust="spacingAndGlyphs">Intersection Size</text>
<rect x="108.5" y="527.99" width="284" height="7.02" fill="#f3f3f3"/>
<rect x="108.5" y="542.03" width="284" height="7.02" fill="#f3f3f3"/>
<rect x="108.5" y="556.07" width="284" height="7.02" fill="#f3f3f3"/>
<rect x="108.5" y="570.11" width="284" height="7.02" fill="#f3f3f3"/>
<rect x="108.5" y="584.15" width="284" height="7.02" fill="#f3f3f3"/>
<g fill="#e2e2e2">
<ellipse cx="115.00" cy="531.50" rx="1.8" ry="2.45"/>
<ellipse cx="115.00" cy="538.52" rx="1.8" ry="2.45"/>
<ellipse cx="115.00" cy="545.54" rx="1.8" ry="2.45"/>
<ellipse cx="115.00" cy="552.56" rx="1.8" ry="2.45"/>
<ellipse cx="115.00" cy="559.58" rx="1.8" ry="2.45"/>
<ellipse cx="115.00" cy="566.60" rx="1.8" ry="2.45"/>
<ellipse cx="115.00" cy="573.62" rx="1.8" ry="2.45"/>
<ellipse cx="115.00" cy="580.64" rx="1.8" ry="2.45"/>
<ellipse cx="115.00" cy="587.66" rx="1.8" ry="2.45"/>
<ellipse cx="121.79" cy="531.50" rx="1.8" ry="2.45"/>
<ellipse cx="121.79" cy="538.52" rx="1.8" ry="2.45"/>
<ellipse cx="121.79" cy="545.54" rx="1.8" ry="2.45"/>
<ellipse cx="121.79" cy="552.56" rx="1.8" ry="2.45"/>
<ellipse cx="121.79" cy="559.58" rx="1.8" ry="2.45"/>
<ellipse cx="121.79" cy="566.60" rx="1.8" ry="2.45"/>
<ellipse cx="121.79" cy="573.62" rx="1.8" ry="2.45"/>
<ellipse cx="121.79" cy="580.64" rx="1.8" ry="2.45"/>
<ellipse cx="121.79" cy="587.66" rx="1.8" ry="2.45"/>
<ellipse cx="128.58" cy="531.50" rx="1.8" ry="2.45"/>
<ellipse cx="128.58" cy="538.52" rx="1.8" ry="2.45"/>
<ellipse cx="128.58" cy="545.54" rx="1.8" ry="2.45"/>
<ellipse cx="128.58" cy="552.56" rx="1.8" ry="2.45"/>
<ellipse cx="128.58" cy="559.58" rx="1.8" ry="2.45"/>
<ellipse cx="128.58" cy="566.60" rx="1.8" ry="2.45"/>
<ellipse cx="128.58" cy="573.62" rx="1.8" ry="2.45"/>
<ellipse cx="128.58" cy="580.64" rx="1.8" ry="2.45"/>
<ellipse cx="128.58" cy="587.66" rx="1.8" ry="2.45"/>
<ellipse cx="135.37" cy="531.50" rx="1.8" ry="2.45"/>
<ellipse cx="135.37" cy="538.52" rx="1.8" ry="2.45"/>
<ellipse cx="135.37" cy="545.54" rx="1.8" ry="2.45"/>
<ellipse cx="135.37" cy="552.56" rx="1.8" ry="2.45"/>
<ellipse cx="135.37" cy="559.58" rx="1.8" ry="2.45"/>
<ellipse cx="135.37" cy="566.60" rx="1.8" ry="2.45"/>
<ellipse cx="135.37" cy="573.62" rx="1.8" ry="2.45"/>
<ellipse cx="135.37" cy="580.64" rx="1.8" ry="2.45"/>
<ellipse cx="135.37" cy="587.66" rx="1.8" ry="2.45"/>
<ellipse cx="142.16" cy="531.50" rx="1.8" ry="2.45"/>
<ellipse cx="142.16" cy="538.52" rx="1.8" ry="2.45"/>
<ellipse cx="142.16" cy="545.54" rx="1.8" ry="2.45"/>
<ellipse cx="142.16" cy="552.56" rx="1.8" ry="2.45"/>
<ellipse cx="142.16" cy="559.58" rx="1.8" ry="2.45"/>
<ellipse cx="142.16" cy="566.60" rx="1.8" ry="2.45"/>
<ellipse cx="142.16" cy="573.62" rx="1.8" ry="2.45"/>
<ellipse cx="142.16" cy="580.64" rx="1.8" ry="2.45"/>
<ellipse cx="142.16" cy="587.66" rx="1.8" ry="2.45"/>
<ellipse cx="148.95" cy="531.50" rx="1.8" ry="2.45"/>
<ellipse cx="148.95" cy="538.52" rx="1.8" ry="2.45"/>
<ellipse cx="148.95" cy="545.54" rx="1.8" ry="2.45"/>
<ellipse cx="148.95" cy="552.56" rx="1.8" ry="2.45"/>
<ellipse cx="148.95" cy="559.58" rx="1.8" ry="2.45"/>
<ellipse cx="148.95" cy="566.60" rx="1.8" ry="2.45"/>
<ellipse cx="148.95" cy="573.62" rx="1.8" ry="2.45"/>
<ellipse cx="148.95" cy="580.64" rx="1.8" ry="2.45"/>
<ellipse cx="148.95" cy="587.66" rx="1.8" ry="2.45"/>
<ellipse cx="155.74" cy="531.50" rx="1.8" ry="2.45"/>
<ellipse cx="155.74" cy="538.52" rx="1.8" ry="2.45"/>
<ellipse cx="155.74" cy="545.54" rx="1.8" ry="2.45"/>
<ellipse cx="155.74" cy="552.56" rx="1.8" ry="2.45"/>
<ellipse cx="155.74" cy="559.58" rx="1.8" ry="2.45"/>
<ellipse cx="155.74" cy="566.60" rx="1.8" ry="2.45"/>
<ellipse cx="155.74" cy="573.62" rx="1.8" ry="2.45"/>
<ellipse cx="155.74" cy="580.64" rx="1.8" ry="2.45"/>
<ellipse cx="155.74" cy="587.66" rx="1.8" ry="2.45"/>
<ellipse cx="162.53" cy="531.50" rx="1.8" ry="2.45"/>
<ellipse cx="162.53" cy="538.52" rx="1.8" ry="2.45"/>
<ellipse cx="162.53" cy="545.54" rx="1.8" ry="2.45"/>
<ellipse cx="162.53" cy="552.56" rx="1.8" ry="2.45"/>
<ellipse cx="162.53" cy="559.58" rx="1.8" ry="2.45"/>
<ellipse cx="162.53" cy="566.60" rx="1.8" ry="2.45"/>
<ellipse cx="162.53" cy="573.62" rx="1.8" ry="2.45"/>
<ellipse cx="162.53" cy="580.64" rx="1.8" ry="2.45"/>
<ellipse cx="162.53" cy="587.66" rx="1.8" ry="2.45"/>
<ellipse cx="169.32" cy="531.50" rx="1.8" ry="2.45"/>
<ellipse cx="169.32" cy="538.52" rx="1.8" ry="2.45"/>
<ellipse cx="169.32" cy="545.54" rx="1.8" ry="2.45"/>
<ellipse cx="169.32" cy="552.56" rx="1.8" ry="2.45"/>
<ellipse cx="169.32" cy="559.58" rx="1.8" ry="2.45"/>
<ellipse cx="169.32" cy="566.60" rx="1.8" ry="2.45"/>
<ellipse cx="169.32" cy="573.62" rx="1.8" ry="2.45"/>
<ellipse cx="169.32" cy="580.64" rx="1.8" ry="2.45"/>
<ellipse cx="169.32" cy="587.66" rx="1.8" ry="2.45"/>
<ellipse cx="176.11" cy="531.50" rx="1.8" ry="2.45"/>
<ellipse cx="176.11" cy="538.52" rx="1.8" ry="2.45"/>
<ellipse cx="176.11" cy="545.54" rx="1.8" ry="2.45"/>
<ellipse cx="176.11" cy="552.56" rx="1.8" ry="2.45"/>
<ellipse cx="176.11" cy="559.58" rx="1.8" ry="2.45"/>
<ellipse cx="176.11" cy="566.60" rx="1.8" ry="2.45"/>
<ellipse cx="176.11" cy="573.62" rx="1.8" ry="2.45"/>
<ellipse cx="176.11" cy="580.64" rx="1.8" ry="2.45"/>
<ellipse cx="176.11" cy="587.66" rx="1.8" ry="2.45"/>
<ellipse cx="182.90" cy="531.50" rx="1.8" ry="2.45"/>
<ellipse cx="182.90" cy="538.52" rx="1.8" ry="2.45"/>
<ellipse cx="182.90" cy="545.54" rx="1.8" ry="2.45"/>
<ellipse cx="182.90" cy="552.56" rx="1.8" ry="2.45"/>
<ellipse cx="182.90" cy="559.58" rx="1.8" ry="2.45"/>
<ellipse cx="182.90" cy="566.60" rx="1.8" ry="2.45"/>
<ellipse cx="182.90" cy="573.62" rx="1.8" ry="2.45"/>
<ellipse cx="182.90" cy="580.64" rx="1.8" ry="2.45"/>
<ellipse cx="182.90" cy="587.66" rx="1.8" ry="2.45"/>
<ellipse cx="189.69" cy="531.50" rx="1.8" ry="2.45"/>
<ellipse cx="189.69" cy="538.52" rx="1.8" ry="2.45"/>
<ellipse cx="189.69" cy="545.54" rx="1.8" ry="2.45"/>
<ellipse cx="189.69" cy="552.56" rx="1.8" ry="2.45"/>
<ellipse cx="189.69" cy="559.58" rx="1.8" ry="2.45"/>
<ellipse cx="189.69" cy="566.60" rx="1.8" ry="2.45"/>
<ellipse cx="189.69" cy="573.62" rx="1.8" ry="2.45"/>
<ellipse cx="189.69" cy="580.64" rx="1.8" ry="2.45"/>
<ellipse cx="189.69" cy="587.66" rx="1.8" ry="2.45"/>
<ellipse cx="196.48" cy="531.50" rx="1.8" ry="2.45"/>
<ellipse cx="196.48" cy="538.52" rx="1.8" ry="2.45"/>
<ellipse cx="196.48" cy="545.54" rx="1.8" ry="2.45"/>
<ellipse cx="196.48" cy="552.56" rx="1.8" ry="2.45"/>
<ellipse cx="196.48" cy="559.58" rx="1.8" ry="2.45"/>
<ellipse cx="196.48" cy="566.60" rx="1.8" ry="2.45"/>
<ellipse cx="196.48" cy="573.62" rx="1.8" ry="2.45"/>
<ellipse cx="196.48" cy="580.64" rx="1.8" ry="2.45"/>
<ellipse cx="196.48" cy="587.66" rx="1.8" ry="2.45"/>
<ellipse cx="203.27" cy="531.50" rx="1.8" ry="2.45"/>
<ellipse cx="203.27" cy="538.52" rx="1.8" ry="2.45"/>
<ellipse cx="203.27" cy="545.54" rx="1.8" ry="2.45"/>
<ellipse cx="203.27" cy="552.56" rx="1.8" ry="2.45"/>
<ellipse cx="203.27" cy="559.58" rx="1.8" ry="2.45"/>
<ellipse cx="203.27" cy="566.60" rx="1.8" ry="2.45"/>
<ellipse cx="203.27" cy="573.62" rx="1.8" ry="2.45"/>
<ellipse cx="203.27" cy="580.64" rx="1.8" ry="2.45"/>
<ellipse cx="203.27" cy="587.66" rx="1.8" ry="2.45"/>
<ellipse cx="210.06" cy="531.50" rx="1.8" ry="2.45"/>
<ellipse cx="210.06" cy="538.52" rx="1.8" ry="2.45"/>
<ellipse cx="210.06" cy="545.54" rx="1.8" ry="2.45"/>
<ellipse cx="210.06" cy="552.56" rx="1.8" ry="2.45"/>
<ellipse cx="210.06" cy="559.58" rx="1.8" ry="2.45"/>
<ellipse cx="210.06" cy="566.60" rx="1.8" ry="2.45"/>
<ellipse cx="210.06" cy="573.62" rx="1.8" ry="2.45"/>
<ellipse cx="210.06" cy="580.64" rx="1.8" ry="2.45"/>
<ellipse cx="210.06" cy="587.66" rx="1.8" ry="2.45"/>
<ellipse cx="216.85" cy="531.50" rx="1.8" ry="2.45"/>
<ellipse cx="216.85" cy="538.52" rx="1.8" ry="2.45"/>
<ellipse cx="216.85" cy="545.54" rx="1.8" ry="2.45"/>
<ellipse cx="216.85" cy="552.56" rx="1.8" ry="2.45"/>
<ellipse cx="216.85" cy="559.58" rx="1.8" ry="2.45"/>
<ellipse cx="216.85" cy="566.60" rx="1.8" ry="2.45"/>
<ellipse cx="216.85" cy="573.62" rx="1.8" ry="2.45"/>
<ellipse cx="216.85" cy="580.64" rx="1.8" ry="2.45"/>
<ellipse cx="216.85" cy="587.66" rx="1.8" ry="2.45"/>
<ellipse cx="223.64" cy="531.50" rx="1.8" ry="2.45"/>
<ellipse cx="223.64" cy="538.52" rx="1.8" ry="2.45"/>
<ellipse cx="223.64" cy="545.54" rx="1.8" ry="2.45"/>
<ellipse cx="223.64" cy="552.56" rx="1.8" ry="2.45"/>
<ellipse cx="223.64" cy="559.58" rx="1.8" ry="2.45"/>
<ellipse cx="223.64" cy="566.60" rx="1.8" ry="2.45"/>
<ellipse cx="223.64" cy="573.62" rx="1.8" ry="2.45"/>
<ellipse cx="223.64" cy="580.64" rx="1.8" ry="2.45"/>
<ellipse cx="223.64" cy="587.66" rx="1.8" ry="2.45"/>
<ellipse cx="230.43" cy="531.50" rx="1.8" ry="2.45"/>
<ellipse cx="230.43" cy="538.52" rx="1.8" ry="2.45"/>
<ellipse cx="230.43" cy="545.54" rx="1.8" ry="2.45"/>
<ellipse cx="230.43" cy="552.56" rx="1.8" ry="2.45"/>
<ellipse cx="230.43" cy="559.58" rx="1.8" ry="2.45"/>
<ellipse cx="230.43" cy="566.60" rx="1.8" ry="2.45"/>
<ellipse cx="230.43" cy="573.62" rx="1.8" ry="2.45"/>
<ellipse cx="230.43" cy="580.64" rx="1.8" ry="2.45"/>
<ellipse cx="230.43" cy="587.66" rx="1.8" ry="2.45"/>
<ellipse cx="237.22" cy="531.50" rx="1.8" ry="2.45"/>
<ellipse cx="237.22" cy="538.52" rx="1.8" ry="2.45"/>
<ellipse cx="237.22" cy="545.54" rx="1.8" ry="2.45"/>
<ellipse cx="237.22" cy="552.56" rx="1.8" ry="2.45"/>
<ellipse cx="237.22" cy="559.58" rx="1.8" ry="2.45"/>
<ellipse cx="237.22" cy="566.60" rx="1.8" ry="2.45"/>
<ellipse cx="237.22" cy="573.62" rx="1.8" ry="2.45"/>
<ellipse cx="237.22" cy="580.64" rx="1.8" ry="2.45"/>
<ellipse cx="237.22" cy="587.66" rx="1.8" ry="2.45"/>
<ellipse cx="244.01" cy="531.50" rx="1.8" ry="2.45"/>
<ellipse cx="244.01" cy="538.52" rx="1.8" ry="2.45"/>
<ellipse cx="244.01" cy="545.54" rx="1.8" ry="2.45"/>
<ellipse cx="244.01" cy="552.56" rx="1.8" ry="2.45"/>
<ellipse cx="244.01" cy="559.58" rx="1.8" ry="2.45"/>
<ellipse cx="244.01" cy="566.60" rx="1.8" ry="2.45"/>
<ellipse cx="244.01" cy="573.62" rx="1.8" ry="2.45"/>
<ellipse cx="244.01" cy="580.64" rx="1.8" ry="2.45"/>
<ellipse cx="244.01" cy="587.66" rx="1.8" ry="2.45"/>
<ellipse cx="250.80" cy="531.50" rx="1.8" ry="2.45"/>
<ellipse cx="250.80" cy="538.52" rx="1.8" ry="2.45"/>
<ellipse cx="250.80" cy="545.54" rx="1.8" ry="2.45"/>
<ellipse cx="250.80" cy="552.56" rx="1.8" ry="2.45"/>
<ellipse cx="250.80" cy="559.58" rx="1.8" ry="2.45"/>
<ellipse cx="250.80" cy="566.60" rx="1.8" ry="2.45"/>
<ellipse cx="250.80" cy="573.62" rx="1.8" ry="2.45"/>
<ellipse cx="250.80" cy="580.64" rx="1.8" ry="2.45"/>
<ellipse cx="250.80" cy="587.66" rx="1.8" ry="2.45"/>
<ellipse cx="257.59" cy="531.50" rx="1.8" ry="2.45"/>
<ellipse cx="257.59" cy="538.52" rx="1.8" ry="2.45"/>
<ellipse cx="257.59" cy="545.54" rx="1.8" ry="2.45"/>
<ellipse cx="257.59" cy="552.56" rx="1.8" ry="2.45"/>
<ellipse cx="257.59" cy="559.58" rx="1.8" ry="2.45"/>
<ellipse cx="257.59" cy="566.60" rx="1.8" ry="2.45"/>
<ellipse cx="257.59" cy="573.62" rx="1.8" ry="2.45"/>
<ellipse cx="257.59" cy="580.64" rx="1.8" ry="2.45"/>
<ellipse cx="257.59" cy="587.66" rx="1.8" ry="2.45"/>
<ellipse cx="264.38" cy="531.50" rx="1.8" ry="2.45"/>
<ellipse cx="264.38" cy="538.52" rx="1.8" ry="2.45"/>
<ellipse cx="264.38" cy="545.54" rx="1.8" ry="2.45"/>
<ellipse cx="264.38" cy="552.56" rx="1.8" ry="2.45"/>
<ellipse cx="264.38" cy="559.58" rx="1.8" ry="2.45"/>
<ellipse cx="264.38" cy="566.60" rx="1.8" ry="2.45"/>
<ellipse cx="264.38" cy="573.62" rx="1.8" ry="2.45"/>
<ellipse cx="264.38" cy="580.64" rx="1.8" ry="2.45"/>
<ellipse cx="264.38" cy="587.66" rx="1.8" ry="2.45"/>
<ellipse cx="271.17" cy="531.50" rx="1.8" ry="2.45"/>
<ellipse cx="271.17" cy="538.52" rx="1.8" ry="2.45"/>
<ellipse cx="271.17" cy="545.54" rx="1.8" ry="2.45"/>
<ellipse cx="271.17" cy="552.56" rx="1.8" ry="2.45"/>
<ellipse cx="271.17" cy="559.58" rx="1.8" ry="2.45"/>
<ellipse cx="271.17" cy="566.60" rx="1.8" ry="2.45"/>
<ellipse cx="271.17" cy="573.62" rx="1.8" ry="2.45"/>
<ellipse cx="271.17" cy="580.64" rx="1.8" ry="2.45"/>
<ellipse cx="271.17" cy="587.66" rx="1.8" ry="2.45"/>
<ellipse cx="277.96" cy="531.50" rx="1.8" ry="2.45"/>
<ellipse cx="277.96" cy="538.52" rx="1.8" ry="2.45"/>
<ellipse cx="277.96" cy="545.54" rx="1.8" ry="2.45"/>
<ellipse cx="277.96" cy="552.56" rx="1.8" ry="2.45"/>
<ellipse cx="277.96" cy="559.58" rx="1.8" ry="2.45"/>
<ellipse cx="277.96" cy="566.60" rx="1.8" ry="2.45"/>
<ellipse cx="277.96" cy="573.62" rx="1.8" ry="2.45"/>
<ellipse cx="277.96" cy="580.64" rx="1.8" ry="2.45"/>
<ellipse cx="277.96" cy="587.66" rx="1.8" ry="2.45"/>
<ellipse cx="284.75" cy="531.50" rx="1.8" ry="2.45"/>
<ellipse cx="284.75" cy="538.52" rx="1.8" ry="2.45"/>
<ellipse cx="284.75" cy="545.54" rx="1.8" ry="2.45"/>
<ellipse cx="284.75" cy="552.56" rx="1.8" ry="2.45"/>
<ellipse cx="284.75" cy="559.58" rx="1.8" ry="2.45"/>
<ellipse cx="284.75" cy="566.60" rx="1.8" ry="2.45"/>
<ellipse cx="284.75" cy="573.62" rx="1.8" ry="2.45"/>
<ellipse cx="284.75" cy="580.64" rx="1.8" ry="2.45"/>
<ellipse cx="284.75" cy="587.66" rx="1.8" ry="2.45"/>
<ellipse cx="291.54" cy="531.50" rx="1.8" ry="2.45"/>
<ellipse cx="291.54" cy="538.52" rx="1.8" ry="2.45"/>
<ellipse cx="291.54" cy="545.54" rx="1.8" ry="2.45"/>
<ellipse cx="291.54" cy="552.56" rx="1.8" ry="2.45"/>
<ellipse cx="291.54" cy="559.58" rx="1.8" ry="2.45"/>
<ellipse cx="291.54" cy="566.60" rx="1.8" ry="2.45"/>
<ellipse cx="291.54" cy="573.62" rx="1.8" ry="2.45"/>
<ellipse cx="291.54" cy="580.64" rx="1.8" ry="2.45"/>
<ellipse cx="291.54" cy="587.66" rx="1.8" ry="2.45"/>
<ellipse cx="298.33" cy="531.50" rx="1.8" ry="2.45"/>
<ellipse cx="298.33" cy="538.52" rx="1.8" ry="2.45"/>
<ellipse cx="298.33" cy="545.54" rx="1.8" ry="2.45"/>
<ellipse cx="298.33" cy="552.56" rx="1.8" ry="2.45"/>
<ellipse cx="298.33" cy="559.58" rx="1.8" ry="2.45"/>
<ellipse cx="298.33" cy="566.60" rx="1.8" ry="2.45"/>
<ellipse cx="298.33" cy="573.62" rx="1.8" ry="2.45"/>
<ellipse cx="298.33" cy="580.64" rx="1.8" ry="2.45"/>
<ellipse cx="298.33" cy="587.66" rx="1.8" ry="2.45"/>
<ellipse cx="305.12" cy="531.50" rx="1.8" ry="2.45"/>
<ellipse cx="305.12" cy="538.52" rx="1.8" ry="2.45"/>
<ellipse cx="305.12" cy="545.54" rx="1.8" ry="2.45"/>
<ellipse cx="305.12" cy="552.56" rx="1.8" ry="2.45"/>
<ellipse cx="305.12" cy="559.58" rx="1.8" ry="2.45"/>
<ellipse cx="305.12" cy="566.60" rx="1.8" ry="2.45"/>
<ellipse cx="305.12" cy="573.62" rx="1.8" ry="2.45"/>
<ellipse cx="305.12" cy="580.64" rx="1.8" ry="2.45"/>
<ellipse cx="305.12" cy="587.66" rx="1.8" ry="2.45"/>
<ellipse cx="311.91" cy="531.50" rx="1.8" ry="2.45"/>
<ellipse cx="311.91" cy="538.52" rx="1.8" ry="2.45"/>
<ellipse cx="311.91" cy="545.54" rx="1.8" ry="2.45"/>
<ellipse cx="311.91" cy="552.56" rx="1.8" ry="2.45"/>
<ellipse cx="311.91" cy="559.58" rx="1.8" ry="2.45"/>
<ellipse cx="311.91" cy="566.60" rx="1.8" ry="2.45"/>
<ellipse cx="311.91" cy="573.62" rx="1.8" ry="2.45"/>
<ellipse cx="311.91" cy="580.64" rx="1.8" ry="2.45"/>
<ellipse cx="311.91" cy="587.66" rx="1.8" ry="2.45"/>
<ellipse cx="318.70" cy="531.50" rx="1.8" ry="2.45"/>
<ellipse cx="318.70" cy="538.52" rx="1.8" ry="2.45"/>
<ellipse cx="318.70" cy="545.54" rx="1.8" ry="2.45"/>
<ellipse cx="318.70" cy="552.56" rx="1.8" ry="2.45"/>
<ellipse cx="318.70" cy="559.58" rx="1.8" ry="2.45"/>
<ellipse cx="318.70" cy="566.60" rx="1.8" ry="2.45"/>
<ellipse cx="318.70" cy="573.62" rx="1.8" ry="2.45"/>
<ellipse cx="318.70" cy="580.64" rx="1.8" ry="2.45"/>
<ellipse cx="318.70" cy="587.66" rx="1.8" ry="2.45"/>
<ellipse cx="325.49" cy="531.50" rx="1.8" ry="2.45"/>
<ellipse cx="325.49" cy="538.52" rx="1.8" ry="2.45"/>
<ellipse cx="325.49" cy="545.54" rx="1.8" ry="2.45"/>
<ellipse cx="325.49" cy="552.56" rx="1.8" ry="2.45"/>
<ellipse cx="325.49" cy="559.58" rx="1.8" ry="2.45"/>
<ellipse cx="325.49" cy="566.60" rx="1.8" ry="2.45"/>
<ellipse cx="325.49" cy="573.62" rx="1.8" ry="2.45"/>
<ellipse cx="325.49" cy="580.64" rx="1.8" ry="2.45"/>
<ellipse cx="325.49" cy="587.66" rx="1.8" ry="2.45"/>
<ellipse cx="332.28" cy="531.50" rx="1.8" ry="2.45"/>
<ellipse cx="332.28" cy="538.52" rx="1.8" ry="2.45"/>
<ellipse cx="332.28" cy="545.54" rx="1.8" ry="2.45"/>
<ellipse cx="332.28" cy="552.56" rx="1.8" ry="2.45"/>
<ellipse cx="332.28" cy="559.58" rx="1.8" ry="2.45"/>
<ellipse cx="332.28" cy="566.60" rx="1.8" ry="2.45"/>
<ellipse cx="332.28" cy="573.62" rx="1.8" ry="2.45"/>
<ellipse cx="332.28" cy="580.64" rx="1.8" ry="2.45"/>
<ellipse cx="332.28" cy="587.66" rx="1.8" ry="2.45"/>
<ellipse cx="339.07" cy="531.50" rx="1.8" ry="2.45"/>
<ellipse cx="339.07" cy="538.52" rx="1.8" ry="2.45"/>
<ellipse cx="339.07" cy="545.54" rx="1.8" ry="2.45"/>
<ellipse cx="339.07" cy="552.56" rx="1.8" ry="2.45"/>
<ellipse cx="339.07" cy="559.58" rx="1.8" ry="2.45"/>
<ellipse cx="339.07" cy="566.60" rx="1.8" ry="2.45"/>
<ellipse cx="339.07" cy="573.62" rx="1.8" ry="2.45"/>
<ellipse cx="339.07" cy="580.64" rx="1.8" ry="2.45"/>
<ellipse cx="339.07" cy="587.66" rx="1.8" ry="2.45"/>
<ellipse cx="345.86" cy="531.50" rx="1.8" ry="2.45"/>
<ellipse cx="345.86" cy="538.52" rx="1.8" ry="2.45"/>
<ellipse cx="345.86" cy="545.54" rx="1.8" ry="2.45"/>
<ellipse cx="345.86" cy="552.56" rx="1.8" ry="2.45"/>
<ellipse cx="345.86" cy="559.58" rx="1.8" ry="2.45"/>
<ellipse cx="345.86" cy="566.60" rx="1.8" ry="2.45"/>
<ellipse cx="345.86" cy="573.62" rx="1.8" ry="2.45"/>
<ellipse cx="345.86" cy="580.64" rx="1.8" ry="2.45"/>
<ellipse cx="345.86" cy="587.66" rx="1.8" ry="2.45"/>
<ellipse cx="352.65" cy="531.50" rx="1.8" ry="2.45"/>
<ellipse cx="352.65" cy="538.52" rx="1.8" ry="2.45"/>
<ellipse cx="352.65" cy="545.54" rx="1.8" ry="2.45"/>
<ellipse cx="352.65" cy="552.56" rx="1.8" ry="2.45"/>
<ellipse cx="352.65" cy="559.58" rx="1.8" ry="2.45"/>
<ellipse cx="352.65" cy="566.60" rx="1.8" ry="2.45"/>
<ellipse cx="352.65" cy="573.62" rx="1.8" ry="2.45"/>
<ellipse cx="352.65" cy="580.64" rx="1.8" ry="2.45"/>
<ellipse cx="352.65" cy="587.66" rx="1.8" ry="2.45"/>
<ellipse cx="359.44" cy="531.50" rx="1.8" ry="2.45"/>
<ellipse cx="359.44" cy="538.52" rx="1.8" ry="2.45"/>
<ellipse cx="359.44" cy="545.54" rx="1.8" ry="2.45"/>
<ellipse cx="359.44" cy="552.56" rx="1.8" ry="2.45"/>
<ellipse cx="359.44" cy="559.58" rx="1.8" ry="2.45"/>
<ellipse cx="359.44" cy="566.60" rx="1.8" ry="2.45"/>
<ellipse cx="359.44" cy="573.62" rx="1.8" ry="2.45"/>
<ellipse cx="359.44" cy="580.64" rx="1.8" ry="2.45"/>
<ellipse cx="359.44" cy="587.66" rx="1.8" ry="2.45"/>
<ellipse cx="366.23" cy="531.50" rx="1.8" ry="2.45"/>
<ellipse cx="366.23" cy="538.52" rx="1.8" ry="2.45"/>
<ellipse cx="366.23" cy="545.54" rx="1.8" ry="2.45"/>
<ellipse cx="366.23" cy="552.56" rx="1.8" ry="2.45"/>
<ellipse cx="366.23" cy="559.58" rx="1.8" ry="2.45"/>
<ellipse cx="366.23" cy="566.60" rx="1.8" ry="2.45"/>
<ellipse cx="366.23" cy="573.62" rx="1.8" ry="2.45"/>
<ellipse cx="366.23" cy="580.64" rx="1.8" ry="2.45"/>
<ellipse cx="366.23" cy="587.66" rx="1.8" ry="2.45"/>
<ellipse cx="373.02" cy="531.50" rx="1.8" ry="2.45"/>
<ellipse cx="373.02" cy="538.52" rx="1.8" ry="2.45"/>
<ellipse cx="373.02" cy="545.54" rx="1.8" ry="2.45"/>
<ellipse cx="373.02" cy="552.56" rx="1.8" ry="2.45"/>
<ellipse cx="373.02" cy="559.58" rx="1.8" ry="2.45"/>
<ellipse cx="373.02" cy="566.60" rx="1.8" ry="2.45"/>
<ellipse cx="373.02" cy="573.62" rx="1.8" ry="2.45"/>
<ellipse cx="373.02" cy="580.64" rx="1.8" ry="2.45"/>
<ellipse cx="373.02" cy="587.66" rx="1.8" ry="2.45"/>
<ellipse cx="379.81" cy="531.50" rx="1.8" ry="2.45"/>
<ellipse cx="379.81" cy="538.52" rx="1.8" ry="2.45"/>
<ellipse cx="379.81" cy="545.54" rx="1.8" ry="2.45"/>
<ellipse cx="379.81" cy="552.56" rx="1.8" ry="2.45"/>
<ellipse cx="379.81" cy="559.58" rx="1.8" ry="2.45"/>
<ellipse cx="379.81" cy="566.60" rx="1.8" ry="2.45"/>
<ellipse cx="379.81" cy="573.62" rx="1.8" ry="2.45"/>
<ellipse cx="379.81" cy="580.64" rx="1.8" ry="2.45"/>
<ellipse cx="379.81" cy="587.66" rx="1.8" ry="2.45"/>
<ellipse cx="386.60" cy="531.50" rx="1.8" ry="2.45"/>
<ellipse cx="386.60" cy="538.52" rx="1.8" ry="2.45"/>
<ellipse cx="386.60" cy="545.54" rx="1.8" ry="2.45"/>
<ellipse cx="386.60" cy="552.56" rx="1.8" ry="2.45"/>
<ellipse cx="386.60" cy="559.58" rx="1.8" ry="2.45"/>
<ellipse cx="386.60" cy="566.60" rx="1.8" ry="2.45"/>
<ellipse cx="386.60" cy="573.62" rx="1.8" ry="2.45"/>
<ellipse cx="386.60" cy="580.64" rx="1.8" ry="2.45"/>
<ellipse cx="386.60" cy="587.66" rx="1.8" ry="2.45"/>
</g>
<g fill="#000" stroke="#222" stroke-width="0.8">
<line x1="115.00" y1="552.56" x2="115.00" y2="587.66"/>
<line x1="121.79" y1="559.58" x2="121.79" y2="587.66"/>
<line x1="128.58" y1="552.56" x2="128.58" y2="587.66"/>
<line x1="135.37" y1="552.56" x2="135.37" y2="573.62"/>
<line x1="142.16" y1="559.58" x2="142.16" y2="587.66"/>
<line x1="155.74" y1="559.58" x2="155.74" y2="587.66"/>
<line x1="169.32" y1="552.56" x2="169.32" y2="573.62"/>
<line x1="176.11" y1="566.60" x2="176.11" y2="587.66"/>
<line x1="182.90" y1="552.56" x2="182.90" y2="587.66"/>
<line x1="189.69" y1="580.64" x2="189.69" y2="587.66"/>
<line x1="196.48" y1="559.58" x2="196.48" y2="587.66"/>
<line x1="203.27" y1="566.60" x2="203.27" y2="587.66"/>
<line x1="210.06" y1="552.56" x2="210.06" y2="587.66"/>
<line x1="230.43" y1="552.56" x2="230.43" y2="559.58"/>
<line x1="237.22" y1="552.56" x2="237.22" y2="566.60"/>
<line x1="244.01" y1="552.56" x2="244.01" y2="566.60"/>
<line x1="250.80" y1="538.52" x2="250.80" y2="573.62"/>
<line x1="257.59" y1="552.56" x2="257.59" y2="573.62"/>
<line x1="264.38" y1="566.60" x2="264.38" y2="573.62"/>
<line x1="271.17" y1="559.58" x2="271.17" y2="573.62"/>
<line x1="284.75" y1="573.62" x2="284.75" y2="580.64"/>
<line x1="291.54" y1="538.52" x2="291.54" y2="580.64"/>
<line x1="298.33" y1="552.56" x2="298.33" y2="580.64"/>
<line x1="305.12" y1="559.58" x2="305.12" y2="580.64"/>
<line x1="318.70" y1="552.56" x2="318.70" y2="587.66"/>
<line x1="325.49" y1="545.54" x2="325.49" y2="587.66"/>
<line x1="332.28" y1="538.52" x2="332.28" y2="587.66"/>
<line x1="339.07" y1="552.56" x2="339.07" y2="587.66"/>
<line x1="345.86" y1="552.56" x2="345.86" y2="587.66"/>
<line x1="352.65" y1="545.54" x2="352.65" y2="587.66"/>
<line x1="359.44" y1="545.54" x2="359.44" y2="587.66"/>
<line x1="366.23" y1="531.50" x2="366.23" y2="587.66"/>
<line x1="373.02" y1="566.60" x2="373.02" y2="587.66"/>
<line x1="379.81" y1="545.54" x2="379.81" y2="587.66"/>
<line x1="386.60" y1="545.54" x2="386.60" y2="587.66"/>
<ellipse cx="115.00" cy="552.56" rx="1.8" ry="2.45" stroke="none"/>
<ellipse cx="115.00" cy="559.58" rx="1.8" ry="2.45" stroke="none"/>
<ellipse cx="115.00" cy="566.60" rx="1.8" ry="2.45" stroke="none"/>
<ellipse cx="115.00" cy="573.62" rx="1.8" ry="2.45" stroke="none"/>
<ellipse cx="115.00" cy="580.64" rx="1.8" ry="2.45" stroke="none"/>
<ellipse cx="115.00" cy="587.66" rx="1.8" ry="2.45" stroke="none"/>
<ellipse cx="121.79" cy="559.58" rx="1.8" ry="2.45" stroke="none"/>
<ellipse cx="121.79" cy="566.60" rx="1.8" ry="2.45" stroke="none"/>
<ellipse cx="121.79" cy="580.64" rx="1.8" ry="2.45" stroke="none"/>
<ellipse cx="121.79" cy="587.66" rx="1.8" ry="2.45" stroke="none"/>
<ellipse cx="128.58" cy="552.56" rx="1.8" ry="2.45" stroke="none"/>
<ellipse cx="128.58" cy="573.62" rx="1.8" ry="2.45" stroke="none"/>
<ellipse cx="128.58" cy="580.64" rx="1.8" ry="2.45" stroke="none"/>
<ellipse cx="128.58" cy="587.66" rx="1.8" ry="2.45" stroke="none"/>
<ellipse cx="135.37" cy="552.56" rx="1.8" ry="2.45" stroke="none"/>
<ellipse cx="135.37" cy="573.62" rx="1.8" ry="2.45" stroke="none"/>
<ellipse cx="142.16" cy="559.58" rx="1.8" ry="2.45" stroke="none"/>
<ellipse cx="142.16" cy="566.60" rx="1.8" ry="2.45" stroke="none"/>
<ellipse cx="142.16" cy="587.66" rx="1.8" ry="2.45" stroke="none"/>
<ellipse cx="148.95" cy="573.62" rx="1.8" ry="2.45" stroke="none"/>
<ellipse cx="155.74" cy="559.58" rx="1.8" ry="2.45" stroke="none"/>
<ellipse cx="155.74" cy="566.60" rx="1.8" ry="2.45" stroke="none"/>
<ellipse cx="155.74" cy="573.62" rx="1.8" ry="2.45" stroke="none"/>
<ellipse cx="155.74" cy="580.64" rx="1.8" ry="2.45" stroke="none"/>
<ellipse cx="155.74" cy="587.66" rx="1.8" ry="2.45" stroke="none"/>
<ellipse cx="162.53" cy="552.56" rx="1.8" ry="2.45" stroke="none"/>
<ellipse cx="169.32" cy="552.56" rx="1.8" ry="2.45" stroke="none"/>
<ellipse cx="169.32" cy="559.58" rx="1.8" ry="2.45" stroke="none"/>
<ellipse cx="169.32" cy="566.60" rx="1.8" ry="2.45" stroke="none"/>
<ellipse cx="169.32" cy="573.62" rx="1.8" ry="2.45" stroke="none"/>
<ellipse cx="176.11" cy="566.60" rx="1.8" ry="2.45" stroke="none"/>
<ellipse cx="176.11" cy="587.66" rx="1.8" ry="2.45" stroke="none"/>
<ellipse cx="182.90" cy="552.56" rx="1.8" ry="2.45" stroke="none"/>
<ellipse cx="182.90" cy="559.58" rx="1.8" ry="2.45" stroke="none"/>
<ellipse cx="182.90" cy="566.60" rx="1.8" ry="2.45" stroke="none"/>
<ellipse cx="182.90" cy="573.62" rx="1.8" ry="2.45" stroke="none"/>
<ellipse cx="182.90" cy="587.66" rx="1.8" ry="2.45" stroke="none"/>
<ellipse cx="189.69" cy="580.64" rx="1.8" ry="2.45" stroke="none"/>
<ellipse cx="189.69" cy="587.66" rx="1.8" ry="2.45" stroke="none"/>
<ellipse cx="196.48" cy="559.58" rx="1.8" ry="2.45" stroke="none"/>
<ellipse cx="196.48" cy="580.64" rx="1.8" ry="2.45" stroke="none"/>
<ellipse cx="196.48" cy="587.66" rx="1.8" ry="2.45" stroke="none"/>
<ellipse cx="203.27" cy="566.60" rx="1.8" ry="2.45" stroke="none"/>
<ellipse cx="203.27" cy="580.64" rx="1.8" ry="2.45" stroke="none"/>
<ellipse cx="203.27" cy="587.66" rx="1.8" ry="2.45" stroke="none"/>
<ellipse cx="210.06" cy="552.56" rx="1.8" ry="2.45" stroke="none"/>
<ellipse cx="210.06" cy="559.58" rx="1.8" ry="2.45" stroke="none"/>
<ellipse cx="210.06" cy="566.60" rx="1.8" ry="2.45" stroke="none"/>
<ellipse cx="210.06" cy="580.64" rx="1.8" ry="2.45" stroke="none"/>
<ellipse cx="210.06" cy="587.66" rx="1.8" ry="2.45" stroke="none"/>
<ellipse cx="216.85" cy="531.50" rx="1.8" ry="2.45" stroke="none"/>
<ellipse cx="223.64" cy="559.58" rx="1.8" ry="2.45" stroke="none"/>
<ellipse cx="230.43" cy="552.56" rx="1.8" ry="2.45" stroke="none"/>
<ellipse cx="230.43" cy="559.58" rx="1.8" ry="2.45" stroke="none"/>
<ellipse cx="237.22" cy="552.56" rx="1.8" ry="2.45" stroke="none"/>
<ellipse cx="237.22" cy="566.60" rx="1.8" ry="2.45" stroke="none"/>
<ellipse cx="244.01" cy="552.56" rx="1.8" ry="2.45" stroke="none"/>
<ellipse cx="244.01" cy="559.58" rx="1.8" ry="2.45" stroke="none"/>
<ellipse cx="244.01" cy="566.60" rx="1.8" ry="2.45" stroke="none"/>
<ellipse cx="250.80" cy="538.52" rx="1.8" ry="2.45" stroke="none"/>
<ellipse cx="250.80" cy="573.62" rx="1.8" ry="2.45" stroke="none"/>
<ellipse cx="257.59" cy="552.56" rx="1.8" ry="2.45" stroke="none"/>
<ellipse cx="257.59" cy="559.58" rx="1.8" ry="2.45" stroke="none"/>
<ellipse cx="257.59" cy="573.62" rx="1.8" ry="2.45" stroke="none"/>
<ellipse cx="264.38" cy="566.60" rx="1.8" ry="2.45" stroke="none"/>
<ellipse cx="264.38" cy="573.62" rx="1.8" ry="2.45" stroke="none"/>
<ellipse cx="271.17" cy="559.58" rx="1.8" ry="2.45" stroke="none"/>
<ellipse cx="271.17" cy="566.60" rx="1.8" ry="2.45" stroke="none"/>
<ellipse cx="271.17" cy="573.62" rx="1.8" ry="2.45" stroke="none"/>
<ellipse cx="277.96" cy="580.64" rx="1.8" ry="2.45" stroke="none"/>
<ellipse cx="284.75" cy="573.62" rx="1.8" ry="2.45" stroke="none"/>
<ellipse cx="284.75" cy="580.64" rx="1.8" ry="2.45" stroke="none"/>
<ellipse cx="291.54" cy="538.52" rx="1.8" ry="2.45" stroke="none"/>
<ellipse cx="291.54" cy="573.62" rx="1.8" ry="2.45" stroke="none"/>
<ellipse cx="291.54" cy="580.64" rx="1.8" ry="2.45" stroke="none"/>
<ellipse cx="298.33" cy="552.56" rx="1.8" ry="2.45" stroke="none"/>
<ellipse cx="298.33" cy="573.62" rx="1.8" ry="2.45" stroke="none"/>
<ellipse cx="298.33" cy="580.64" rx="1.8" ry="2.45" stroke="none"/>
<ellipse cx="305.12" cy="559.58" rx="1.8" ry="2.45" stroke="none"/>
<ellipse cx="305.12" cy="573.62" rx="1.8" ry="2.45" stroke="none"/>
<ellipse cx="305.12" cy="580.64" rx="1.8" ry="2.45" stroke="none"/>
<ellipse cx="311.91" cy="587.66" rx="1.8" ry="2.45" stroke="none"/>
<ellipse cx="318.70" cy="552.56" rx="1.8" ry="2.45" stroke="none"/>
<ellipse cx="318.70" cy="587.66" rx="1.8" ry="2.45" stroke="none"/>
<ellipse cx="325.49" cy="545.54" rx="1.8" ry="2.45" stroke="none"/>
<ellipse cx="325.49" cy="566.60" rx="1.8" ry="2.45" stroke="none"/>
<ellipse cx="325.49" cy="587.66" rx="1.8" ry="2.45" stroke="none"/>
<ellipse cx="332.28" cy="538.52" rx="1.8" ry="2.45" stroke="none"/>
<ellipse cx="332.28" cy="552.56" rx="1.8" ry="2.45" stroke="none"/>
<ellipse cx="332.28" cy="573.62" rx="1.8" ry="2.45" stroke="none"/>
<ellipse cx="332.28" cy="587.66" rx="1.8" ry="2.45" stroke="none"/>
<ellipse cx="339.07" cy="552.56" rx="1.8" ry="2.45" stroke="none"/>
<ellipse cx="339.07" cy="559.58" rx="1.8" ry="2.45" stroke="none"/>
<ellipse cx="339.07" cy="573.62" rx="1.8" ry="2.45" stroke="none"/>
<ellipse cx="339.07" cy="587.66" rx="1.8" ry="2.45" stroke="none"/>
<ellipse cx="345.86" cy="552.56" rx="1.8" ry="2.45" stroke="none"/>
<ellipse cx="345.86" cy="580.64" rx="1.8" ry="2.45" stroke="none"/>
<ellipse cx="345.86" cy="587.66" rx="1.8" ry="2.45" stroke="none"/>
<ellipse cx="352.65" cy="545.54" rx="1.8" ry="2.45" stroke="none"/>
<ellipse cx="352.65" cy="566.60" rx="1.8" ry="2.45" stroke="none"/>
<ellipse cx="352.65" cy="580.64" rx="1.8" ry="2.45" stroke="none"/>
<ellipse cx="352.65" cy="587.66" rx="1.8" ry="2.45" stroke="none"/>
<ellipse cx="359.44" cy="545.54" rx="1.8" ry="2.45" stroke="none"/>
<ellipse cx="359.44" cy="559.58" rx="1.8" ry="2.45" stroke="none"/>
<ellipse cx="359.44" cy="566.60" rx="1.8" ry="2.45" stroke="none"/>
<ellipse cx="359.44" cy="580.64" rx="1.8" ry="2.45" stroke="none"/>
<ellipse cx="359.44" cy="587.66" rx="1.8" ry="2.45" stroke="none"/>
<ellipse cx="366.23" cy="531.50" rx="1.8" ry="2.45" stroke="none"/>
<ellipse cx="366.23" cy="552.56" rx="1.8" ry="2.45" stroke="none"/>
<ellipse cx="366.23" cy="559.58" rx="1.8" ry="2.45" stroke="none"/>
<ellipse cx="366.23" cy="573.62" rx="1.8" ry="2.45" stroke="none"/>
<ellipse cx="366.23" cy="580.64" rx="1.8" ry="2.45" stroke="none"/>
<ellipse cx="366.23" cy="587.66" rx="1.8" ry="2.45" stroke="none"/>
<ellipse cx="373.02" cy="566.60" rx="1.8" ry="2.45" stroke="none"/>
<ellipse cx="373.02" cy="573.62" rx="1.8" ry="2.45" stroke="none"/>
<ellipse cx="373.02" cy="580.64" rx="1.8" ry="2.45" stroke="none"/>
<ellipse cx="373.02" cy="587.66" rx="1.8" ry="2.45" stroke="none"/>
<ellipse cx="379.81" cy="545.54" rx="1.8" ry="2.45" stroke="none"/>
<ellipse cx="379.81" cy="552.56" rx="1.8" ry="2.45" stroke="none"/>
<ellipse cx="379.81" cy="566.60" rx="1.8" ry="2.45" stroke="none"/>
<ellipse cx="379.81" cy="573.62" rx="1.8" ry="2.45" stroke="none"/>
<ellipse cx="379.81" cy="580.64" rx="1.8" ry="2.45" stroke="none"/>
<ellipse cx="379.81" cy="587.66" rx="1.8" ry="2.45" stroke="none"/>
<ellipse cx="386.60" cy="545.54" rx="1.8" ry="2.45" stroke="none"/>
<ellipse cx="386.60" cy="552.56" rx="1.8" ry="2.45" stroke="none"/>
<ellipse cx="386.60" cy="559.58" rx="1.8" ry="2.45" stroke="none"/>
<ellipse cx="386.60" cy="566.60" rx="1.8" ry="2.45" stroke="none"/>
<ellipse cx="386.60" cy="573.62" rx="1.8" ry="2.45" stroke="none"/>
<ellipse cx="386.60" cy="580.64" rx="1.8" ry="2.45" stroke="none"/>
<ellipse cx="386.60" cy="587.66" rx="1.8" ry="2.45" stroke="none"/>
</g>
<g font-family='"Liberation Sans", sans-serif' font-size="5.4" fill="#333" text-anchor="end">
<text x="105.9" y="533.40" textLength="18.6" lengthAdjust="spacingAndGlyphs">CT2vsCJ2</text>
<text x="105.9" y="540.42" textLength="18.6" lengthAdjust="spacingAndGlyphs">CT1vsCJ1</text>
<text x="105.9" y="547.44" textLength="18.6" lengthAdjust="spacingAndGlyphs">CT3vsCJ3</text>
<text x="105.9" y="554.46" textLength="18.6" lengthAdjust="spacingAndGlyphs">CT1vsCT2</text>
<text x="105.9" y="561.48" textLength="18.6" lengthAdjust="spacingAndGlyphs">CJ2vsCJ3</text>
<text x="105.9" y="568.50" textLength="18.6" lengthAdjust="spacingAndGlyphs">CT2vsCT3</text>
<text x="105.9" y="575.52" textLength="18.6" lengthAdjust="spacingAndGlyphs">CJ1vsCJ2</text>
<text x="105.9" y="582.54" textLength="18.6" lengthAdjust="spacingAndGlyphs">CJ1vsCJ3</text>
<text x="105.9" y="589.56" textLength="18.6" lengthAdjust="spacingAndGlyphs">CT1vsCT3</text>
</g>
<g fill="#000">
<rect x="79.00" y="529.70" width="3.40" height="3.6"/>
<rect x="77.90" y="536.72" width="4.50" height="3.6"/>
<rect x="75.30" y="543.74" width="7.10" height="3.6"/>
<rect x="24.20" y="550.76" width="58.20" height="3.6"/>
<rect x="21.20" y="557.78" width="61.20" height="3.6"/>
<rect x="18.30" y="564.80" width="64.10" height="3.6"/>
<rect x="18.30" y="571.82" width="64.10" height="3.6"/>
<rect x="14.40" y="578.84" width="68.00" height="3.6"/>
<rect x="3.00" y="585.86" width="79.40" height="3.6"/>
</g>
<line x1="0" y1="591.2" x2="85.5" y2="591.2" stroke="#6a6a6a" stroke-width="0.6"/>
<g font-family='"Liberation Sans", sans-serif' font-size="4.9" fill="#555" text-anchor="middle">
<line x1="26.60" y1="591.2" x2="26.60" y2="593" stroke="#6a6a6a" stroke-width="0.5"/>
<text transform="translate(26.60 599.2) scale(0.72 1)" x="0" y="0">40</text>
<line x1="54.20" y1="591.2" x2="54.20" y2="593" stroke="#6a6a6a" stroke-width="0.5"/>
<text transform="translate(54.20 599.2) scale(0.72 1)" x="0" y="0">20</text>
<line x1="82.40" y1="591.2" x2="82.40" y2="593" stroke="#6a6a6a" stroke-width="0.5"/>
<text transform="translate(82.40 599.2) scale(0.72 1)" x="0" y="0">0</text>
</g>
<text x="42.8" y="606.3" font-family='"Liberation Sans", sans-serif' font-size="6.6" fill="#333" text-anchor="middle" textLength="17.8" lengthAdjust="spacingAndGlyphs">Set Size</text>
</svg>
</body></html>
